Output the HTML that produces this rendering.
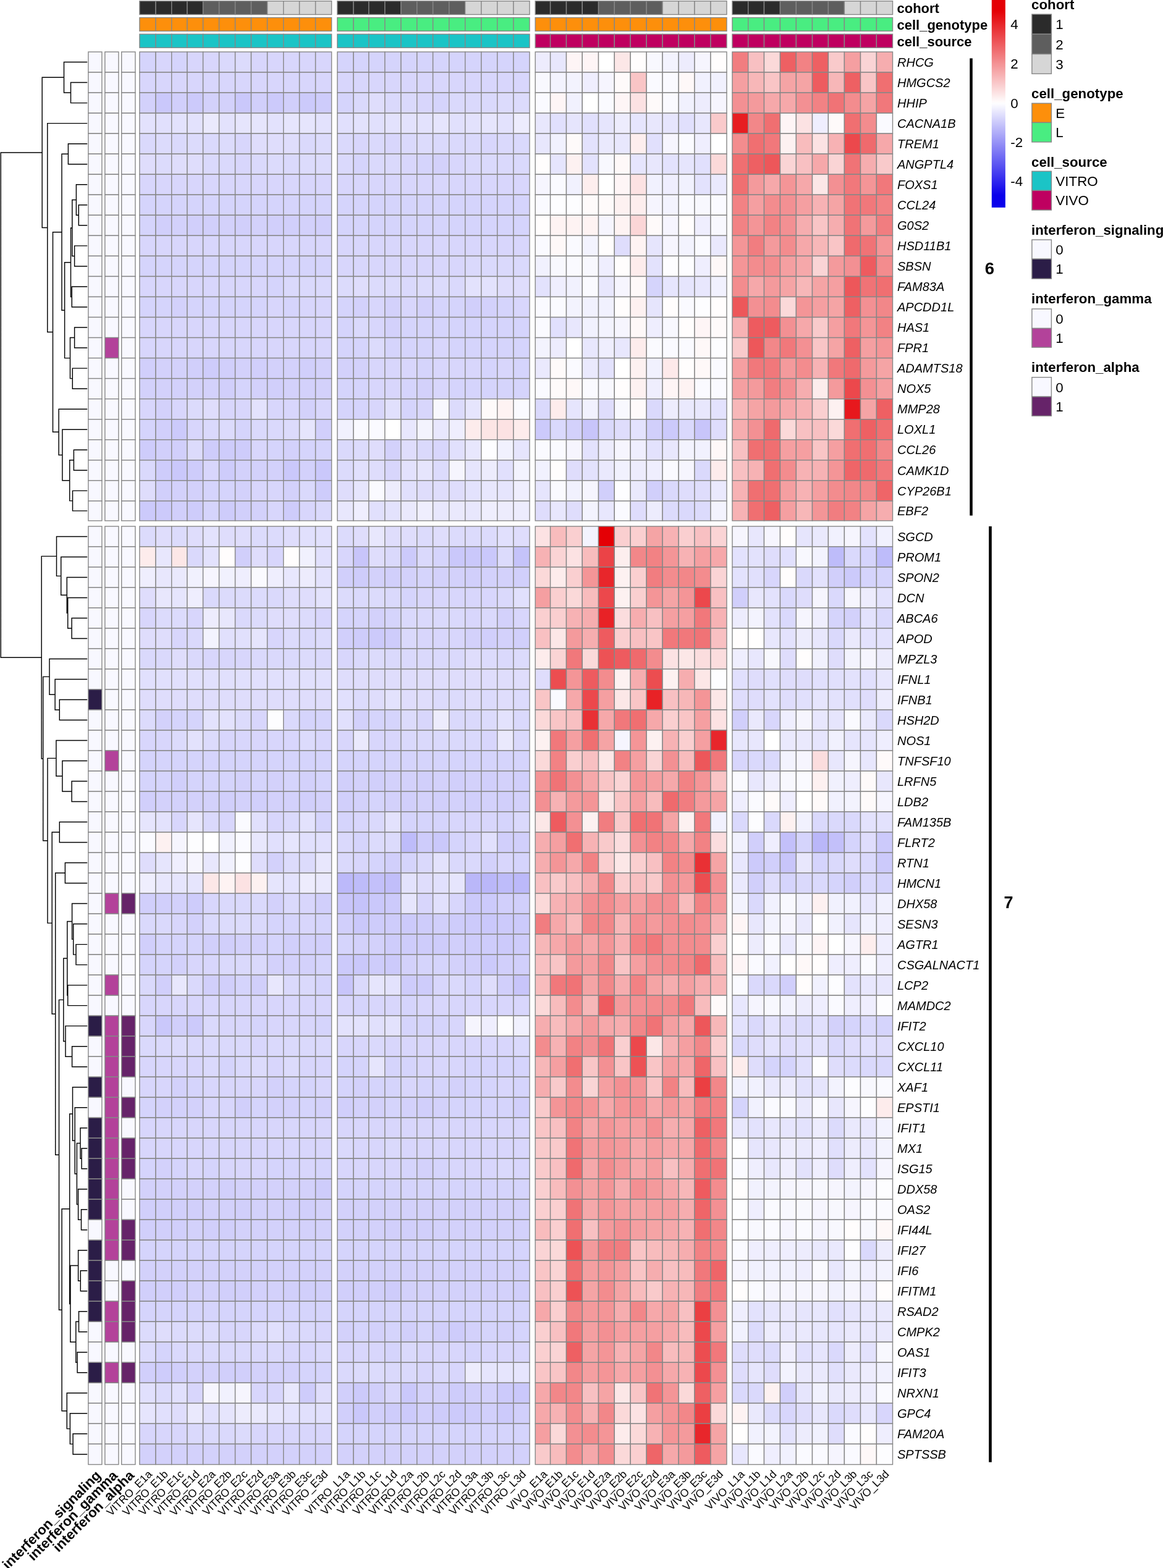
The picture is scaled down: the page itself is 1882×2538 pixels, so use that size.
<!DOCTYPE html>
<html><head><meta charset="utf-8"><title>heatmap</title>
<style>html,body{margin:0;padding:0;background:#fff;}svg{display:block;}</style>
</head><body>
<svg width="1882" height="2538" viewBox="0 0 1882 2538">
<rect x="0" y="0" width="1882" height="2538" fill="#ffffff"/>
<g stroke="#878787" stroke-width="1.4">
<rect x="225.90" y="84.00" width="26.10" height="33.04" fill="#d5d4fc"/>
<rect x="252.00" y="84.00" width="25.70" height="33.04" fill="#d8d6fc"/>
<rect x="277.70" y="84.00" width="25.20" height="33.04" fill="#d5d4fc"/>
<rect x="302.90" y="84.00" width="25.70" height="33.04" fill="#d8d6fc"/>
<rect x="328.60" y="84.00" width="26.00" height="33.04" fill="#d8d6fc"/>
<rect x="354.60" y="84.00" width="26.00" height="33.04" fill="#dad9fc"/>
<rect x="380.60" y="84.00" width="25.90" height="33.04" fill="#dcdbfc"/>
<rect x="406.50" y="84.00" width="26.10" height="33.04" fill="#d8d6fc"/>
<rect x="432.60" y="84.00" width="26.10" height="33.04" fill="#d8d6fc"/>
<rect x="458.70" y="84.00" width="25.90" height="33.04" fill="#d8d6fc"/>
<rect x="484.60" y="84.00" width="26.00" height="33.04" fill="#d8d6fc"/>
<rect x="510.60" y="84.00" width="26.00" height="33.04" fill="#d8d6fc"/>
<rect x="545.90" y="84.00" width="26.10" height="33.04" fill="#d5d4fc"/>
<rect x="572.00" y="84.00" width="24.80" height="33.04" fill="#d5d4fc"/>
<rect x="596.80" y="84.00" width="26.00" height="33.04" fill="#d5d4fc"/>
<rect x="622.80" y="84.00" width="26.10" height="33.04" fill="#d5d4fc"/>
<rect x="648.90" y="84.00" width="25.80" height="33.04" fill="#d5d4fc"/>
<rect x="674.70" y="84.00" width="25.90" height="33.04" fill="#d5d4fc"/>
<rect x="700.60" y="84.00" width="26.10" height="33.04" fill="#d5d4fc"/>
<rect x="726.70" y="84.00" width="26.00" height="33.04" fill="#d5d4fc"/>
<rect x="752.70" y="84.00" width="26.10" height="33.04" fill="#d5d4fc"/>
<rect x="778.80" y="84.00" width="25.90" height="33.04" fill="#d5d4fc"/>
<rect x="804.70" y="84.00" width="26.20" height="33.04" fill="#d5d4fc"/>
<rect x="830.90" y="84.00" width="26.10" height="33.04" fill="#d5d4fc"/>
<rect x="866.20" y="84.00" width="24.40" height="33.04" fill="#edecfd"/>
<rect x="890.60" y="84.00" width="25.90" height="33.04" fill="#e8e7fd"/>
<rect x="916.50" y="84.00" width="25.80" height="33.04" fill="#fef5f6"/>
<rect x="942.30" y="84.00" width="26.20" height="33.04" fill="#fef5f6"/>
<rect x="968.50" y="84.00" width="25.80" height="33.04" fill="#ffffff"/>
<rect x="994.30" y="84.00" width="25.90" height="33.04" fill="#fce7e7"/>
<rect x="1020.20" y="84.00" width="26.00" height="33.04" fill="#fffdfd"/>
<rect x="1046.20" y="84.00" width="25.90" height="33.04" fill="#f8f8fe"/>
<rect x="1072.10" y="84.00" width="26.10" height="33.04" fill="#f3f3fe"/>
<rect x="1098.20" y="84.00" width="25.80" height="33.04" fill="#edecfd"/>
<rect x="1124.00" y="84.00" width="26.00" height="33.04" fill="#f6f5fe"/>
<rect x="1150.00" y="84.00" width="26.00" height="33.04" fill="#fffdfd"/>
<rect x="1185.00" y="84.00" width="25.70" height="33.04" fill="#f17d80"/>
<rect x="1210.70" y="84.00" width="25.80" height="33.04" fill="#f8c0c2"/>
<rect x="1236.50" y="84.00" width="26.00" height="33.04" fill="#fbd9d9"/>
<rect x="1262.50" y="84.00" width="25.90" height="33.04" fill="#ee6063"/>
<rect x="1288.40" y="84.00" width="26.10" height="33.04" fill="#f28284"/>
<rect x="1314.50" y="84.00" width="25.90" height="33.04" fill="#ee6063"/>
<rect x="1340.40" y="84.00" width="26.00" height="33.04" fill="#f9cacb"/>
<rect x="1366.40" y="84.00" width="26.10" height="33.04" fill="#f59fa1"/>
<rect x="1392.50" y="84.00" width="25.90" height="33.04" fill="#fad4d5"/>
<rect x="1418.40" y="84.00" width="26.10" height="33.04" fill="#f6adaf"/>
<rect x="225.90" y="117.04" width="26.10" height="33.04" fill="#d8d6fc"/>
<rect x="252.00" y="117.04" width="25.70" height="33.04" fill="#d8d6fc"/>
<rect x="277.70" y="117.04" width="25.20" height="33.04" fill="#d8d6fc"/>
<rect x="302.90" y="117.04" width="25.70" height="33.04" fill="#d8d6fc"/>
<rect x="328.60" y="117.04" width="26.00" height="33.04" fill="#d8d6fc"/>
<rect x="354.60" y="117.04" width="26.00" height="33.04" fill="#d8d6fc"/>
<rect x="380.60" y="117.04" width="25.90" height="33.04" fill="#d8d6fc"/>
<rect x="406.50" y="117.04" width="26.10" height="33.04" fill="#d8d6fc"/>
<rect x="432.60" y="117.04" width="26.10" height="33.04" fill="#d8d6fc"/>
<rect x="458.70" y="117.04" width="25.90" height="33.04" fill="#d8d6fc"/>
<rect x="484.60" y="117.04" width="26.00" height="33.04" fill="#d8d6fc"/>
<rect x="510.60" y="117.04" width="26.00" height="33.04" fill="#d8d6fc"/>
<rect x="545.90" y="117.04" width="26.10" height="33.04" fill="#d8d6fc"/>
<rect x="572.00" y="117.04" width="24.80" height="33.04" fill="#d8d6fc"/>
<rect x="596.80" y="117.04" width="26.00" height="33.04" fill="#d8d6fc"/>
<rect x="622.80" y="117.04" width="26.10" height="33.04" fill="#d8d6fc"/>
<rect x="648.90" y="117.04" width="25.80" height="33.04" fill="#d8d6fc"/>
<rect x="674.70" y="117.04" width="25.90" height="33.04" fill="#d8d6fc"/>
<rect x="700.60" y="117.04" width="26.10" height="33.04" fill="#d8d6fc"/>
<rect x="726.70" y="117.04" width="26.00" height="33.04" fill="#d8d6fc"/>
<rect x="752.70" y="117.04" width="26.10" height="33.04" fill="#d8d6fc"/>
<rect x="778.80" y="117.04" width="25.90" height="33.04" fill="#d8d6fc"/>
<rect x="804.70" y="117.04" width="26.20" height="33.04" fill="#d8d6fc"/>
<rect x="830.90" y="117.04" width="26.10" height="33.04" fill="#d8d6fc"/>
<rect x="866.20" y="117.04" width="24.40" height="33.04" fill="#f8f8fe"/>
<rect x="890.60" y="117.04" width="25.90" height="33.04" fill="#f3f3fe"/>
<rect x="916.50" y="117.04" width="25.80" height="33.04" fill="#f3f3fe"/>
<rect x="942.30" y="117.04" width="26.20" height="33.04" fill="#efeefe"/>
<rect x="968.50" y="117.04" width="25.80" height="33.04" fill="#f6f5fe"/>
<rect x="994.30" y="117.04" width="25.90" height="33.04" fill="#fefafa"/>
<rect x="1020.20" y="117.04" width="26.00" height="33.04" fill="#f9c5c6"/>
<rect x="1046.20" y="117.04" width="25.90" height="33.04" fill="#fafaff"/>
<rect x="1072.10" y="117.04" width="26.10" height="33.04" fill="#fafaff"/>
<rect x="1098.20" y="117.04" width="25.80" height="33.04" fill="#fef8f8"/>
<rect x="1124.00" y="117.04" width="26.00" height="33.04" fill="#f1f1fe"/>
<rect x="1150.00" y="117.04" width="26.00" height="33.04" fill="#f1f1fe"/>
<rect x="1185.00" y="117.04" width="25.70" height="33.04" fill="#f59fa1"/>
<rect x="1210.70" y="117.04" width="25.80" height="33.04" fill="#f7b7b8"/>
<rect x="1236.50" y="117.04" width="26.00" height="33.04" fill="#f9c5c6"/>
<rect x="1262.50" y="117.04" width="25.90" height="33.04" fill="#f5a4a5"/>
<rect x="1288.40" y="117.04" width="26.10" height="33.04" fill="#f5a4a5"/>
<rect x="1314.50" y="117.04" width="25.90" height="33.04" fill="#ee5b5f"/>
<rect x="1340.40" y="117.04" width="26.00" height="33.04" fill="#f7b7b8"/>
<rect x="1366.40" y="117.04" width="26.10" height="33.04" fill="#ee6063"/>
<rect x="1392.50" y="117.04" width="25.90" height="33.04" fill="#f9c5c6"/>
<rect x="1418.40" y="117.04" width="26.10" height="33.04" fill="#f06f71"/>
<rect x="225.90" y="150.08" width="26.10" height="33.04" fill="#d3d1fb"/>
<rect x="252.00" y="150.08" width="25.70" height="33.04" fill="#cac8fb"/>
<rect x="277.70" y="150.08" width="25.20" height="33.04" fill="#d1cffb"/>
<rect x="302.90" y="150.08" width="25.70" height="33.04" fill="#cccafb"/>
<rect x="328.60" y="150.08" width="26.00" height="33.04" fill="#d3d1fb"/>
<rect x="354.60" y="150.08" width="26.00" height="33.04" fill="#d3d1fb"/>
<rect x="380.60" y="150.08" width="25.90" height="33.04" fill="#cac8fb"/>
<rect x="406.50" y="150.08" width="26.10" height="33.04" fill="#d1cffb"/>
<rect x="432.60" y="150.08" width="26.10" height="33.04" fill="#cccafb"/>
<rect x="458.70" y="150.08" width="25.90" height="33.04" fill="#d1cffb"/>
<rect x="484.60" y="150.08" width="26.00" height="33.04" fill="#cccafb"/>
<rect x="510.60" y="150.08" width="26.00" height="33.04" fill="#ceccfb"/>
<rect x="545.90" y="150.08" width="26.10" height="33.04" fill="#d5d4fc"/>
<rect x="572.00" y="150.08" width="24.80" height="33.04" fill="#dad9fc"/>
<rect x="596.80" y="150.08" width="26.00" height="33.04" fill="#dfddfc"/>
<rect x="622.80" y="150.08" width="26.10" height="33.04" fill="#dad9fc"/>
<rect x="648.90" y="150.08" width="25.80" height="33.04" fill="#dad9fc"/>
<rect x="674.70" y="150.08" width="25.90" height="33.04" fill="#d8d6fc"/>
<rect x="700.60" y="150.08" width="26.10" height="33.04" fill="#d5d4fc"/>
<rect x="726.70" y="150.08" width="26.00" height="33.04" fill="#dad9fc"/>
<rect x="752.70" y="150.08" width="26.10" height="33.04" fill="#dad9fc"/>
<rect x="778.80" y="150.08" width="25.90" height="33.04" fill="#dad9fc"/>
<rect x="804.70" y="150.08" width="26.20" height="33.04" fill="#dcdbfc"/>
<rect x="830.90" y="150.08" width="26.10" height="33.04" fill="#dcdbfc"/>
<rect x="866.20" y="150.08" width="24.40" height="33.04" fill="#fafaff"/>
<rect x="890.60" y="150.08" width="25.90" height="33.04" fill="#fef5f6"/>
<rect x="916.50" y="150.08" width="25.80" height="33.04" fill="#f1f1fe"/>
<rect x="942.30" y="150.08" width="26.20" height="33.04" fill="#ffffff"/>
<rect x="968.50" y="150.08" width="25.80" height="33.04" fill="#fafaff"/>
<rect x="994.30" y="150.08" width="25.90" height="33.04" fill="#fef5f6"/>
<rect x="1020.20" y="150.08" width="26.00" height="33.04" fill="#fce2e3"/>
<rect x="1046.20" y="150.08" width="25.90" height="33.04" fill="#fefafa"/>
<rect x="1072.10" y="150.08" width="26.10" height="33.04" fill="#fafaff"/>
<rect x="1098.20" y="150.08" width="25.80" height="33.04" fill="#f1f1fe"/>
<rect x="1124.00" y="150.08" width="26.00" height="33.04" fill="#edecfd"/>
<rect x="1150.00" y="150.08" width="26.00" height="33.04" fill="#f6f5fe"/>
<rect x="1185.00" y="150.08" width="25.70" height="33.04" fill="#f39093"/>
<rect x="1210.70" y="150.08" width="25.80" height="33.04" fill="#f49a9c"/>
<rect x="1236.50" y="150.08" width="26.00" height="33.04" fill="#f6a8aa"/>
<rect x="1262.50" y="150.08" width="25.90" height="33.04" fill="#f6a8aa"/>
<rect x="1288.40" y="150.08" width="26.10" height="33.04" fill="#f39093"/>
<rect x="1314.50" y="150.08" width="25.90" height="33.04" fill="#f28284"/>
<rect x="1340.40" y="150.08" width="26.00" height="33.04" fill="#f07376"/>
<rect x="1366.40" y="150.08" width="26.10" height="33.04" fill="#f38c8e"/>
<rect x="1392.50" y="150.08" width="25.90" height="33.04" fill="#f5a4a5"/>
<rect x="1418.40" y="150.08" width="26.10" height="33.04" fill="#f1787b"/>
<rect x="225.90" y="183.12" width="26.10" height="33.04" fill="#e3e2fd"/>
<rect x="252.00" y="183.12" width="25.70" height="33.04" fill="#e1e0fd"/>
<rect x="277.70" y="183.12" width="25.20" height="33.04" fill="#e3e2fd"/>
<rect x="302.90" y="183.12" width="25.70" height="33.04" fill="#e3e2fd"/>
<rect x="328.60" y="183.12" width="26.00" height="33.04" fill="#eae9fd"/>
<rect x="354.60" y="183.12" width="26.00" height="33.04" fill="#e3e2fd"/>
<rect x="380.60" y="183.12" width="25.90" height="33.04" fill="#e6e5fd"/>
<rect x="406.50" y="183.12" width="26.10" height="33.04" fill="#e6e5fd"/>
<rect x="432.60" y="183.12" width="26.10" height="33.04" fill="#e3e2fd"/>
<rect x="458.70" y="183.12" width="25.90" height="33.04" fill="#e6e5fd"/>
<rect x="484.60" y="183.12" width="26.00" height="33.04" fill="#e6e5fd"/>
<rect x="510.60" y="183.12" width="26.00" height="33.04" fill="#e3e2fd"/>
<rect x="545.90" y="183.12" width="26.10" height="33.04" fill="#e1e0fd"/>
<rect x="572.00" y="183.12" width="24.80" height="33.04" fill="#e3e2fd"/>
<rect x="596.80" y="183.12" width="26.00" height="33.04" fill="#e1e0fd"/>
<rect x="622.80" y="183.12" width="26.10" height="33.04" fill="#e3e2fd"/>
<rect x="648.90" y="183.12" width="25.80" height="33.04" fill="#e3e2fd"/>
<rect x="674.70" y="183.12" width="25.90" height="33.04" fill="#e3e2fd"/>
<rect x="700.60" y="183.12" width="26.10" height="33.04" fill="#e6e5fd"/>
<rect x="726.70" y="183.12" width="26.00" height="33.04" fill="#e1e0fd"/>
<rect x="752.70" y="183.12" width="26.10" height="33.04" fill="#e3e2fd"/>
<rect x="778.80" y="183.12" width="25.90" height="33.04" fill="#e6e5fd"/>
<rect x="804.70" y="183.12" width="26.20" height="33.04" fill="#e3e2fd"/>
<rect x="830.90" y="183.12" width="26.10" height="33.04" fill="#edecfd"/>
<rect x="866.20" y="183.12" width="24.40" height="33.04" fill="#e8e7fd"/>
<rect x="890.60" y="183.12" width="25.90" height="33.04" fill="#e1e0fd"/>
<rect x="916.50" y="183.12" width="25.80" height="33.04" fill="#e6e5fd"/>
<rect x="942.30" y="183.12" width="26.20" height="33.04" fill="#e1e0fd"/>
<rect x="968.50" y="183.12" width="25.80" height="33.04" fill="#e6e5fd"/>
<rect x="994.30" y="183.12" width="25.90" height="33.04" fill="#edecfd"/>
<rect x="1020.20" y="183.12" width="26.00" height="33.04" fill="#e6e5fd"/>
<rect x="1046.20" y="183.12" width="25.90" height="33.04" fill="#e8e7fd"/>
<rect x="1072.10" y="183.12" width="26.10" height="33.04" fill="#e6e5fd"/>
<rect x="1098.20" y="183.12" width="25.80" height="33.04" fill="#e1e0fd"/>
<rect x="1124.00" y="183.12" width="26.00" height="33.04" fill="#e8e7fd"/>
<rect x="1150.00" y="183.12" width="26.00" height="33.04" fill="#f9cacb"/>
<rect x="1185.00" y="183.12" width="25.70" height="33.04" fill="#e71d21"/>
<rect x="1210.70" y="183.12" width="25.80" height="33.04" fill="#f28789"/>
<rect x="1236.50" y="183.12" width="26.00" height="33.04" fill="#f06f71"/>
<rect x="1262.50" y="183.12" width="25.90" height="33.04" fill="#fef5f6"/>
<rect x="1288.40" y="183.12" width="26.10" height="33.04" fill="#fce2e3"/>
<rect x="1314.50" y="183.12" width="25.90" height="33.04" fill="#efeefe"/>
<rect x="1340.40" y="183.12" width="26.00" height="33.04" fill="#fefafa"/>
<rect x="1366.40" y="183.12" width="26.10" height="33.04" fill="#f06f71"/>
<rect x="1392.50" y="183.12" width="25.90" height="33.04" fill="#f38c8e"/>
<rect x="1418.40" y="183.12" width="26.10" height="33.04" fill="#fafaff"/>
<rect x="225.90" y="216.16" width="26.10" height="33.04" fill="#dad9fc"/>
<rect x="252.00" y="216.16" width="25.70" height="33.04" fill="#dcdbfc"/>
<rect x="277.70" y="216.16" width="25.20" height="33.04" fill="#dad9fc"/>
<rect x="302.90" y="216.16" width="25.70" height="33.04" fill="#dcdbfc"/>
<rect x="328.60" y="216.16" width="26.00" height="33.04" fill="#dad9fc"/>
<rect x="354.60" y="216.16" width="26.00" height="33.04" fill="#dcdbfc"/>
<rect x="380.60" y="216.16" width="25.90" height="33.04" fill="#d8d6fc"/>
<rect x="406.50" y="216.16" width="26.10" height="33.04" fill="#dfddfc"/>
<rect x="432.60" y="216.16" width="26.10" height="33.04" fill="#dfddfc"/>
<rect x="458.70" y="216.16" width="25.90" height="33.04" fill="#dfddfc"/>
<rect x="484.60" y="216.16" width="26.00" height="33.04" fill="#dad9fc"/>
<rect x="510.60" y="216.16" width="26.00" height="33.04" fill="#dcdbfc"/>
<rect x="545.90" y="216.16" width="26.10" height="33.04" fill="#dad9fc"/>
<rect x="572.00" y="216.16" width="24.80" height="33.04" fill="#d8d6fc"/>
<rect x="596.80" y="216.16" width="26.00" height="33.04" fill="#dad9fc"/>
<rect x="622.80" y="216.16" width="26.10" height="33.04" fill="#d8d6fc"/>
<rect x="648.90" y="216.16" width="25.80" height="33.04" fill="#dad9fc"/>
<rect x="674.70" y="216.16" width="25.90" height="33.04" fill="#dcdbfc"/>
<rect x="700.60" y="216.16" width="26.10" height="33.04" fill="#dad9fc"/>
<rect x="726.70" y="216.16" width="26.00" height="33.04" fill="#dad9fc"/>
<rect x="752.70" y="216.16" width="26.10" height="33.04" fill="#dad9fc"/>
<rect x="778.80" y="216.16" width="25.90" height="33.04" fill="#d8d6fc"/>
<rect x="804.70" y="216.16" width="26.20" height="33.04" fill="#dad9fc"/>
<rect x="830.90" y="216.16" width="26.10" height="33.04" fill="#dad9fc"/>
<rect x="866.20" y="216.16" width="24.40" height="33.04" fill="#e8e7fd"/>
<rect x="890.60" y="216.16" width="25.90" height="33.04" fill="#f1f1fe"/>
<rect x="916.50" y="216.16" width="25.80" height="33.04" fill="#fefafa"/>
<rect x="942.30" y="216.16" width="26.20" height="33.04" fill="#e3e2fd"/>
<rect x="968.50" y="216.16" width="25.80" height="33.04" fill="#eae9fd"/>
<rect x="994.30" y="216.16" width="25.90" height="33.04" fill="#e8e7fd"/>
<rect x="1020.20" y="216.16" width="26.00" height="33.04" fill="#fdeeee"/>
<rect x="1046.20" y="216.16" width="25.90" height="33.04" fill="#e1e0fd"/>
<rect x="1072.10" y="216.16" width="26.10" height="33.04" fill="#f6f5fe"/>
<rect x="1098.20" y="216.16" width="25.80" height="33.04" fill="#fafaff"/>
<rect x="1124.00" y="216.16" width="26.00" height="33.04" fill="#efeefe"/>
<rect x="1150.00" y="216.16" width="26.00" height="33.04" fill="#ffffff"/>
<rect x="1185.00" y="216.16" width="25.70" height="33.04" fill="#f38c8e"/>
<rect x="1210.70" y="216.16" width="25.80" height="33.04" fill="#f06f71"/>
<rect x="1236.50" y="216.16" width="26.00" height="33.04" fill="#f1787b"/>
<rect x="1262.50" y="216.16" width="25.90" height="33.04" fill="#fdf1f1"/>
<rect x="1288.40" y="216.16" width="26.10" height="33.04" fill="#f8bcbd"/>
<rect x="1314.50" y="216.16" width="25.90" height="33.04" fill="#fce2e3"/>
<rect x="1340.40" y="216.16" width="26.00" height="33.04" fill="#f7b2b4"/>
<rect x="1366.40" y="216.16" width="26.10" height="33.04" fill="#ec484c"/>
<rect x="1392.50" y="216.16" width="25.90" height="33.04" fill="#ef6a6d"/>
<rect x="1418.40" y="216.16" width="26.10" height="33.04" fill="#f6a8aa"/>
<rect x="225.90" y="249.20" width="26.10" height="33.04" fill="#dfddfc"/>
<rect x="252.00" y="249.20" width="25.70" height="33.04" fill="#dcdbfc"/>
<rect x="277.70" y="249.20" width="25.20" height="33.04" fill="#dfddfc"/>
<rect x="302.90" y="249.20" width="25.70" height="33.04" fill="#dfddfc"/>
<rect x="328.60" y="249.20" width="26.00" height="33.04" fill="#dad9fc"/>
<rect x="354.60" y="249.20" width="26.00" height="33.04" fill="#dad9fc"/>
<rect x="380.60" y="249.20" width="25.90" height="33.04" fill="#d8d6fc"/>
<rect x="406.50" y="249.20" width="26.10" height="33.04" fill="#dad9fc"/>
<rect x="432.60" y="249.20" width="26.10" height="33.04" fill="#dcdbfc"/>
<rect x="458.70" y="249.20" width="25.90" height="33.04" fill="#dad9fc"/>
<rect x="484.60" y="249.20" width="26.00" height="33.04" fill="#dcdbfc"/>
<rect x="510.60" y="249.20" width="26.00" height="33.04" fill="#dcdbfc"/>
<rect x="545.90" y="249.20" width="26.10" height="33.04" fill="#dad9fc"/>
<rect x="572.00" y="249.20" width="24.80" height="33.04" fill="#d5d4fc"/>
<rect x="596.80" y="249.20" width="26.00" height="33.04" fill="#dad9fc"/>
<rect x="622.80" y="249.20" width="26.10" height="33.04" fill="#dad9fc"/>
<rect x="648.90" y="249.20" width="25.80" height="33.04" fill="#d8d6fc"/>
<rect x="674.70" y="249.20" width="25.90" height="33.04" fill="#d5d4fc"/>
<rect x="700.60" y="249.20" width="26.10" height="33.04" fill="#d3d1fb"/>
<rect x="726.70" y="249.20" width="26.00" height="33.04" fill="#d8d6fc"/>
<rect x="752.70" y="249.20" width="26.10" height="33.04" fill="#dad9fc"/>
<rect x="778.80" y="249.20" width="25.90" height="33.04" fill="#dad9fc"/>
<rect x="804.70" y="249.20" width="26.20" height="33.04" fill="#dad9fc"/>
<rect x="830.90" y="249.20" width="26.10" height="33.04" fill="#dad9fc"/>
<rect x="866.20" y="249.20" width="24.40" height="33.04" fill="#fffdfd"/>
<rect x="890.60" y="249.20" width="25.90" height="33.04" fill="#e6e5fd"/>
<rect x="916.50" y="249.20" width="25.80" height="33.04" fill="#fdf1f1"/>
<rect x="942.30" y="249.20" width="26.20" height="33.04" fill="#e3e2fd"/>
<rect x="968.50" y="249.20" width="25.80" height="33.04" fill="#f8f8fe"/>
<rect x="994.30" y="249.20" width="25.90" height="33.04" fill="#fef8f8"/>
<rect x="1020.20" y="249.20" width="26.00" height="33.04" fill="#e6e5fd"/>
<rect x="1046.20" y="249.20" width="25.90" height="33.04" fill="#e8e7fd"/>
<rect x="1072.10" y="249.20" width="26.10" height="33.04" fill="#e3e2fd"/>
<rect x="1098.20" y="249.20" width="25.80" height="33.04" fill="#e6e5fd"/>
<rect x="1124.00" y="249.20" width="26.00" height="33.04" fill="#e1e0fd"/>
<rect x="1150.00" y="249.20" width="26.00" height="33.04" fill="#fbd9d9"/>
<rect x="1185.00" y="249.20" width="25.70" height="33.04" fill="#f06f71"/>
<rect x="1210.70" y="249.20" width="25.80" height="33.04" fill="#ee6063"/>
<rect x="1236.50" y="249.20" width="26.00" height="33.04" fill="#ed575a"/>
<rect x="1262.50" y="249.20" width="25.90" height="33.04" fill="#fad4d5"/>
<rect x="1288.40" y="249.20" width="26.10" height="33.04" fill="#f8c0c2"/>
<rect x="1314.50" y="249.20" width="25.90" height="33.04" fill="#f6a8aa"/>
<rect x="1340.40" y="249.20" width="26.00" height="33.04" fill="#fad4d5"/>
<rect x="1366.40" y="249.20" width="26.10" height="33.04" fill="#f07376"/>
<rect x="1392.50" y="249.20" width="25.90" height="33.04" fill="#f6adaf"/>
<rect x="1418.40" y="249.20" width="26.10" height="33.04" fill="#f9cacb"/>
<rect x="225.90" y="282.24" width="26.10" height="33.04" fill="#d8d6fc"/>
<rect x="252.00" y="282.24" width="25.70" height="33.04" fill="#d8d6fc"/>
<rect x="277.70" y="282.24" width="25.20" height="33.04" fill="#d8d6fc"/>
<rect x="302.90" y="282.24" width="25.70" height="33.04" fill="#d8d6fc"/>
<rect x="328.60" y="282.24" width="26.00" height="33.04" fill="#d8d6fc"/>
<rect x="354.60" y="282.24" width="26.00" height="33.04" fill="#d8d6fc"/>
<rect x="380.60" y="282.24" width="25.90" height="33.04" fill="#d8d6fc"/>
<rect x="406.50" y="282.24" width="26.10" height="33.04" fill="#d8d6fc"/>
<rect x="432.60" y="282.24" width="26.10" height="33.04" fill="#d8d6fc"/>
<rect x="458.70" y="282.24" width="25.90" height="33.04" fill="#d8d6fc"/>
<rect x="484.60" y="282.24" width="26.00" height="33.04" fill="#d8d6fc"/>
<rect x="510.60" y="282.24" width="26.00" height="33.04" fill="#d8d6fc"/>
<rect x="545.90" y="282.24" width="26.10" height="33.04" fill="#d8d6fc"/>
<rect x="572.00" y="282.24" width="24.80" height="33.04" fill="#d8d6fc"/>
<rect x="596.80" y="282.24" width="26.00" height="33.04" fill="#d8d6fc"/>
<rect x="622.80" y="282.24" width="26.10" height="33.04" fill="#d8d6fc"/>
<rect x="648.90" y="282.24" width="25.80" height="33.04" fill="#d8d6fc"/>
<rect x="674.70" y="282.24" width="25.90" height="33.04" fill="#d8d6fc"/>
<rect x="700.60" y="282.24" width="26.10" height="33.04" fill="#d8d6fc"/>
<rect x="726.70" y="282.24" width="26.00" height="33.04" fill="#d8d6fc"/>
<rect x="752.70" y="282.24" width="26.10" height="33.04" fill="#d8d6fc"/>
<rect x="778.80" y="282.24" width="25.90" height="33.04" fill="#d8d6fc"/>
<rect x="804.70" y="282.24" width="26.20" height="33.04" fill="#d8d6fc"/>
<rect x="830.90" y="282.24" width="26.10" height="33.04" fill="#d8d6fc"/>
<rect x="866.20" y="282.24" width="24.40" height="33.04" fill="#f6f5fe"/>
<rect x="890.60" y="282.24" width="25.90" height="33.04" fill="#fafaff"/>
<rect x="916.50" y="282.24" width="25.80" height="33.04" fill="#f1f1fe"/>
<rect x="942.30" y="282.24" width="26.20" height="33.04" fill="#fdeeee"/>
<rect x="968.50" y="282.24" width="25.80" height="33.04" fill="#ffffff"/>
<rect x="994.30" y="282.24" width="25.90" height="33.04" fill="#fef5f6"/>
<rect x="1020.20" y="282.24" width="26.00" height="33.04" fill="#fce2e3"/>
<rect x="1046.20" y="282.24" width="25.90" height="33.04" fill="#f1f1fe"/>
<rect x="1072.10" y="282.24" width="26.10" height="33.04" fill="#efeefe"/>
<rect x="1098.20" y="282.24" width="25.80" height="33.04" fill="#f1f1fe"/>
<rect x="1124.00" y="282.24" width="26.00" height="33.04" fill="#e3e2fd"/>
<rect x="1150.00" y="282.24" width="26.00" height="33.04" fill="#eae9fd"/>
<rect x="1185.00" y="282.24" width="25.70" height="33.04" fill="#f06f71"/>
<rect x="1210.70" y="282.24" width="25.80" height="33.04" fill="#f49a9c"/>
<rect x="1236.50" y="282.24" width="26.00" height="33.04" fill="#f6a8aa"/>
<rect x="1262.50" y="282.24" width="25.90" height="33.04" fill="#f49597"/>
<rect x="1288.40" y="282.24" width="26.10" height="33.04" fill="#f6a8aa"/>
<rect x="1314.50" y="282.24" width="25.90" height="33.04" fill="#fce7e7"/>
<rect x="1340.40" y="282.24" width="26.00" height="33.04" fill="#f39093"/>
<rect x="1366.40" y="282.24" width="26.10" height="33.04" fill="#f1787b"/>
<rect x="1392.50" y="282.24" width="25.90" height="33.04" fill="#f49597"/>
<rect x="1418.40" y="282.24" width="26.10" height="33.04" fill="#f1787b"/>
<rect x="225.90" y="315.28" width="26.10" height="33.04" fill="#d5d4fc"/>
<rect x="252.00" y="315.28" width="25.70" height="33.04" fill="#d5d4fc"/>
<rect x="277.70" y="315.28" width="25.20" height="33.04" fill="#d5d4fc"/>
<rect x="302.90" y="315.28" width="25.70" height="33.04" fill="#d5d4fc"/>
<rect x="328.60" y="315.28" width="26.00" height="33.04" fill="#d5d4fc"/>
<rect x="354.60" y="315.28" width="26.00" height="33.04" fill="#d5d4fc"/>
<rect x="380.60" y="315.28" width="25.90" height="33.04" fill="#d5d4fc"/>
<rect x="406.50" y="315.28" width="26.10" height="33.04" fill="#d5d4fc"/>
<rect x="432.60" y="315.28" width="26.10" height="33.04" fill="#d5d4fc"/>
<rect x="458.70" y="315.28" width="25.90" height="33.04" fill="#d5d4fc"/>
<rect x="484.60" y="315.28" width="26.00" height="33.04" fill="#d5d4fc"/>
<rect x="510.60" y="315.28" width="26.00" height="33.04" fill="#d5d4fc"/>
<rect x="545.90" y="315.28" width="26.10" height="33.04" fill="#d5d4fc"/>
<rect x="572.00" y="315.28" width="24.80" height="33.04" fill="#d5d4fc"/>
<rect x="596.80" y="315.28" width="26.00" height="33.04" fill="#d5d4fc"/>
<rect x="622.80" y="315.28" width="26.10" height="33.04" fill="#d5d4fc"/>
<rect x="648.90" y="315.28" width="25.80" height="33.04" fill="#d5d4fc"/>
<rect x="674.70" y="315.28" width="25.90" height="33.04" fill="#d5d4fc"/>
<rect x="700.60" y="315.28" width="26.10" height="33.04" fill="#d5d4fc"/>
<rect x="726.70" y="315.28" width="26.00" height="33.04" fill="#d5d4fc"/>
<rect x="752.70" y="315.28" width="26.10" height="33.04" fill="#d5d4fc"/>
<rect x="778.80" y="315.28" width="25.90" height="33.04" fill="#d5d4fc"/>
<rect x="804.70" y="315.28" width="26.20" height="33.04" fill="#d5d4fc"/>
<rect x="830.90" y="315.28" width="26.10" height="33.04" fill="#d5d4fc"/>
<rect x="866.20" y="315.28" width="24.40" height="33.04" fill="#fafaff"/>
<rect x="890.60" y="315.28" width="25.90" height="33.04" fill="#fdfdff"/>
<rect x="916.50" y="315.28" width="25.80" height="33.04" fill="#fdfdff"/>
<rect x="942.30" y="315.28" width="26.20" height="33.04" fill="#fefafa"/>
<rect x="968.50" y="315.28" width="25.80" height="33.04" fill="#fefafa"/>
<rect x="994.30" y="315.28" width="25.90" height="33.04" fill="#fdf1f1"/>
<rect x="1020.20" y="315.28" width="26.00" height="33.04" fill="#fdeeee"/>
<rect x="1046.20" y="315.28" width="25.90" height="33.04" fill="#f6f5fe"/>
<rect x="1072.10" y="315.28" width="26.10" height="33.04" fill="#f3f3fe"/>
<rect x="1098.20" y="315.28" width="25.80" height="33.04" fill="#fafaff"/>
<rect x="1124.00" y="315.28" width="26.00" height="33.04" fill="#f8f8fe"/>
<rect x="1150.00" y="315.28" width="26.00" height="33.04" fill="#fafaff"/>
<rect x="1185.00" y="315.28" width="25.70" height="33.04" fill="#f28284"/>
<rect x="1210.70" y="315.28" width="25.80" height="33.04" fill="#f59fa1"/>
<rect x="1236.50" y="315.28" width="26.00" height="33.04" fill="#f38c8e"/>
<rect x="1262.50" y="315.28" width="25.90" height="33.04" fill="#f39093"/>
<rect x="1288.40" y="315.28" width="26.10" height="33.04" fill="#f59fa1"/>
<rect x="1314.50" y="315.28" width="25.90" height="33.04" fill="#f7b2b4"/>
<rect x="1340.40" y="315.28" width="26.00" height="33.04" fill="#f5a4a5"/>
<rect x="1366.40" y="315.28" width="26.10" height="33.04" fill="#f07376"/>
<rect x="1392.50" y="315.28" width="25.90" height="33.04" fill="#f1787b"/>
<rect x="1418.40" y="315.28" width="26.10" height="33.04" fill="#f28284"/>
<rect x="225.90" y="348.32" width="26.10" height="33.04" fill="#d5d4fc"/>
<rect x="252.00" y="348.32" width="25.70" height="33.04" fill="#d1cffb"/>
<rect x="277.70" y="348.32" width="25.20" height="33.04" fill="#d3d1fb"/>
<rect x="302.90" y="348.32" width="25.70" height="33.04" fill="#d1cffb"/>
<rect x="328.60" y="348.32" width="26.00" height="33.04" fill="#d1cffb"/>
<rect x="354.60" y="348.32" width="26.00" height="33.04" fill="#d3d1fb"/>
<rect x="380.60" y="348.32" width="25.90" height="33.04" fill="#d1cffb"/>
<rect x="406.50" y="348.32" width="26.10" height="33.04" fill="#d3d1fb"/>
<rect x="432.60" y="348.32" width="26.10" height="33.04" fill="#d1cffb"/>
<rect x="458.70" y="348.32" width="25.90" height="33.04" fill="#d1cffb"/>
<rect x="484.60" y="348.32" width="26.00" height="33.04" fill="#d3d1fb"/>
<rect x="510.60" y="348.32" width="26.00" height="33.04" fill="#d1cffb"/>
<rect x="545.90" y="348.32" width="26.10" height="33.04" fill="#d5d4fc"/>
<rect x="572.00" y="348.32" width="24.80" height="33.04" fill="#d5d4fc"/>
<rect x="596.80" y="348.32" width="26.00" height="33.04" fill="#d5d4fc"/>
<rect x="622.80" y="348.32" width="26.10" height="33.04" fill="#d5d4fc"/>
<rect x="648.90" y="348.32" width="25.80" height="33.04" fill="#d5d4fc"/>
<rect x="674.70" y="348.32" width="25.90" height="33.04" fill="#d5d4fc"/>
<rect x="700.60" y="348.32" width="26.10" height="33.04" fill="#d5d4fc"/>
<rect x="726.70" y="348.32" width="26.00" height="33.04" fill="#d5d4fc"/>
<rect x="752.70" y="348.32" width="26.10" height="33.04" fill="#d5d4fc"/>
<rect x="778.80" y="348.32" width="25.90" height="33.04" fill="#d5d4fc"/>
<rect x="804.70" y="348.32" width="26.20" height="33.04" fill="#d5d4fc"/>
<rect x="830.90" y="348.32" width="26.10" height="33.04" fill="#d5d4fc"/>
<rect x="866.20" y="348.32" width="24.40" height="33.04" fill="#fffdfd"/>
<rect x="890.60" y="348.32" width="25.90" height="33.04" fill="#fef3f3"/>
<rect x="916.50" y="348.32" width="25.80" height="33.04" fill="#fef3f3"/>
<rect x="942.30" y="348.32" width="26.20" height="33.04" fill="#fef3f3"/>
<rect x="968.50" y="348.32" width="25.80" height="33.04" fill="#f6f5fe"/>
<rect x="994.30" y="348.32" width="25.90" height="33.04" fill="#fef3f3"/>
<rect x="1020.20" y="348.32" width="26.00" height="33.04" fill="#fbd6d7"/>
<rect x="1046.20" y="348.32" width="25.90" height="33.04" fill="#fefafa"/>
<rect x="1072.10" y="348.32" width="26.10" height="33.04" fill="#f6f5fe"/>
<rect x="1098.20" y="348.32" width="25.80" height="33.04" fill="#fffdfd"/>
<rect x="1124.00" y="348.32" width="26.00" height="33.04" fill="#efeefe"/>
<rect x="1150.00" y="348.32" width="26.00" height="33.04" fill="#f8f8fe"/>
<rect x="1185.00" y="348.32" width="25.70" height="33.04" fill="#f28284"/>
<rect x="1210.70" y="348.32" width="25.80" height="33.04" fill="#f49597"/>
<rect x="1236.50" y="348.32" width="26.00" height="33.04" fill="#f28284"/>
<rect x="1262.50" y="348.32" width="25.90" height="33.04" fill="#f39093"/>
<rect x="1288.40" y="348.32" width="26.10" height="33.04" fill="#f6adaf"/>
<rect x="1314.50" y="348.32" width="25.90" height="33.04" fill="#f9c5c6"/>
<rect x="1340.40" y="348.32" width="26.00" height="33.04" fill="#f6adaf"/>
<rect x="1366.40" y="348.32" width="26.10" height="33.04" fill="#f07376"/>
<rect x="1392.50" y="348.32" width="25.90" height="33.04" fill="#f49a9c"/>
<rect x="1418.40" y="348.32" width="26.10" height="33.04" fill="#f17d80"/>
<rect x="225.90" y="381.36" width="26.10" height="33.04" fill="#d8d6fc"/>
<rect x="252.00" y="381.36" width="25.70" height="33.04" fill="#d8d6fc"/>
<rect x="277.70" y="381.36" width="25.20" height="33.04" fill="#d8d6fc"/>
<rect x="302.90" y="381.36" width="25.70" height="33.04" fill="#d8d6fc"/>
<rect x="328.60" y="381.36" width="26.00" height="33.04" fill="#d8d6fc"/>
<rect x="354.60" y="381.36" width="26.00" height="33.04" fill="#d8d6fc"/>
<rect x="380.60" y="381.36" width="25.90" height="33.04" fill="#d8d6fc"/>
<rect x="406.50" y="381.36" width="26.10" height="33.04" fill="#d8d6fc"/>
<rect x="432.60" y="381.36" width="26.10" height="33.04" fill="#d8d6fc"/>
<rect x="458.70" y="381.36" width="25.90" height="33.04" fill="#d8d6fc"/>
<rect x="484.60" y="381.36" width="26.00" height="33.04" fill="#d8d6fc"/>
<rect x="510.60" y="381.36" width="26.00" height="33.04" fill="#d8d6fc"/>
<rect x="545.90" y="381.36" width="26.10" height="33.04" fill="#d8d6fc"/>
<rect x="572.00" y="381.36" width="24.80" height="33.04" fill="#d8d6fc"/>
<rect x="596.80" y="381.36" width="26.00" height="33.04" fill="#d8d6fc"/>
<rect x="622.80" y="381.36" width="26.10" height="33.04" fill="#d8d6fc"/>
<rect x="648.90" y="381.36" width="25.80" height="33.04" fill="#d8d6fc"/>
<rect x="674.70" y="381.36" width="25.90" height="33.04" fill="#d8d6fc"/>
<rect x="700.60" y="381.36" width="26.10" height="33.04" fill="#d8d6fc"/>
<rect x="726.70" y="381.36" width="26.00" height="33.04" fill="#d8d6fc"/>
<rect x="752.70" y="381.36" width="26.10" height="33.04" fill="#d8d6fc"/>
<rect x="778.80" y="381.36" width="25.90" height="33.04" fill="#d8d6fc"/>
<rect x="804.70" y="381.36" width="26.20" height="33.04" fill="#d8d6fc"/>
<rect x="830.90" y="381.36" width="26.10" height="33.04" fill="#d8d6fc"/>
<rect x="866.20" y="381.36" width="24.40" height="33.04" fill="#fafaff"/>
<rect x="890.60" y="381.36" width="25.90" height="33.04" fill="#fef8f8"/>
<rect x="916.50" y="381.36" width="25.80" height="33.04" fill="#fafaff"/>
<rect x="942.30" y="381.36" width="26.20" height="33.04" fill="#f3f3fe"/>
<rect x="968.50" y="381.36" width="25.80" height="33.04" fill="#fffdfd"/>
<rect x="994.30" y="381.36" width="25.90" height="33.04" fill="#dfddfc"/>
<rect x="1020.20" y="381.36" width="26.00" height="33.04" fill="#fef3f3"/>
<rect x="1046.20" y="381.36" width="25.90" height="33.04" fill="#e6e5fd"/>
<rect x="1072.10" y="381.36" width="26.10" height="33.04" fill="#f6f5fe"/>
<rect x="1098.20" y="381.36" width="25.80" height="33.04" fill="#f3f3fe"/>
<rect x="1124.00" y="381.36" width="26.00" height="33.04" fill="#fafaff"/>
<rect x="1150.00" y="381.36" width="26.00" height="33.04" fill="#eae9fd"/>
<rect x="1185.00" y="381.36" width="25.70" height="33.04" fill="#f49597"/>
<rect x="1210.70" y="381.36" width="25.80" height="33.04" fill="#f17d80"/>
<rect x="1236.50" y="381.36" width="26.00" height="33.04" fill="#f49a9c"/>
<rect x="1262.50" y="381.36" width="25.90" height="33.04" fill="#f38c8e"/>
<rect x="1288.40" y="381.36" width="26.10" height="33.04" fill="#f6a8aa"/>
<rect x="1314.50" y="381.36" width="25.90" height="33.04" fill="#f7b7b8"/>
<rect x="1340.40" y="381.36" width="26.00" height="33.04" fill="#f9c5c6"/>
<rect x="1366.40" y="381.36" width="26.10" height="33.04" fill="#ef6a6d"/>
<rect x="1392.50" y="381.36" width="25.90" height="33.04" fill="#f07376"/>
<rect x="1418.40" y="381.36" width="26.10" height="33.04" fill="#f49597"/>
<rect x="225.90" y="414.40" width="26.10" height="33.04" fill="#d5d4fc"/>
<rect x="252.00" y="414.40" width="25.70" height="33.04" fill="#d5d4fc"/>
<rect x="277.70" y="414.40" width="25.20" height="33.04" fill="#d5d4fc"/>
<rect x="302.90" y="414.40" width="25.70" height="33.04" fill="#d5d4fc"/>
<rect x="328.60" y="414.40" width="26.00" height="33.04" fill="#d5d4fc"/>
<rect x="354.60" y="414.40" width="26.00" height="33.04" fill="#d5d4fc"/>
<rect x="380.60" y="414.40" width="25.90" height="33.04" fill="#d5d4fc"/>
<rect x="406.50" y="414.40" width="26.10" height="33.04" fill="#d5d4fc"/>
<rect x="432.60" y="414.40" width="26.10" height="33.04" fill="#d5d4fc"/>
<rect x="458.70" y="414.40" width="25.90" height="33.04" fill="#d5d4fc"/>
<rect x="484.60" y="414.40" width="26.00" height="33.04" fill="#d5d4fc"/>
<rect x="510.60" y="414.40" width="26.00" height="33.04" fill="#d5d4fc"/>
<rect x="545.90" y="414.40" width="26.10" height="33.04" fill="#d8d6fc"/>
<rect x="572.00" y="414.40" width="24.80" height="33.04" fill="#d8d6fc"/>
<rect x="596.80" y="414.40" width="26.00" height="33.04" fill="#d8d6fc"/>
<rect x="622.80" y="414.40" width="26.10" height="33.04" fill="#d8d6fc"/>
<rect x="648.90" y="414.40" width="25.80" height="33.04" fill="#d8d6fc"/>
<rect x="674.70" y="414.40" width="25.90" height="33.04" fill="#d8d6fc"/>
<rect x="700.60" y="414.40" width="26.10" height="33.04" fill="#d8d6fc"/>
<rect x="726.70" y="414.40" width="26.00" height="33.04" fill="#d8d6fc"/>
<rect x="752.70" y="414.40" width="26.10" height="33.04" fill="#dad9fc"/>
<rect x="778.80" y="414.40" width="25.90" height="33.04" fill="#dad9fc"/>
<rect x="804.70" y="414.40" width="26.20" height="33.04" fill="#dad9fc"/>
<rect x="830.90" y="414.40" width="26.10" height="33.04" fill="#dad9fc"/>
<rect x="866.20" y="414.40" width="24.40" height="33.04" fill="#f1f1fe"/>
<rect x="890.60" y="414.40" width="25.90" height="33.04" fill="#f8f8fe"/>
<rect x="916.50" y="414.40" width="25.80" height="33.04" fill="#fafaff"/>
<rect x="942.30" y="414.40" width="26.20" height="33.04" fill="#f8f8fe"/>
<rect x="968.50" y="414.40" width="25.80" height="33.04" fill="#efeefe"/>
<rect x="994.30" y="414.40" width="25.90" height="33.04" fill="#fffdfd"/>
<rect x="1020.20" y="414.40" width="26.00" height="33.04" fill="#fdecec"/>
<rect x="1046.20" y="414.40" width="25.90" height="33.04" fill="#e3e2fd"/>
<rect x="1072.10" y="414.40" width="26.10" height="33.04" fill="#fdfdff"/>
<rect x="1098.20" y="414.40" width="25.80" height="33.04" fill="#fdfdff"/>
<rect x="1124.00" y="414.40" width="26.00" height="33.04" fill="#efeefe"/>
<rect x="1150.00" y="414.40" width="26.00" height="33.04" fill="#fef8f8"/>
<rect x="1185.00" y="414.40" width="25.70" height="33.04" fill="#f49597"/>
<rect x="1210.70" y="414.40" width="25.80" height="33.04" fill="#f38c8e"/>
<rect x="1236.50" y="414.40" width="26.00" height="33.04" fill="#f38c8e"/>
<rect x="1262.50" y="414.40" width="25.90" height="33.04" fill="#f59fa1"/>
<rect x="1288.40" y="414.40" width="26.10" height="33.04" fill="#f6a8aa"/>
<rect x="1314.50" y="414.40" width="25.90" height="33.04" fill="#fad4d5"/>
<rect x="1340.40" y="414.40" width="26.00" height="33.04" fill="#f49a9c"/>
<rect x="1366.40" y="414.40" width="26.10" height="33.04" fill="#f39093"/>
<rect x="1392.50" y="414.40" width="25.90" height="33.04" fill="#ee5b5f"/>
<rect x="1418.40" y="414.40" width="26.10" height="33.04" fill="#f38c8e"/>
<rect x="225.90" y="447.44" width="26.10" height="33.04" fill="#d8d6fc"/>
<rect x="252.00" y="447.44" width="25.70" height="33.04" fill="#d8d6fc"/>
<rect x="277.70" y="447.44" width="25.20" height="33.04" fill="#d8d6fc"/>
<rect x="302.90" y="447.44" width="25.70" height="33.04" fill="#d8d6fc"/>
<rect x="328.60" y="447.44" width="26.00" height="33.04" fill="#d8d6fc"/>
<rect x="354.60" y="447.44" width="26.00" height="33.04" fill="#d8d6fc"/>
<rect x="380.60" y="447.44" width="25.90" height="33.04" fill="#d8d6fc"/>
<rect x="406.50" y="447.44" width="26.10" height="33.04" fill="#d8d6fc"/>
<rect x="432.60" y="447.44" width="26.10" height="33.04" fill="#d5d4fc"/>
<rect x="458.70" y="447.44" width="25.90" height="33.04" fill="#dad9fc"/>
<rect x="484.60" y="447.44" width="26.00" height="33.04" fill="#dad9fc"/>
<rect x="510.60" y="447.44" width="26.00" height="33.04" fill="#dad9fc"/>
<rect x="545.90" y="447.44" width="26.10" height="33.04" fill="#dcdbfc"/>
<rect x="572.00" y="447.44" width="24.80" height="33.04" fill="#dfddfc"/>
<rect x="596.80" y="447.44" width="26.00" height="33.04" fill="#dcdbfc"/>
<rect x="622.80" y="447.44" width="26.10" height="33.04" fill="#dcdbfc"/>
<rect x="648.90" y="447.44" width="25.80" height="33.04" fill="#dad9fc"/>
<rect x="674.70" y="447.44" width="25.90" height="33.04" fill="#dcdbfc"/>
<rect x="700.60" y="447.44" width="26.10" height="33.04" fill="#dcdbfc"/>
<rect x="726.70" y="447.44" width="26.00" height="33.04" fill="#dad9fc"/>
<rect x="752.70" y="447.44" width="26.10" height="33.04" fill="#e3e2fd"/>
<rect x="778.80" y="447.44" width="25.90" height="33.04" fill="#e3e2fd"/>
<rect x="804.70" y="447.44" width="26.20" height="33.04" fill="#dfddfc"/>
<rect x="830.90" y="447.44" width="26.10" height="33.04" fill="#dfddfc"/>
<rect x="866.20" y="447.44" width="24.40" height="33.04" fill="#e3e2fd"/>
<rect x="890.60" y="447.44" width="25.90" height="33.04" fill="#efeefe"/>
<rect x="916.50" y="447.44" width="25.80" height="33.04" fill="#f1f1fe"/>
<rect x="942.30" y="447.44" width="26.20" height="33.04" fill="#fafaff"/>
<rect x="968.50" y="447.44" width="25.80" height="33.04" fill="#e8e7fd"/>
<rect x="994.30" y="447.44" width="25.90" height="33.04" fill="#f6f5fe"/>
<rect x="1020.20" y="447.44" width="26.00" height="33.04" fill="#fef9f9"/>
<rect x="1046.20" y="447.44" width="25.90" height="33.04" fill="#d5d4fc"/>
<rect x="1072.10" y="447.44" width="26.10" height="33.04" fill="#e6e5fd"/>
<rect x="1098.20" y="447.44" width="25.80" height="33.04" fill="#e6e5fd"/>
<rect x="1124.00" y="447.44" width="26.00" height="33.04" fill="#e8e7fd"/>
<rect x="1150.00" y="447.44" width="26.00" height="33.04" fill="#f1f1fe"/>
<rect x="1185.00" y="447.44" width="25.70" height="33.04" fill="#f38c8e"/>
<rect x="1210.70" y="447.44" width="25.80" height="33.04" fill="#f6a8aa"/>
<rect x="1236.50" y="447.44" width="26.00" height="33.04" fill="#f49a9c"/>
<rect x="1262.50" y="447.44" width="25.90" height="33.04" fill="#f5a4a5"/>
<rect x="1288.40" y="447.44" width="26.10" height="33.04" fill="#f7b7b8"/>
<rect x="1314.50" y="447.44" width="25.90" height="33.04" fill="#f5a4a5"/>
<rect x="1340.40" y="447.44" width="26.00" height="33.04" fill="#f59fa1"/>
<rect x="1366.40" y="447.44" width="26.10" height="33.04" fill="#ed575a"/>
<rect x="1392.50" y="447.44" width="25.90" height="33.04" fill="#f07376"/>
<rect x="1418.40" y="447.44" width="26.10" height="33.04" fill="#f06f71"/>
<rect x="225.90" y="480.48" width="26.10" height="33.04" fill="#d5d4fc"/>
<rect x="252.00" y="480.48" width="25.70" height="33.04" fill="#d5d4fc"/>
<rect x="277.70" y="480.48" width="25.20" height="33.04" fill="#d3d1fb"/>
<rect x="302.90" y="480.48" width="25.70" height="33.04" fill="#d5d4fc"/>
<rect x="328.60" y="480.48" width="26.00" height="33.04" fill="#d5d4fc"/>
<rect x="354.60" y="480.48" width="26.00" height="33.04" fill="#d5d4fc"/>
<rect x="380.60" y="480.48" width="25.90" height="33.04" fill="#d5d4fc"/>
<rect x="406.50" y="480.48" width="26.10" height="33.04" fill="#d5d4fc"/>
<rect x="432.60" y="480.48" width="26.10" height="33.04" fill="#d8d6fc"/>
<rect x="458.70" y="480.48" width="25.90" height="33.04" fill="#d5d4fc"/>
<rect x="484.60" y="480.48" width="26.00" height="33.04" fill="#d8d6fc"/>
<rect x="510.60" y="480.48" width="26.00" height="33.04" fill="#d8d6fc"/>
<rect x="545.90" y="480.48" width="26.10" height="33.04" fill="#d5d4fc"/>
<rect x="572.00" y="480.48" width="24.80" height="33.04" fill="#d3d1fb"/>
<rect x="596.80" y="480.48" width="26.00" height="33.04" fill="#d8d6fc"/>
<rect x="622.80" y="480.48" width="26.10" height="33.04" fill="#d3d1fb"/>
<rect x="648.90" y="480.48" width="25.80" height="33.04" fill="#d8d6fc"/>
<rect x="674.70" y="480.48" width="25.90" height="33.04" fill="#d3d1fb"/>
<rect x="700.60" y="480.48" width="26.10" height="33.04" fill="#d5d4fc"/>
<rect x="726.70" y="480.48" width="26.00" height="33.04" fill="#d5d4fc"/>
<rect x="752.70" y="480.48" width="26.10" height="33.04" fill="#d1cffb"/>
<rect x="778.80" y="480.48" width="25.90" height="33.04" fill="#d3d1fb"/>
<rect x="804.70" y="480.48" width="26.20" height="33.04" fill="#d5d4fc"/>
<rect x="830.90" y="480.48" width="26.10" height="33.04" fill="#d8d6fc"/>
<rect x="866.20" y="480.48" width="24.40" height="33.04" fill="#fafaff"/>
<rect x="890.60" y="480.48" width="25.90" height="33.04" fill="#fafaff"/>
<rect x="916.50" y="480.48" width="25.80" height="33.04" fill="#f3f3fe"/>
<rect x="942.30" y="480.48" width="26.20" height="33.04" fill="#f1f1fe"/>
<rect x="968.50" y="480.48" width="25.80" height="33.04" fill="#f1f1fe"/>
<rect x="994.30" y="480.48" width="25.90" height="33.04" fill="#fffdfd"/>
<rect x="1020.20" y="480.48" width="26.00" height="33.04" fill="#fdf1f1"/>
<rect x="1046.20" y="480.48" width="25.90" height="33.04" fill="#e6e5fd"/>
<rect x="1072.10" y="480.48" width="26.10" height="33.04" fill="#fffdfd"/>
<rect x="1098.20" y="480.48" width="25.80" height="33.04" fill="#fafaff"/>
<rect x="1124.00" y="480.48" width="26.00" height="33.04" fill="#fdfdff"/>
<rect x="1150.00" y="480.48" width="26.00" height="33.04" fill="#fffdfd"/>
<rect x="1185.00" y="480.48" width="25.70" height="33.04" fill="#ed575a"/>
<rect x="1210.70" y="480.48" width="25.80" height="33.04" fill="#f39093"/>
<rect x="1236.50" y="480.48" width="26.00" height="33.04" fill="#f38c8e"/>
<rect x="1262.50" y="480.48" width="25.90" height="33.04" fill="#fbd9d9"/>
<rect x="1288.40" y="480.48" width="26.10" height="33.04" fill="#f49597"/>
<rect x="1314.50" y="480.48" width="25.90" height="33.04" fill="#f59fa1"/>
<rect x="1340.40" y="480.48" width="26.00" height="33.04" fill="#f5a4a5"/>
<rect x="1366.40" y="480.48" width="26.10" height="33.04" fill="#ee6063"/>
<rect x="1392.50" y="480.48" width="25.90" height="33.04" fill="#f39093"/>
<rect x="1418.40" y="480.48" width="26.10" height="33.04" fill="#f28789"/>
<rect x="225.90" y="513.52" width="26.10" height="33.04" fill="#d8d6fc"/>
<rect x="252.00" y="513.52" width="25.70" height="33.04" fill="#d8d6fc"/>
<rect x="277.70" y="513.52" width="25.20" height="33.04" fill="#d8d6fc"/>
<rect x="302.90" y="513.52" width="25.70" height="33.04" fill="#d8d6fc"/>
<rect x="328.60" y="513.52" width="26.00" height="33.04" fill="#d8d6fc"/>
<rect x="354.60" y="513.52" width="26.00" height="33.04" fill="#d8d6fc"/>
<rect x="380.60" y="513.52" width="25.90" height="33.04" fill="#d8d6fc"/>
<rect x="406.50" y="513.52" width="26.10" height="33.04" fill="#d8d6fc"/>
<rect x="432.60" y="513.52" width="26.10" height="33.04" fill="#d8d6fc"/>
<rect x="458.70" y="513.52" width="25.90" height="33.04" fill="#d8d6fc"/>
<rect x="484.60" y="513.52" width="26.00" height="33.04" fill="#d8d6fc"/>
<rect x="510.60" y="513.52" width="26.00" height="33.04" fill="#d8d6fc"/>
<rect x="545.90" y="513.52" width="26.10" height="33.04" fill="#d5d4fc"/>
<rect x="572.00" y="513.52" width="24.80" height="33.04" fill="#dad9fc"/>
<rect x="596.80" y="513.52" width="26.00" height="33.04" fill="#d8d6fc"/>
<rect x="622.80" y="513.52" width="26.10" height="33.04" fill="#d3d1fb"/>
<rect x="648.90" y="513.52" width="25.80" height="33.04" fill="#d5d4fc"/>
<rect x="674.70" y="513.52" width="25.90" height="33.04" fill="#d5d4fc"/>
<rect x="700.60" y="513.52" width="26.10" height="33.04" fill="#d5d4fc"/>
<rect x="726.70" y="513.52" width="26.00" height="33.04" fill="#d5d4fc"/>
<rect x="752.70" y="513.52" width="26.10" height="33.04" fill="#d5d4fc"/>
<rect x="778.80" y="513.52" width="25.90" height="33.04" fill="#d5d4fc"/>
<rect x="804.70" y="513.52" width="26.20" height="33.04" fill="#d5d4fc"/>
<rect x="830.90" y="513.52" width="26.10" height="33.04" fill="#d5d4fc"/>
<rect x="866.20" y="513.52" width="24.40" height="33.04" fill="#fafaff"/>
<rect x="890.60" y="513.52" width="25.90" height="33.04" fill="#e1e0fd"/>
<rect x="916.50" y="513.52" width="25.80" height="33.04" fill="#e8e7fd"/>
<rect x="942.30" y="513.52" width="26.20" height="33.04" fill="#f1f1fe"/>
<rect x="968.50" y="513.52" width="25.80" height="33.04" fill="#f3f3fe"/>
<rect x="994.30" y="513.52" width="25.90" height="33.04" fill="#f6f5fe"/>
<rect x="1020.20" y="513.52" width="26.00" height="33.04" fill="#fef8f8"/>
<rect x="1046.20" y="513.52" width="25.90" height="33.04" fill="#efeefe"/>
<rect x="1072.10" y="513.52" width="26.10" height="33.04" fill="#f8f8fe"/>
<rect x="1098.20" y="513.52" width="25.80" height="33.04" fill="#fffdfd"/>
<rect x="1124.00" y="513.52" width="26.00" height="33.04" fill="#fef5f6"/>
<rect x="1150.00" y="513.52" width="26.00" height="33.04" fill="#fefafa"/>
<rect x="1185.00" y="513.52" width="25.70" height="33.04" fill="#f7b2b4"/>
<rect x="1210.70" y="513.52" width="25.80" height="33.04" fill="#ee5b5f"/>
<rect x="1236.50" y="513.52" width="26.00" height="33.04" fill="#ee5b5f"/>
<rect x="1262.50" y="513.52" width="25.90" height="33.04" fill="#f39093"/>
<rect x="1288.40" y="513.52" width="26.10" height="33.04" fill="#f6a8aa"/>
<rect x="1314.50" y="513.52" width="25.90" height="33.04" fill="#f9cacb"/>
<rect x="1340.40" y="513.52" width="26.00" height="33.04" fill="#f59fa1"/>
<rect x="1366.40" y="513.52" width="26.10" height="33.04" fill="#f1787b"/>
<rect x="1392.50" y="513.52" width="25.90" height="33.04" fill="#f49597"/>
<rect x="1418.40" y="513.52" width="26.10" height="33.04" fill="#f28284"/>
<rect x="225.90" y="546.56" width="26.10" height="33.04" fill="#d8d6fc"/>
<rect x="252.00" y="546.56" width="25.70" height="33.04" fill="#d8d6fc"/>
<rect x="277.70" y="546.56" width="25.20" height="33.04" fill="#d8d6fc"/>
<rect x="302.90" y="546.56" width="25.70" height="33.04" fill="#d8d6fc"/>
<rect x="328.60" y="546.56" width="26.00" height="33.04" fill="#d8d6fc"/>
<rect x="354.60" y="546.56" width="26.00" height="33.04" fill="#d8d6fc"/>
<rect x="380.60" y="546.56" width="25.90" height="33.04" fill="#d8d6fc"/>
<rect x="406.50" y="546.56" width="26.10" height="33.04" fill="#d8d6fc"/>
<rect x="432.60" y="546.56" width="26.10" height="33.04" fill="#d8d6fc"/>
<rect x="458.70" y="546.56" width="25.90" height="33.04" fill="#d8d6fc"/>
<rect x="484.60" y="546.56" width="26.00" height="33.04" fill="#d8d6fc"/>
<rect x="510.60" y="546.56" width="26.00" height="33.04" fill="#d8d6fc"/>
<rect x="545.90" y="546.56" width="26.10" height="33.04" fill="#d5d4fc"/>
<rect x="572.00" y="546.56" width="24.80" height="33.04" fill="#d5d4fc"/>
<rect x="596.80" y="546.56" width="26.00" height="33.04" fill="#dcdbfc"/>
<rect x="622.80" y="546.56" width="26.10" height="33.04" fill="#d5d4fc"/>
<rect x="648.90" y="546.56" width="25.80" height="33.04" fill="#d5d4fc"/>
<rect x="674.70" y="546.56" width="25.90" height="33.04" fill="#d5d4fc"/>
<rect x="700.60" y="546.56" width="26.10" height="33.04" fill="#d8d6fc"/>
<rect x="726.70" y="546.56" width="26.00" height="33.04" fill="#d5d4fc"/>
<rect x="752.70" y="546.56" width="26.10" height="33.04" fill="#d5d4fc"/>
<rect x="778.80" y="546.56" width="25.90" height="33.04" fill="#d5d4fc"/>
<rect x="804.70" y="546.56" width="26.20" height="33.04" fill="#d5d4fc"/>
<rect x="830.90" y="546.56" width="26.10" height="33.04" fill="#d5d4fc"/>
<rect x="866.20" y="546.56" width="24.40" height="33.04" fill="#f3f3fe"/>
<rect x="890.60" y="546.56" width="25.90" height="33.04" fill="#edecfd"/>
<rect x="916.50" y="546.56" width="25.80" height="33.04" fill="#ffffff"/>
<rect x="942.30" y="546.56" width="26.20" height="33.04" fill="#e8e7fd"/>
<rect x="968.50" y="546.56" width="25.80" height="33.04" fill="#efeefe"/>
<rect x="994.30" y="546.56" width="25.90" height="33.04" fill="#e8e7fd"/>
<rect x="1020.20" y="546.56" width="26.00" height="33.04" fill="#fdecec"/>
<rect x="1046.20" y="546.56" width="25.90" height="33.04" fill="#fafaff"/>
<rect x="1072.10" y="546.56" width="26.10" height="33.04" fill="#fafaff"/>
<rect x="1098.20" y="546.56" width="25.80" height="33.04" fill="#fafaff"/>
<rect x="1124.00" y="546.56" width="26.00" height="33.04" fill="#fef8f8"/>
<rect x="1150.00" y="546.56" width="26.00" height="33.04" fill="#fdfdff"/>
<rect x="1185.00" y="546.56" width="25.70" height="33.04" fill="#f9cacb"/>
<rect x="1210.70" y="546.56" width="25.80" height="33.04" fill="#ed575a"/>
<rect x="1236.50" y="546.56" width="26.00" height="33.04" fill="#f28789"/>
<rect x="1262.50" y="546.56" width="25.90" height="33.04" fill="#f1787b"/>
<rect x="1288.40" y="546.56" width="26.10" height="33.04" fill="#f39093"/>
<rect x="1314.50" y="546.56" width="25.90" height="33.04" fill="#f9c5c6"/>
<rect x="1340.40" y="546.56" width="26.00" height="33.04" fill="#f5a4a5"/>
<rect x="1366.40" y="546.56" width="26.10" height="33.04" fill="#ee6063"/>
<rect x="1392.50" y="546.56" width="25.90" height="33.04" fill="#f59fa1"/>
<rect x="1418.40" y="546.56" width="26.10" height="33.04" fill="#f49597"/>
<rect x="225.90" y="579.60" width="26.10" height="33.04" fill="#d1cffb"/>
<rect x="252.00" y="579.60" width="25.70" height="33.04" fill="#d3d1fb"/>
<rect x="277.70" y="579.60" width="25.20" height="33.04" fill="#d3d1fb"/>
<rect x="302.90" y="579.60" width="25.70" height="33.04" fill="#d1cffb"/>
<rect x="328.60" y="579.60" width="26.00" height="33.04" fill="#ceccfb"/>
<rect x="354.60" y="579.60" width="26.00" height="33.04" fill="#d1cffb"/>
<rect x="380.60" y="579.60" width="25.90" height="33.04" fill="#d3d1fb"/>
<rect x="406.50" y="579.60" width="26.10" height="33.04" fill="#d1cffb"/>
<rect x="432.60" y="579.60" width="26.10" height="33.04" fill="#d3d1fb"/>
<rect x="458.70" y="579.60" width="25.90" height="33.04" fill="#d3d1fb"/>
<rect x="484.60" y="579.60" width="26.00" height="33.04" fill="#d1cffb"/>
<rect x="510.60" y="579.60" width="26.00" height="33.04" fill="#d3d1fb"/>
<rect x="545.90" y="579.60" width="26.10" height="33.04" fill="#d3d1fb"/>
<rect x="572.00" y="579.60" width="24.80" height="33.04" fill="#d3d1fb"/>
<rect x="596.80" y="579.60" width="26.00" height="33.04" fill="#d8d6fc"/>
<rect x="622.80" y="579.60" width="26.10" height="33.04" fill="#d8d6fc"/>
<rect x="648.90" y="579.60" width="25.80" height="33.04" fill="#d8d6fc"/>
<rect x="674.70" y="579.60" width="25.90" height="33.04" fill="#d5d4fc"/>
<rect x="700.60" y="579.60" width="26.10" height="33.04" fill="#d8d6fc"/>
<rect x="726.70" y="579.60" width="26.00" height="33.04" fill="#d8d6fc"/>
<rect x="752.70" y="579.60" width="26.10" height="33.04" fill="#d8d6fc"/>
<rect x="778.80" y="579.60" width="25.90" height="33.04" fill="#d5d4fc"/>
<rect x="804.70" y="579.60" width="26.20" height="33.04" fill="#d8d6fc"/>
<rect x="830.90" y="579.60" width="26.10" height="33.04" fill="#d5d4fc"/>
<rect x="866.20" y="579.60" width="24.40" height="33.04" fill="#eae9fd"/>
<rect x="890.60" y="579.60" width="25.90" height="33.04" fill="#fefafa"/>
<rect x="916.50" y="579.60" width="25.80" height="33.04" fill="#fafaff"/>
<rect x="942.30" y="579.60" width="26.20" height="33.04" fill="#eae9fd"/>
<rect x="968.50" y="579.60" width="25.80" height="33.04" fill="#e3e2fd"/>
<rect x="994.30" y="579.60" width="25.90" height="33.04" fill="#ffffff"/>
<rect x="1020.20" y="579.60" width="26.00" height="33.04" fill="#fdf1f1"/>
<rect x="1046.20" y="579.60" width="25.90" height="33.04" fill="#f1f1fe"/>
<rect x="1072.10" y="579.60" width="26.10" height="33.04" fill="#fde9ea"/>
<rect x="1098.20" y="579.60" width="25.80" height="33.04" fill="#fffdfd"/>
<rect x="1124.00" y="579.60" width="26.00" height="33.04" fill="#fef8f8"/>
<rect x="1150.00" y="579.60" width="26.00" height="33.04" fill="#fafaff"/>
<rect x="1185.00" y="579.60" width="25.70" height="33.04" fill="#f59fa1"/>
<rect x="1210.70" y="579.60" width="25.80" height="33.04" fill="#f1787b"/>
<rect x="1236.50" y="579.60" width="26.00" height="33.04" fill="#f1787b"/>
<rect x="1262.50" y="579.60" width="25.90" height="33.04" fill="#f49a9c"/>
<rect x="1288.40" y="579.60" width="26.10" height="33.04" fill="#f38c8e"/>
<rect x="1314.50" y="579.60" width="25.90" height="33.04" fill="#f7b2b4"/>
<rect x="1340.40" y="579.60" width="26.00" height="33.04" fill="#f1787b"/>
<rect x="1366.40" y="579.60" width="26.10" height="33.04" fill="#ef6a6d"/>
<rect x="1392.50" y="579.60" width="25.90" height="33.04" fill="#f49a9c"/>
<rect x="1418.40" y="579.60" width="26.10" height="33.04" fill="#f5a4a5"/>
<rect x="225.90" y="612.64" width="26.10" height="33.04" fill="#d3d1fb"/>
<rect x="252.00" y="612.64" width="25.70" height="33.04" fill="#d3d1fb"/>
<rect x="277.70" y="612.64" width="25.20" height="33.04" fill="#d3d1fb"/>
<rect x="302.90" y="612.64" width="25.70" height="33.04" fill="#d3d1fb"/>
<rect x="328.60" y="612.64" width="26.00" height="33.04" fill="#d3d1fb"/>
<rect x="354.60" y="612.64" width="26.00" height="33.04" fill="#d1cffb"/>
<rect x="380.60" y="612.64" width="25.90" height="33.04" fill="#d5d4fc"/>
<rect x="406.50" y="612.64" width="26.10" height="33.04" fill="#d3d1fb"/>
<rect x="432.60" y="612.64" width="26.10" height="33.04" fill="#d1cffb"/>
<rect x="458.70" y="612.64" width="25.90" height="33.04" fill="#d3d1fb"/>
<rect x="484.60" y="612.64" width="26.00" height="33.04" fill="#d3d1fb"/>
<rect x="510.60" y="612.64" width="26.00" height="33.04" fill="#d3d1fb"/>
<rect x="545.90" y="612.64" width="26.10" height="33.04" fill="#d5d4fc"/>
<rect x="572.00" y="612.64" width="24.80" height="33.04" fill="#d5d4fc"/>
<rect x="596.80" y="612.64" width="26.00" height="33.04" fill="#d8d6fc"/>
<rect x="622.80" y="612.64" width="26.10" height="33.04" fill="#d8d6fc"/>
<rect x="648.90" y="612.64" width="25.80" height="33.04" fill="#d5d4fc"/>
<rect x="674.70" y="612.64" width="25.90" height="33.04" fill="#d3d1fb"/>
<rect x="700.60" y="612.64" width="26.10" height="33.04" fill="#d8d6fc"/>
<rect x="726.70" y="612.64" width="26.00" height="33.04" fill="#d5d4fc"/>
<rect x="752.70" y="612.64" width="26.10" height="33.04" fill="#d5d4fc"/>
<rect x="778.80" y="612.64" width="25.90" height="33.04" fill="#d5d4fc"/>
<rect x="804.70" y="612.64" width="26.20" height="33.04" fill="#d5d4fc"/>
<rect x="830.90" y="612.64" width="26.10" height="33.04" fill="#d5d4fc"/>
<rect x="866.20" y="612.64" width="24.40" height="33.04" fill="#fafaff"/>
<rect x="890.60" y="612.64" width="25.90" height="33.04" fill="#fefafa"/>
<rect x="916.50" y="612.64" width="25.80" height="33.04" fill="#fef8f8"/>
<rect x="942.30" y="612.64" width="26.20" height="33.04" fill="#fafaff"/>
<rect x="968.50" y="612.64" width="25.80" height="33.04" fill="#f8f8fe"/>
<rect x="994.30" y="612.64" width="25.90" height="33.04" fill="#fffdfd"/>
<rect x="1020.20" y="612.64" width="26.00" height="33.04" fill="#fdf1f1"/>
<rect x="1046.20" y="612.64" width="25.90" height="33.04" fill="#efeefe"/>
<rect x="1072.10" y="612.64" width="26.10" height="33.04" fill="#fef5f6"/>
<rect x="1098.20" y="612.64" width="25.80" height="33.04" fill="#fef3f3"/>
<rect x="1124.00" y="612.64" width="26.00" height="33.04" fill="#fafaff"/>
<rect x="1150.00" y="612.64" width="26.00" height="33.04" fill="#fafaff"/>
<rect x="1185.00" y="612.64" width="25.70" height="33.04" fill="#f59fa1"/>
<rect x="1210.70" y="612.64" width="25.80" height="33.04" fill="#f49a9c"/>
<rect x="1236.50" y="612.64" width="26.00" height="33.04" fill="#f17d80"/>
<rect x="1262.50" y="612.64" width="25.90" height="33.04" fill="#f39093"/>
<rect x="1288.40" y="612.64" width="26.10" height="33.04" fill="#f6adaf"/>
<rect x="1314.50" y="612.64" width="25.90" height="33.04" fill="#fdecec"/>
<rect x="1340.40" y="612.64" width="26.00" height="33.04" fill="#f49a9c"/>
<rect x="1366.40" y="612.64" width="26.10" height="33.04" fill="#ec484c"/>
<rect x="1392.50" y="612.64" width="25.90" height="33.04" fill="#f39093"/>
<rect x="1418.40" y="612.64" width="26.10" height="33.04" fill="#f59fa1"/>
<rect x="225.90" y="645.68" width="26.10" height="33.04" fill="#d8d6fc"/>
<rect x="252.00" y="645.68" width="25.70" height="33.04" fill="#d3d1fb"/>
<rect x="277.70" y="645.68" width="25.20" height="33.04" fill="#d8d6fc"/>
<rect x="302.90" y="645.68" width="25.70" height="33.04" fill="#dcdbfc"/>
<rect x="328.60" y="645.68" width="26.00" height="33.04" fill="#dfddfc"/>
<rect x="354.60" y="645.68" width="26.00" height="33.04" fill="#d8d6fc"/>
<rect x="380.60" y="645.68" width="25.90" height="33.04" fill="#d8d6fc"/>
<rect x="406.50" y="645.68" width="26.10" height="33.04" fill="#e3e2fd"/>
<rect x="432.60" y="645.68" width="26.10" height="33.04" fill="#d8d6fc"/>
<rect x="458.70" y="645.68" width="25.90" height="33.04" fill="#d8d6fc"/>
<rect x="484.60" y="645.68" width="26.00" height="33.04" fill="#d3d1fb"/>
<rect x="510.60" y="645.68" width="26.00" height="33.04" fill="#d8d6fc"/>
<rect x="545.90" y="645.68" width="26.10" height="33.04" fill="#d5d4fc"/>
<rect x="572.00" y="645.68" width="24.80" height="33.04" fill="#d5d4fc"/>
<rect x="596.80" y="645.68" width="26.00" height="33.04" fill="#d8d6fc"/>
<rect x="622.80" y="645.68" width="26.10" height="33.04" fill="#e1e0fd"/>
<rect x="648.90" y="645.68" width="25.80" height="33.04" fill="#d5d4fc"/>
<rect x="674.70" y="645.68" width="25.90" height="33.04" fill="#d8d6fc"/>
<rect x="700.60" y="645.68" width="26.10" height="33.04" fill="#f8f8fe"/>
<rect x="726.70" y="645.68" width="26.00" height="33.04" fill="#dcdbfc"/>
<rect x="752.70" y="645.68" width="26.10" height="33.04" fill="#e6e5fd"/>
<rect x="778.80" y="645.68" width="25.90" height="33.04" fill="#fefafa"/>
<rect x="804.70" y="645.68" width="26.20" height="33.04" fill="#fef3f3"/>
<rect x="830.90" y="645.68" width="26.10" height="33.04" fill="#fafaff"/>
<rect x="866.20" y="645.68" width="24.40" height="33.04" fill="#dad9fc"/>
<rect x="890.60" y="645.68" width="25.90" height="33.04" fill="#fdecec"/>
<rect x="916.50" y="645.68" width="25.80" height="33.04" fill="#e6e5fd"/>
<rect x="942.30" y="645.68" width="26.20" height="33.04" fill="#f1f1fe"/>
<rect x="968.50" y="645.68" width="25.80" height="33.04" fill="#dfddfc"/>
<rect x="994.30" y="645.68" width="25.90" height="33.04" fill="#f8f8fe"/>
<rect x="1020.20" y="645.68" width="26.00" height="33.04" fill="#fefafa"/>
<rect x="1046.20" y="645.68" width="25.90" height="33.04" fill="#dad9fc"/>
<rect x="1072.10" y="645.68" width="26.10" height="33.04" fill="#edecfd"/>
<rect x="1098.20" y="645.68" width="25.80" height="33.04" fill="#eae9fd"/>
<rect x="1124.00" y="645.68" width="26.00" height="33.04" fill="#e8e7fd"/>
<rect x="1150.00" y="645.68" width="26.00" height="33.04" fill="#e3e2fd"/>
<rect x="1185.00" y="645.68" width="25.70" height="33.04" fill="#f7b7b8"/>
<rect x="1210.70" y="645.68" width="25.80" height="33.04" fill="#f5a4a5"/>
<rect x="1236.50" y="645.68" width="26.00" height="33.04" fill="#f49a9c"/>
<rect x="1262.50" y="645.68" width="25.90" height="33.04" fill="#f6a8aa"/>
<rect x="1288.40" y="645.68" width="26.10" height="33.04" fill="#f7b2b4"/>
<rect x="1314.50" y="645.68" width="25.90" height="33.04" fill="#facfd0"/>
<rect x="1340.40" y="645.68" width="26.00" height="33.04" fill="#fdf1f1"/>
<rect x="1366.40" y="645.68" width="26.10" height="33.04" fill="#e7181d"/>
<rect x="1392.50" y="645.68" width="25.90" height="33.04" fill="#f5a4a5"/>
<rect x="1418.40" y="645.68" width="26.10" height="33.04" fill="#ee6063"/>
<rect x="225.90" y="678.72" width="26.10" height="33.04" fill="#d5d4fc"/>
<rect x="252.00" y="678.72" width="25.70" height="33.04" fill="#d1cffb"/>
<rect x="277.70" y="678.72" width="25.20" height="33.04" fill="#cccafb"/>
<rect x="302.90" y="678.72" width="25.70" height="33.04" fill="#d8d6fc"/>
<rect x="328.60" y="678.72" width="26.00" height="33.04" fill="#dad9fc"/>
<rect x="354.60" y="678.72" width="26.00" height="33.04" fill="#dcdbfc"/>
<rect x="380.60" y="678.72" width="25.90" height="33.04" fill="#d5d4fc"/>
<rect x="406.50" y="678.72" width="26.10" height="33.04" fill="#dad9fc"/>
<rect x="432.60" y="678.72" width="26.10" height="33.04" fill="#dad9fc"/>
<rect x="458.70" y="678.72" width="25.90" height="33.04" fill="#dcdbfc"/>
<rect x="484.60" y="678.72" width="26.00" height="33.04" fill="#e6e5fd"/>
<rect x="510.60" y="678.72" width="26.00" height="33.04" fill="#d1cffb"/>
<rect x="545.90" y="678.72" width="26.10" height="33.04" fill="#f1f1fe"/>
<rect x="572.00" y="678.72" width="24.80" height="33.04" fill="#fafaff"/>
<rect x="596.80" y="678.72" width="26.00" height="33.04" fill="#fafaff"/>
<rect x="622.80" y="678.72" width="26.10" height="33.04" fill="#ffffff"/>
<rect x="648.90" y="678.72" width="25.80" height="33.04" fill="#e8e7fd"/>
<rect x="674.70" y="678.72" width="25.90" height="33.04" fill="#f3f3fe"/>
<rect x="700.60" y="678.72" width="26.10" height="33.04" fill="#e8e7fd"/>
<rect x="726.70" y="678.72" width="26.00" height="33.04" fill="#efeefe"/>
<rect x="752.70" y="678.72" width="26.10" height="33.04" fill="#fdecec"/>
<rect x="778.80" y="678.72" width="25.90" height="33.04" fill="#fce5e5"/>
<rect x="804.70" y="678.72" width="26.20" height="33.04" fill="#fce2e3"/>
<rect x="830.90" y="678.72" width="26.10" height="33.04" fill="#fdecec"/>
<rect x="866.20" y="678.72" width="24.40" height="33.04" fill="#cccafb"/>
<rect x="890.60" y="678.72" width="25.90" height="33.04" fill="#dad9fc"/>
<rect x="916.50" y="678.72" width="25.80" height="33.04" fill="#d3d1fb"/>
<rect x="942.30" y="678.72" width="26.20" height="33.04" fill="#c8c5fa"/>
<rect x="968.50" y="678.72" width="25.80" height="33.04" fill="#dad9fc"/>
<rect x="994.30" y="678.72" width="25.90" height="33.04" fill="#dfddfc"/>
<rect x="1020.20" y="678.72" width="26.00" height="33.04" fill="#e3e2fd"/>
<rect x="1046.20" y="678.72" width="25.90" height="33.04" fill="#d1cffb"/>
<rect x="1072.10" y="678.72" width="26.10" height="33.04" fill="#cccafb"/>
<rect x="1098.20" y="678.72" width="25.80" height="33.04" fill="#dad9fc"/>
<rect x="1124.00" y="678.72" width="26.00" height="33.04" fill="#c8c5fa"/>
<rect x="1150.00" y="678.72" width="26.00" height="33.04" fill="#dfddfc"/>
<rect x="1185.00" y="678.72" width="25.70" height="33.04" fill="#f6adaf"/>
<rect x="1210.70" y="678.72" width="25.80" height="33.04" fill="#f39093"/>
<rect x="1236.50" y="678.72" width="26.00" height="33.04" fill="#ef6a6d"/>
<rect x="1262.50" y="678.72" width="25.90" height="33.04" fill="#fbd9d9"/>
<rect x="1288.40" y="678.72" width="26.10" height="33.04" fill="#f8c0c2"/>
<rect x="1314.50" y="678.72" width="25.90" height="33.04" fill="#f8c0c2"/>
<rect x="1340.40" y="678.72" width="26.00" height="33.04" fill="#fbd9d9"/>
<rect x="1366.40" y="678.72" width="26.10" height="33.04" fill="#f06f71"/>
<rect x="1392.50" y="678.72" width="25.90" height="33.04" fill="#ee6063"/>
<rect x="1418.40" y="678.72" width="26.10" height="33.04" fill="#f06f71"/>
<rect x="225.90" y="711.76" width="26.10" height="33.04" fill="#ceccfb"/>
<rect x="252.00" y="711.76" width="25.70" height="33.04" fill="#d1cffb"/>
<rect x="277.70" y="711.76" width="25.20" height="33.04" fill="#d1cffb"/>
<rect x="302.90" y="711.76" width="25.70" height="33.04" fill="#dcdbfc"/>
<rect x="328.60" y="711.76" width="26.00" height="33.04" fill="#ceccfb"/>
<rect x="354.60" y="711.76" width="26.00" height="33.04" fill="#ceccfb"/>
<rect x="380.60" y="711.76" width="25.90" height="33.04" fill="#ceccfb"/>
<rect x="406.50" y="711.76" width="26.10" height="33.04" fill="#d8d6fc"/>
<rect x="432.60" y="711.76" width="26.10" height="33.04" fill="#d5d4fc"/>
<rect x="458.70" y="711.76" width="25.90" height="33.04" fill="#d3d1fb"/>
<rect x="484.60" y="711.76" width="26.00" height="33.04" fill="#d5d4fc"/>
<rect x="510.60" y="711.76" width="26.00" height="33.04" fill="#d5d4fc"/>
<rect x="545.90" y="711.76" width="26.10" height="33.04" fill="#dad9fc"/>
<rect x="572.00" y="711.76" width="24.80" height="33.04" fill="#dcdbfc"/>
<rect x="596.80" y="711.76" width="26.00" height="33.04" fill="#dfddfc"/>
<rect x="622.80" y="711.76" width="26.10" height="33.04" fill="#d3d1fb"/>
<rect x="648.90" y="711.76" width="25.80" height="33.04" fill="#dfddfc"/>
<rect x="674.70" y="711.76" width="25.90" height="33.04" fill="#dad9fc"/>
<rect x="700.60" y="711.76" width="26.10" height="33.04" fill="#d8d6fc"/>
<rect x="726.70" y="711.76" width="26.00" height="33.04" fill="#e1e0fd"/>
<rect x="752.70" y="711.76" width="26.10" height="33.04" fill="#e8e7fd"/>
<rect x="778.80" y="711.76" width="25.90" height="33.04" fill="#fdfdff"/>
<rect x="804.70" y="711.76" width="26.20" height="33.04" fill="#f1f1fe"/>
<rect x="830.90" y="711.76" width="26.10" height="33.04" fill="#e6e5fd"/>
<rect x="866.20" y="711.76" width="24.40" height="33.04" fill="#fafaff"/>
<rect x="890.60" y="711.76" width="25.90" height="33.04" fill="#fafaff"/>
<rect x="916.50" y="711.76" width="25.80" height="33.04" fill="#f6f5fe"/>
<rect x="942.30" y="711.76" width="26.20" height="33.04" fill="#e3e2fd"/>
<rect x="968.50" y="711.76" width="25.80" height="33.04" fill="#edecfd"/>
<rect x="994.30" y="711.76" width="25.90" height="33.04" fill="#f6f5fe"/>
<rect x="1020.20" y="711.76" width="26.00" height="33.04" fill="#efeefe"/>
<rect x="1046.20" y="711.76" width="25.90" height="33.04" fill="#e3e2fd"/>
<rect x="1072.10" y="711.76" width="26.10" height="33.04" fill="#e8e7fd"/>
<rect x="1098.20" y="711.76" width="25.80" height="33.04" fill="#f3f3fe"/>
<rect x="1124.00" y="711.76" width="26.00" height="33.04" fill="#f1f1fe"/>
<rect x="1150.00" y="711.76" width="26.00" height="33.04" fill="#fef8f8"/>
<rect x="1185.00" y="711.76" width="25.70" height="33.04" fill="#f8c0c2"/>
<rect x="1210.70" y="711.76" width="25.80" height="33.04" fill="#f06f71"/>
<rect x="1236.50" y="711.76" width="26.00" height="33.04" fill="#f06f71"/>
<rect x="1262.50" y="711.76" width="25.90" height="33.04" fill="#f59fa1"/>
<rect x="1288.40" y="711.76" width="26.10" height="33.04" fill="#f59fa1"/>
<rect x="1314.50" y="711.76" width="25.90" height="33.04" fill="#f9c5c6"/>
<rect x="1340.40" y="711.76" width="26.00" height="33.04" fill="#f59fa1"/>
<rect x="1366.40" y="711.76" width="26.10" height="33.04" fill="#f06f71"/>
<rect x="1392.50" y="711.76" width="25.90" height="33.04" fill="#f06f71"/>
<rect x="1418.40" y="711.76" width="26.10" height="33.04" fill="#f28789"/>
<rect x="225.90" y="744.80" width="26.10" height="33.04" fill="#dad9fc"/>
<rect x="252.00" y="744.80" width="25.70" height="33.04" fill="#ceccfb"/>
<rect x="277.70" y="744.80" width="25.20" height="33.04" fill="#cac8fb"/>
<rect x="302.90" y="744.80" width="25.70" height="33.04" fill="#ceccfb"/>
<rect x="328.60" y="744.80" width="26.00" height="33.04" fill="#d8d6fc"/>
<rect x="354.60" y="744.80" width="26.00" height="33.04" fill="#ceccfb"/>
<rect x="380.60" y="744.80" width="25.90" height="33.04" fill="#d3d1fb"/>
<rect x="406.50" y="744.80" width="26.10" height="33.04" fill="#d3d1fb"/>
<rect x="432.60" y="744.80" width="26.10" height="33.04" fill="#d3d1fb"/>
<rect x="458.70" y="744.80" width="25.90" height="33.04" fill="#cac8fb"/>
<rect x="484.60" y="744.80" width="26.00" height="33.04" fill="#d3d1fb"/>
<rect x="510.60" y="744.80" width="26.00" height="33.04" fill="#cac8fb"/>
<rect x="545.90" y="744.80" width="26.10" height="33.04" fill="#dcdbfc"/>
<rect x="572.00" y="744.80" width="24.80" height="33.04" fill="#e1e0fd"/>
<rect x="596.80" y="744.80" width="26.00" height="33.04" fill="#dfddfc"/>
<rect x="622.80" y="744.80" width="26.10" height="33.04" fill="#d8d6fc"/>
<rect x="648.90" y="744.80" width="25.80" height="33.04" fill="#e3e2fd"/>
<rect x="674.70" y="744.80" width="25.90" height="33.04" fill="#e6e5fd"/>
<rect x="700.60" y="744.80" width="26.10" height="33.04" fill="#dcdbfc"/>
<rect x="726.70" y="744.80" width="26.00" height="33.04" fill="#f6f5fe"/>
<rect x="752.70" y="744.80" width="26.10" height="33.04" fill="#e6e5fd"/>
<rect x="778.80" y="744.80" width="25.90" height="33.04" fill="#edecfd"/>
<rect x="804.70" y="744.80" width="26.20" height="33.04" fill="#e1e0fd"/>
<rect x="830.90" y="744.80" width="26.10" height="33.04" fill="#f3f3fe"/>
<rect x="866.20" y="744.80" width="24.40" height="33.04" fill="#f1f1fe"/>
<rect x="890.60" y="744.80" width="25.90" height="33.04" fill="#fffdfd"/>
<rect x="916.50" y="744.80" width="25.80" height="33.04" fill="#dfddfc"/>
<rect x="942.30" y="744.80" width="26.20" height="33.04" fill="#e3e2fd"/>
<rect x="968.50" y="744.80" width="25.80" height="33.04" fill="#eae9fd"/>
<rect x="994.30" y="744.80" width="25.90" height="33.04" fill="#f1f1fe"/>
<rect x="1020.20" y="744.80" width="26.00" height="33.04" fill="#edecfd"/>
<rect x="1046.20" y="744.80" width="25.90" height="33.04" fill="#efeefe"/>
<rect x="1072.10" y="744.80" width="26.10" height="33.04" fill="#fafaff"/>
<rect x="1098.20" y="744.80" width="25.80" height="33.04" fill="#f6f5fe"/>
<rect x="1124.00" y="744.80" width="26.00" height="33.04" fill="#dad9fc"/>
<rect x="1150.00" y="744.80" width="26.00" height="33.04" fill="#fdecec"/>
<rect x="1185.00" y="744.80" width="25.70" height="33.04" fill="#f8c0c2"/>
<rect x="1210.70" y="744.80" width="25.80" height="33.04" fill="#f7b2b4"/>
<rect x="1236.50" y="744.80" width="26.00" height="33.04" fill="#f06f71"/>
<rect x="1262.50" y="744.80" width="25.90" height="33.04" fill="#f38c8e"/>
<rect x="1288.40" y="744.80" width="26.10" height="33.04" fill="#f7b2b4"/>
<rect x="1314.50" y="744.80" width="25.90" height="33.04" fill="#f7b2b4"/>
<rect x="1340.40" y="744.80" width="26.00" height="33.04" fill="#f49597"/>
<rect x="1366.40" y="744.80" width="26.10" height="33.04" fill="#ef6568"/>
<rect x="1392.50" y="744.80" width="25.90" height="33.04" fill="#ef6a6d"/>
<rect x="1418.40" y="744.80" width="26.10" height="33.04" fill="#f1787b"/>
<rect x="225.90" y="777.84" width="26.10" height="33.04" fill="#dfddfc"/>
<rect x="252.00" y="777.84" width="25.70" height="33.04" fill="#d1cffb"/>
<rect x="277.70" y="777.84" width="25.20" height="33.04" fill="#d3d1fb"/>
<rect x="302.90" y="777.84" width="25.70" height="33.04" fill="#d3d1fb"/>
<rect x="328.60" y="777.84" width="26.00" height="33.04" fill="#d5d4fc"/>
<rect x="354.60" y="777.84" width="26.00" height="33.04" fill="#d5d4fc"/>
<rect x="380.60" y="777.84" width="25.90" height="33.04" fill="#d3d1fb"/>
<rect x="406.50" y="777.84" width="26.10" height="33.04" fill="#d8d6fc"/>
<rect x="432.60" y="777.84" width="26.10" height="33.04" fill="#d8d6fc"/>
<rect x="458.70" y="777.84" width="25.90" height="33.04" fill="#d3d1fb"/>
<rect x="484.60" y="777.84" width="26.00" height="33.04" fill="#dad9fc"/>
<rect x="510.60" y="777.84" width="26.00" height="33.04" fill="#ceccfb"/>
<rect x="545.90" y="777.84" width="26.10" height="33.04" fill="#dfddfc"/>
<rect x="572.00" y="777.84" width="24.80" height="33.04" fill="#e6e5fd"/>
<rect x="596.80" y="777.84" width="26.00" height="33.04" fill="#fafaff"/>
<rect x="622.80" y="777.84" width="26.10" height="33.04" fill="#edecfd"/>
<rect x="648.90" y="777.84" width="25.80" height="33.04" fill="#e1e0fd"/>
<rect x="674.70" y="777.84" width="25.90" height="33.04" fill="#dfddfc"/>
<rect x="700.60" y="777.84" width="26.10" height="33.04" fill="#dfddfc"/>
<rect x="726.70" y="777.84" width="26.00" height="33.04" fill="#dfddfc"/>
<rect x="752.70" y="777.84" width="26.10" height="33.04" fill="#e3e2fd"/>
<rect x="778.80" y="777.84" width="25.90" height="33.04" fill="#e8e7fd"/>
<rect x="804.70" y="777.84" width="26.20" height="33.04" fill="#e6e5fd"/>
<rect x="830.90" y="777.84" width="26.10" height="33.04" fill="#efeefe"/>
<rect x="866.20" y="777.84" width="24.40" height="33.04" fill="#e6e5fd"/>
<rect x="890.60" y="777.84" width="25.90" height="33.04" fill="#fafaff"/>
<rect x="916.50" y="777.84" width="25.80" height="33.04" fill="#f1f1fe"/>
<rect x="942.30" y="777.84" width="26.20" height="33.04" fill="#f6f5fe"/>
<rect x="968.50" y="777.84" width="25.80" height="33.04" fill="#d1cffb"/>
<rect x="994.30" y="777.84" width="25.90" height="33.04" fill="#fdfdff"/>
<rect x="1020.20" y="777.84" width="26.00" height="33.04" fill="#eae9fd"/>
<rect x="1046.20" y="777.84" width="25.90" height="33.04" fill="#d1cffb"/>
<rect x="1072.10" y="777.84" width="26.10" height="33.04" fill="#dad9fc"/>
<rect x="1098.20" y="777.84" width="25.80" height="33.04" fill="#dfddfc"/>
<rect x="1124.00" y="777.84" width="26.00" height="33.04" fill="#dfddfc"/>
<rect x="1150.00" y="777.84" width="26.00" height="33.04" fill="#eae9fd"/>
<rect x="1185.00" y="777.84" width="25.70" height="33.04" fill="#f7b2b4"/>
<rect x="1210.70" y="777.84" width="25.80" height="33.04" fill="#f06f71"/>
<rect x="1236.50" y="777.84" width="26.00" height="33.04" fill="#f06f71"/>
<rect x="1262.50" y="777.84" width="25.90" height="33.04" fill="#f59fa1"/>
<rect x="1288.40" y="777.84" width="26.10" height="33.04" fill="#f7b2b4"/>
<rect x="1314.50" y="777.84" width="25.90" height="33.04" fill="#f59fa1"/>
<rect x="1340.40" y="777.84" width="26.00" height="33.04" fill="#f38c8e"/>
<rect x="1366.40" y="777.84" width="26.10" height="33.04" fill="#f28789"/>
<rect x="1392.50" y="777.84" width="25.90" height="33.04" fill="#f28789"/>
<rect x="1418.40" y="777.84" width="26.10" height="33.04" fill="#ef6568"/>
<rect x="225.90" y="810.88" width="26.10" height="32.02" fill="#cccafb"/>
<rect x="252.00" y="810.88" width="25.70" height="32.02" fill="#cccafb"/>
<rect x="277.70" y="810.88" width="25.20" height="32.02" fill="#d1cffb"/>
<rect x="302.90" y="810.88" width="25.70" height="32.02" fill="#ceccfb"/>
<rect x="328.60" y="810.88" width="26.00" height="32.02" fill="#d5d4fc"/>
<rect x="354.60" y="810.88" width="26.00" height="32.02" fill="#ceccfb"/>
<rect x="380.60" y="810.88" width="25.90" height="32.02" fill="#d1cffb"/>
<rect x="406.50" y="810.88" width="26.10" height="32.02" fill="#d3d1fb"/>
<rect x="432.60" y="810.88" width="26.10" height="32.02" fill="#d8d6fc"/>
<rect x="458.70" y="810.88" width="25.90" height="32.02" fill="#ceccfb"/>
<rect x="484.60" y="810.88" width="26.00" height="32.02" fill="#d8d6fc"/>
<rect x="510.60" y="810.88" width="26.00" height="32.02" fill="#dad9fc"/>
<rect x="545.90" y="810.88" width="26.10" height="32.02" fill="#e8e7fd"/>
<rect x="572.00" y="810.88" width="24.80" height="32.02" fill="#efeefe"/>
<rect x="596.80" y="810.88" width="26.00" height="32.02" fill="#e1e0fd"/>
<rect x="622.80" y="810.88" width="26.10" height="32.02" fill="#e3e2fd"/>
<rect x="648.90" y="810.88" width="25.80" height="32.02" fill="#eae9fd"/>
<rect x="674.70" y="810.88" width="25.90" height="32.02" fill="#efeefe"/>
<rect x="700.60" y="810.88" width="26.10" height="32.02" fill="#e8e7fd"/>
<rect x="726.70" y="810.88" width="26.00" height="32.02" fill="#eae9fd"/>
<rect x="752.70" y="810.88" width="26.10" height="32.02" fill="#e8e7fd"/>
<rect x="778.80" y="810.88" width="25.90" height="32.02" fill="#efeefe"/>
<rect x="804.70" y="810.88" width="26.20" height="32.02" fill="#edecfd"/>
<rect x="830.90" y="810.88" width="26.10" height="32.02" fill="#edecfd"/>
<rect x="866.20" y="810.88" width="24.40" height="32.02" fill="#dfddfc"/>
<rect x="890.60" y="810.88" width="25.90" height="32.02" fill="#e8e7fd"/>
<rect x="916.50" y="810.88" width="25.80" height="32.02" fill="#dfddfc"/>
<rect x="942.30" y="810.88" width="26.20" height="32.02" fill="#f3f3fe"/>
<rect x="968.50" y="810.88" width="25.80" height="32.02" fill="#e8e7fd"/>
<rect x="994.30" y="810.88" width="25.90" height="32.02" fill="#fafaff"/>
<rect x="1020.20" y="810.88" width="26.00" height="32.02" fill="#dfddfc"/>
<rect x="1046.20" y="810.88" width="25.90" height="32.02" fill="#edecfd"/>
<rect x="1072.10" y="810.88" width="26.10" height="32.02" fill="#dcdbfc"/>
<rect x="1098.20" y="810.88" width="25.80" height="32.02" fill="#dad9fc"/>
<rect x="1124.00" y="810.88" width="26.00" height="32.02" fill="#dcdbfc"/>
<rect x="1150.00" y="810.88" width="26.00" height="32.02" fill="#f3f3fe"/>
<rect x="1185.00" y="810.88" width="25.70" height="32.02" fill="#f7b2b4"/>
<rect x="1210.70" y="810.88" width="25.80" height="32.02" fill="#f06f71"/>
<rect x="1236.50" y="810.88" width="26.00" height="32.02" fill="#ee6063"/>
<rect x="1262.50" y="810.88" width="25.90" height="32.02" fill="#f59fa1"/>
<rect x="1288.40" y="810.88" width="26.10" height="32.02" fill="#f7b7b8"/>
<rect x="1314.50" y="810.88" width="25.90" height="32.02" fill="#f49597"/>
<rect x="1340.40" y="810.88" width="26.00" height="32.02" fill="#f17d80"/>
<rect x="1366.40" y="810.88" width="26.10" height="32.02" fill="#f28284"/>
<rect x="1392.50" y="810.88" width="25.90" height="32.02" fill="#f5a4a5"/>
<rect x="1418.40" y="810.88" width="26.10" height="32.02" fill="#f6adaf"/>
<rect x="225.90" y="851.90" width="26.10" height="33.01" fill="#dcdbfc"/>
<rect x="252.00" y="851.90" width="25.70" height="33.01" fill="#dfddfc"/>
<rect x="277.70" y="851.90" width="25.20" height="33.01" fill="#dcdbfc"/>
<rect x="302.90" y="851.90" width="25.70" height="33.01" fill="#dfddfc"/>
<rect x="328.60" y="851.90" width="26.00" height="33.01" fill="#e3e2fd"/>
<rect x="354.60" y="851.90" width="26.00" height="33.01" fill="#dfddfc"/>
<rect x="380.60" y="851.90" width="25.90" height="33.01" fill="#dfddfc"/>
<rect x="406.50" y="851.90" width="26.10" height="33.01" fill="#dcdbfc"/>
<rect x="432.60" y="851.90" width="26.10" height="33.01" fill="#dcdbfc"/>
<rect x="458.70" y="851.90" width="25.90" height="33.01" fill="#dfddfc"/>
<rect x="484.60" y="851.90" width="26.00" height="33.01" fill="#e1e0fd"/>
<rect x="510.60" y="851.90" width="26.00" height="33.01" fill="#e1e0fd"/>
<rect x="545.90" y="851.90" width="26.10" height="33.01" fill="#dcdbfc"/>
<rect x="572.00" y="851.90" width="24.80" height="33.01" fill="#dfddfc"/>
<rect x="596.80" y="851.90" width="26.00" height="33.01" fill="#e8e7fd"/>
<rect x="622.80" y="851.90" width="26.10" height="33.01" fill="#dfddfc"/>
<rect x="648.90" y="851.90" width="25.80" height="33.01" fill="#dfddfc"/>
<rect x="674.70" y="851.90" width="25.90" height="33.01" fill="#dcdbfc"/>
<rect x="700.60" y="851.90" width="26.10" height="33.01" fill="#dfddfc"/>
<rect x="726.70" y="851.90" width="26.00" height="33.01" fill="#dcdbfc"/>
<rect x="752.70" y="851.90" width="26.10" height="33.01" fill="#dcdbfc"/>
<rect x="778.80" y="851.90" width="25.90" height="33.01" fill="#dcdbfc"/>
<rect x="804.70" y="851.90" width="26.20" height="33.01" fill="#e1e0fd"/>
<rect x="830.90" y="851.90" width="26.10" height="33.01" fill="#dfddfc"/>
<rect x="866.20" y="851.90" width="24.40" height="33.01" fill="#fce2e3"/>
<rect x="890.60" y="851.90" width="25.90" height="33.01" fill="#f8bcbd"/>
<rect x="916.50" y="851.90" width="25.80" height="33.01" fill="#facfd0"/>
<rect x="942.30" y="851.90" width="26.20" height="33.01" fill="#f3f3fe"/>
<rect x="968.50" y="851.90" width="25.80" height="33.01" fill="#e40005"/>
<rect x="994.30" y="851.90" width="25.90" height="33.01" fill="#facfd0"/>
<rect x="1020.20" y="851.90" width="26.00" height="33.01" fill="#facfd0"/>
<rect x="1046.20" y="851.90" width="25.90" height="33.01" fill="#f5a4a5"/>
<rect x="1072.10" y="851.90" width="26.10" height="33.01" fill="#f7b2b4"/>
<rect x="1098.20" y="851.90" width="25.80" height="33.01" fill="#facfd0"/>
<rect x="1124.00" y="851.90" width="26.00" height="33.01" fill="#f8c0c2"/>
<rect x="1150.00" y="851.90" width="26.00" height="33.01" fill="#fad4d5"/>
<rect x="1185.00" y="851.90" width="25.70" height="33.01" fill="#f6f5fe"/>
<rect x="1210.70" y="851.90" width="25.80" height="33.01" fill="#e8e7fd"/>
<rect x="1236.50" y="851.90" width="26.00" height="33.01" fill="#f6f5fe"/>
<rect x="1262.50" y="851.90" width="25.90" height="33.01" fill="#fffdfd"/>
<rect x="1288.40" y="851.90" width="26.10" height="33.01" fill="#e6e5fd"/>
<rect x="1314.50" y="851.90" width="25.90" height="33.01" fill="#eae9fd"/>
<rect x="1340.40" y="851.90" width="26.00" height="33.01" fill="#f1f1fe"/>
<rect x="1366.40" y="851.90" width="26.10" height="33.01" fill="#f6f5fe"/>
<rect x="1392.50" y="851.90" width="25.90" height="33.01" fill="#e3e2fd"/>
<rect x="1418.40" y="851.90" width="26.10" height="33.01" fill="#f1f1fe"/>
<rect x="225.90" y="884.91" width="26.10" height="33.01" fill="#fdecec"/>
<rect x="252.00" y="884.91" width="25.70" height="33.01" fill="#e8e7fd"/>
<rect x="277.70" y="884.91" width="25.20" height="33.01" fill="#fce7e7"/>
<rect x="302.90" y="884.91" width="25.70" height="33.01" fill="#dad9fc"/>
<rect x="328.60" y="884.91" width="26.00" height="33.01" fill="#e3e2fd"/>
<rect x="354.60" y="884.91" width="26.00" height="33.01" fill="#fffdfd"/>
<rect x="380.60" y="884.91" width="25.90" height="33.01" fill="#d1cffb"/>
<rect x="406.50" y="884.91" width="26.10" height="33.01" fill="#dfddfc"/>
<rect x="432.60" y="884.91" width="26.10" height="33.01" fill="#d8d6fc"/>
<rect x="458.70" y="884.91" width="25.90" height="33.01" fill="#fffdfd"/>
<rect x="484.60" y="884.91" width="26.00" height="33.01" fill="#f1f1fe"/>
<rect x="510.60" y="884.91" width="26.00" height="33.01" fill="#e1e0fd"/>
<rect x="545.90" y="884.91" width="26.10" height="33.01" fill="#d8d6fc"/>
<rect x="572.00" y="884.91" width="24.80" height="33.01" fill="#c8c5fa"/>
<rect x="596.80" y="884.91" width="26.00" height="33.01" fill="#dfddfc"/>
<rect x="622.80" y="884.91" width="26.10" height="33.01" fill="#dad9fc"/>
<rect x="648.90" y="884.91" width="25.80" height="33.01" fill="#cccafb"/>
<rect x="674.70" y="884.91" width="25.90" height="33.01" fill="#dad9fc"/>
<rect x="700.60" y="884.91" width="26.10" height="33.01" fill="#d5d4fc"/>
<rect x="726.70" y="884.91" width="26.00" height="33.01" fill="#cac8fb"/>
<rect x="752.70" y="884.91" width="26.10" height="33.01" fill="#cac8fb"/>
<rect x="778.80" y="884.91" width="25.90" height="33.01" fill="#cac8fb"/>
<rect x="804.70" y="884.91" width="26.20" height="33.01" fill="#dcdbfc"/>
<rect x="830.90" y="884.91" width="26.10" height="33.01" fill="#c5c3fa"/>
<rect x="866.20" y="884.91" width="24.40" height="33.01" fill="#f7b2b4"/>
<rect x="890.60" y="884.91" width="25.90" height="33.01" fill="#fad4d5"/>
<rect x="916.50" y="884.91" width="25.80" height="33.01" fill="#fce2e3"/>
<rect x="942.30" y="884.91" width="26.20" height="33.01" fill="#f8bcbd"/>
<rect x="968.50" y="884.91" width="25.80" height="33.01" fill="#eb4347"/>
<rect x="994.30" y="884.91" width="25.90" height="33.01" fill="#fdeeee"/>
<rect x="1020.20" y="884.91" width="26.00" height="33.01" fill="#f28789"/>
<rect x="1046.20" y="884.91" width="25.90" height="33.01" fill="#f28284"/>
<rect x="1072.10" y="884.91" width="26.10" height="33.01" fill="#f49597"/>
<rect x="1098.20" y="884.91" width="25.80" height="33.01" fill="#f7b2b4"/>
<rect x="1124.00" y="884.91" width="26.00" height="33.01" fill="#f59fa1"/>
<rect x="1150.00" y="884.91" width="26.00" height="33.01" fill="#f6a8aa"/>
<rect x="1185.00" y="884.91" width="25.70" height="33.01" fill="#e3e2fd"/>
<rect x="1210.70" y="884.91" width="25.80" height="33.01" fill="#e3e2fd"/>
<rect x="1236.50" y="884.91" width="26.00" height="33.01" fill="#dfddfc"/>
<rect x="1262.50" y="884.91" width="25.90" height="33.01" fill="#e1e0fd"/>
<rect x="1288.40" y="884.91" width="26.10" height="33.01" fill="#f8f8fe"/>
<rect x="1314.50" y="884.91" width="25.90" height="33.01" fill="#f3f3fe"/>
<rect x="1340.40" y="884.91" width="26.00" height="33.01" fill="#bebcfa"/>
<rect x="1366.40" y="884.91" width="26.10" height="33.01" fill="#dad9fc"/>
<rect x="1392.50" y="884.91" width="25.90" height="33.01" fill="#d5d4fc"/>
<rect x="1418.40" y="884.91" width="26.10" height="33.01" fill="#bebcfa"/>
<rect x="225.90" y="917.92" width="26.10" height="33.01" fill="#efeefe"/>
<rect x="252.00" y="917.92" width="25.70" height="33.01" fill="#e8e7fd"/>
<rect x="277.70" y="917.92" width="25.20" height="33.01" fill="#eae9fd"/>
<rect x="302.90" y="917.92" width="25.70" height="33.01" fill="#f1f1fe"/>
<rect x="328.60" y="917.92" width="26.00" height="33.01" fill="#f6f5fe"/>
<rect x="354.60" y="917.92" width="26.00" height="33.01" fill="#f1f1fe"/>
<rect x="380.60" y="917.92" width="25.90" height="33.01" fill="#efeefe"/>
<rect x="406.50" y="917.92" width="26.10" height="33.01" fill="#fafaff"/>
<rect x="432.60" y="917.92" width="26.10" height="33.01" fill="#efeefe"/>
<rect x="458.70" y="917.92" width="25.90" height="33.01" fill="#e8e7fd"/>
<rect x="484.60" y="917.92" width="26.00" height="33.01" fill="#edecfd"/>
<rect x="510.60" y="917.92" width="26.00" height="33.01" fill="#e3e2fd"/>
<rect x="545.90" y="917.92" width="26.10" height="33.01" fill="#d1cffb"/>
<rect x="572.00" y="917.92" width="24.80" height="33.01" fill="#ceccfb"/>
<rect x="596.80" y="917.92" width="26.00" height="33.01" fill="#d3d1fb"/>
<rect x="622.80" y="917.92" width="26.10" height="33.01" fill="#d1cffb"/>
<rect x="648.90" y="917.92" width="25.80" height="33.01" fill="#d3d1fb"/>
<rect x="674.70" y="917.92" width="25.90" height="33.01" fill="#d5d4fc"/>
<rect x="700.60" y="917.92" width="26.10" height="33.01" fill="#d3d1fb"/>
<rect x="726.70" y="917.92" width="26.00" height="33.01" fill="#d3d1fb"/>
<rect x="752.70" y="917.92" width="26.10" height="33.01" fill="#d1cffb"/>
<rect x="778.80" y="917.92" width="25.90" height="33.01" fill="#d3d1fb"/>
<rect x="804.70" y="917.92" width="26.20" height="33.01" fill="#d3d1fb"/>
<rect x="830.90" y="917.92" width="26.10" height="33.01" fill="#d1cffb"/>
<rect x="866.20" y="917.92" width="24.40" height="33.01" fill="#fbd9d9"/>
<rect x="890.60" y="917.92" width="25.90" height="33.01" fill="#fdecec"/>
<rect x="916.50" y="917.92" width="25.80" height="33.01" fill="#facfd0"/>
<rect x="942.30" y="917.92" width="26.20" height="33.01" fill="#f49597"/>
<rect x="968.50" y="917.92" width="25.80" height="33.01" fill="#e8262b"/>
<rect x="994.30" y="917.92" width="25.90" height="33.01" fill="#fdf1f1"/>
<rect x="1020.20" y="917.92" width="26.00" height="33.01" fill="#facfd0"/>
<rect x="1046.20" y="917.92" width="25.90" height="33.01" fill="#f17d80"/>
<rect x="1072.10" y="917.92" width="26.10" height="33.01" fill="#f38c8e"/>
<rect x="1098.20" y="917.92" width="25.80" height="33.01" fill="#f28789"/>
<rect x="1124.00" y="917.92" width="26.00" height="33.01" fill="#f38c8e"/>
<rect x="1150.00" y="917.92" width="26.00" height="33.01" fill="#fad4d5"/>
<rect x="1185.00" y="917.92" width="25.70" height="33.01" fill="#e3e2fd"/>
<rect x="1210.70" y="917.92" width="25.80" height="33.01" fill="#e1e0fd"/>
<rect x="1236.50" y="917.92" width="26.00" height="33.01" fill="#d8d6fc"/>
<rect x="1262.50" y="917.92" width="25.90" height="33.01" fill="#fffdfd"/>
<rect x="1288.40" y="917.92" width="26.10" height="33.01" fill="#dad9fc"/>
<rect x="1314.50" y="917.92" width="25.90" height="33.01" fill="#e3e2fd"/>
<rect x="1340.40" y="917.92" width="26.00" height="33.01" fill="#d1cffb"/>
<rect x="1366.40" y="917.92" width="26.10" height="33.01" fill="#cccafb"/>
<rect x="1392.50" y="917.92" width="25.90" height="33.01" fill="#d5d4fc"/>
<rect x="1418.40" y="917.92" width="26.10" height="33.01" fill="#d5d4fc"/>
<rect x="225.90" y="950.93" width="26.10" height="33.01" fill="#dfddfc"/>
<rect x="252.00" y="950.93" width="25.70" height="33.01" fill="#e8e7fd"/>
<rect x="277.70" y="950.93" width="25.20" height="33.01" fill="#e6e5fd"/>
<rect x="302.90" y="950.93" width="25.70" height="33.01" fill="#efeefe"/>
<rect x="328.60" y="950.93" width="26.00" height="33.01" fill="#dad9fc"/>
<rect x="354.60" y="950.93" width="26.00" height="33.01" fill="#dcdbfc"/>
<rect x="380.60" y="950.93" width="25.90" height="33.01" fill="#dcdbfc"/>
<rect x="406.50" y="950.93" width="26.10" height="33.01" fill="#dcdbfc"/>
<rect x="432.60" y="950.93" width="26.10" height="33.01" fill="#dad9fc"/>
<rect x="458.70" y="950.93" width="25.90" height="33.01" fill="#dfddfc"/>
<rect x="484.60" y="950.93" width="26.00" height="33.01" fill="#dfddfc"/>
<rect x="510.60" y="950.93" width="26.00" height="33.01" fill="#e3e2fd"/>
<rect x="545.90" y="950.93" width="26.10" height="33.01" fill="#dcdbfc"/>
<rect x="572.00" y="950.93" width="24.80" height="33.01" fill="#dad9fc"/>
<rect x="596.80" y="950.93" width="26.00" height="33.01" fill="#dcdbfc"/>
<rect x="622.80" y="950.93" width="26.10" height="33.01" fill="#dad9fc"/>
<rect x="648.90" y="950.93" width="25.80" height="33.01" fill="#d5d4fc"/>
<rect x="674.70" y="950.93" width="25.90" height="33.01" fill="#d8d6fc"/>
<rect x="700.60" y="950.93" width="26.10" height="33.01" fill="#d8d6fc"/>
<rect x="726.70" y="950.93" width="26.00" height="33.01" fill="#d8d6fc"/>
<rect x="752.70" y="950.93" width="26.10" height="33.01" fill="#d8d6fc"/>
<rect x="778.80" y="950.93" width="25.90" height="33.01" fill="#d8d6fc"/>
<rect x="804.70" y="950.93" width="26.20" height="33.01" fill="#dad9fc"/>
<rect x="830.90" y="950.93" width="26.10" height="33.01" fill="#e1e0fd"/>
<rect x="866.20" y="950.93" width="24.40" height="33.01" fill="#f59fa1"/>
<rect x="890.60" y="950.93" width="25.90" height="33.01" fill="#facfd0"/>
<rect x="916.50" y="950.93" width="25.80" height="33.01" fill="#fbd9d9"/>
<rect x="942.30" y="950.93" width="26.20" height="33.01" fill="#f8bcbd"/>
<rect x="968.50" y="950.93" width="25.80" height="33.01" fill="#ec484c"/>
<rect x="994.30" y="950.93" width="25.90" height="33.01" fill="#fdf1f1"/>
<rect x="1020.20" y="950.93" width="26.00" height="33.01" fill="#facfd0"/>
<rect x="1046.20" y="950.93" width="25.90" height="33.01" fill="#f49597"/>
<rect x="1072.10" y="950.93" width="26.10" height="33.01" fill="#f5a4a5"/>
<rect x="1098.20" y="950.93" width="25.80" height="33.01" fill="#f49597"/>
<rect x="1124.00" y="950.93" width="26.00" height="33.01" fill="#ec484c"/>
<rect x="1150.00" y="950.93" width="26.00" height="33.01" fill="#f8c0c2"/>
<rect x="1185.00" y="950.93" width="25.70" height="33.01" fill="#d1cffb"/>
<rect x="1210.70" y="950.93" width="25.80" height="33.01" fill="#e8e7fd"/>
<rect x="1236.50" y="950.93" width="26.00" height="33.01" fill="#e3e2fd"/>
<rect x="1262.50" y="950.93" width="25.90" height="33.01" fill="#dad9fc"/>
<rect x="1288.40" y="950.93" width="26.10" height="33.01" fill="#dfddfc"/>
<rect x="1314.50" y="950.93" width="25.90" height="33.01" fill="#f6f5fe"/>
<rect x="1340.40" y="950.93" width="26.00" height="33.01" fill="#dad9fc"/>
<rect x="1366.40" y="950.93" width="26.10" height="33.01" fill="#f6f5fe"/>
<rect x="1392.50" y="950.93" width="25.90" height="33.01" fill="#edecfd"/>
<rect x="1418.40" y="950.93" width="26.10" height="33.01" fill="#e3e2fd"/>
<rect x="225.90" y="983.94" width="26.10" height="33.01" fill="#d8d6fc"/>
<rect x="252.00" y="983.94" width="25.70" height="33.01" fill="#dcdbfc"/>
<rect x="277.70" y="983.94" width="25.20" height="33.01" fill="#dcdbfc"/>
<rect x="302.90" y="983.94" width="25.70" height="33.01" fill="#d8d6fc"/>
<rect x="328.60" y="983.94" width="26.00" height="33.01" fill="#edecfd"/>
<rect x="354.60" y="983.94" width="26.00" height="33.01" fill="#e8e7fd"/>
<rect x="380.60" y="983.94" width="25.90" height="33.01" fill="#dad9fc"/>
<rect x="406.50" y="983.94" width="26.10" height="33.01" fill="#dcdbfc"/>
<rect x="432.60" y="983.94" width="26.10" height="33.01" fill="#dfddfc"/>
<rect x="458.70" y="983.94" width="25.90" height="33.01" fill="#dfddfc"/>
<rect x="484.60" y="983.94" width="26.00" height="33.01" fill="#dcdbfc"/>
<rect x="510.60" y="983.94" width="26.00" height="33.01" fill="#d8d6fc"/>
<rect x="545.90" y="983.94" width="26.10" height="33.01" fill="#d5d4fc"/>
<rect x="572.00" y="983.94" width="24.80" height="33.01" fill="#d5d4fc"/>
<rect x="596.80" y="983.94" width="26.00" height="33.01" fill="#d3d1fb"/>
<rect x="622.80" y="983.94" width="26.10" height="33.01" fill="#d5d4fc"/>
<rect x="648.90" y="983.94" width="25.80" height="33.01" fill="#dad9fc"/>
<rect x="674.70" y="983.94" width="25.90" height="33.01" fill="#dad9fc"/>
<rect x="700.60" y="983.94" width="26.10" height="33.01" fill="#dad9fc"/>
<rect x="726.70" y="983.94" width="26.00" height="33.01" fill="#dad9fc"/>
<rect x="752.70" y="983.94" width="26.10" height="33.01" fill="#d8d6fc"/>
<rect x="778.80" y="983.94" width="25.90" height="33.01" fill="#dad9fc"/>
<rect x="804.70" y="983.94" width="26.20" height="33.01" fill="#d3d1fb"/>
<rect x="830.90" y="983.94" width="26.10" height="33.01" fill="#d8d6fc"/>
<rect x="866.20" y="983.94" width="24.40" height="33.01" fill="#facfd0"/>
<rect x="890.60" y="983.94" width="25.90" height="33.01" fill="#facfd0"/>
<rect x="916.50" y="983.94" width="25.80" height="33.01" fill="#f7b2b4"/>
<rect x="942.30" y="983.94" width="26.20" height="33.01" fill="#f6adaf"/>
<rect x="968.50" y="983.94" width="25.80" height="33.01" fill="#e82226"/>
<rect x="994.30" y="983.94" width="25.90" height="33.01" fill="#fbddde"/>
<rect x="1020.20" y="983.94" width="26.00" height="33.01" fill="#f6adaf"/>
<rect x="1046.20" y="983.94" width="25.90" height="33.01" fill="#f8c0c2"/>
<rect x="1072.10" y="983.94" width="26.10" height="33.01" fill="#f59fa1"/>
<rect x="1098.20" y="983.94" width="25.80" height="33.01" fill="#f59fa1"/>
<rect x="1124.00" y="983.94" width="26.00" height="33.01" fill="#f1787b"/>
<rect x="1150.00" y="983.94" width="26.00" height="33.01" fill="#f7b2b4"/>
<rect x="1185.00" y="983.94" width="25.70" height="33.01" fill="#edecfd"/>
<rect x="1210.70" y="983.94" width="25.80" height="33.01" fill="#f3f3fe"/>
<rect x="1236.50" y="983.94" width="26.00" height="33.01" fill="#e3e2fd"/>
<rect x="1262.50" y="983.94" width="25.90" height="33.01" fill="#dad9fc"/>
<rect x="1288.40" y="983.94" width="26.10" height="33.01" fill="#f6f5fe"/>
<rect x="1314.50" y="983.94" width="25.90" height="33.01" fill="#efeefe"/>
<rect x="1340.40" y="983.94" width="26.00" height="33.01" fill="#d5d4fc"/>
<rect x="1366.40" y="983.94" width="26.10" height="33.01" fill="#d3d1fb"/>
<rect x="1392.50" y="983.94" width="25.90" height="33.01" fill="#e3e2fd"/>
<rect x="1418.40" y="983.94" width="26.10" height="33.01" fill="#dad9fc"/>
<rect x="225.90" y="1016.95" width="26.10" height="33.01" fill="#dfddfc"/>
<rect x="252.00" y="1016.95" width="25.70" height="33.01" fill="#dfddfc"/>
<rect x="277.70" y="1016.95" width="25.20" height="33.01" fill="#d8d6fc"/>
<rect x="302.90" y="1016.95" width="25.70" height="33.01" fill="#dad9fc"/>
<rect x="328.60" y="1016.95" width="26.00" height="33.01" fill="#f3f3fe"/>
<rect x="354.60" y="1016.95" width="26.00" height="33.01" fill="#e1e0fd"/>
<rect x="380.60" y="1016.95" width="25.90" height="33.01" fill="#e1e0fd"/>
<rect x="406.50" y="1016.95" width="26.10" height="33.01" fill="#e6e5fd"/>
<rect x="432.60" y="1016.95" width="26.10" height="33.01" fill="#d8d6fc"/>
<rect x="458.70" y="1016.95" width="25.90" height="33.01" fill="#dcdbfc"/>
<rect x="484.60" y="1016.95" width="26.00" height="33.01" fill="#dad9fc"/>
<rect x="510.60" y="1016.95" width="26.00" height="33.01" fill="#dcdbfc"/>
<rect x="545.90" y="1016.95" width="26.10" height="33.01" fill="#d1cffb"/>
<rect x="572.00" y="1016.95" width="24.80" height="33.01" fill="#ceccfb"/>
<rect x="596.80" y="1016.95" width="26.00" height="33.01" fill="#cccafb"/>
<rect x="622.80" y="1016.95" width="26.10" height="33.01" fill="#ceccfb"/>
<rect x="648.90" y="1016.95" width="25.80" height="33.01" fill="#dad9fc"/>
<rect x="674.70" y="1016.95" width="25.90" height="33.01" fill="#d8d6fc"/>
<rect x="700.60" y="1016.95" width="26.10" height="33.01" fill="#d8d6fc"/>
<rect x="726.70" y="1016.95" width="26.00" height="33.01" fill="#d8d6fc"/>
<rect x="752.70" y="1016.95" width="26.10" height="33.01" fill="#d3d1fb"/>
<rect x="778.80" y="1016.95" width="25.90" height="33.01" fill="#d1cffb"/>
<rect x="804.70" y="1016.95" width="26.20" height="33.01" fill="#d3d1fb"/>
<rect x="830.90" y="1016.95" width="26.10" height="33.01" fill="#d1cffb"/>
<rect x="866.20" y="1016.95" width="24.40" height="33.01" fill="#f8c0c2"/>
<rect x="890.60" y="1016.95" width="25.90" height="33.01" fill="#fce7e7"/>
<rect x="916.50" y="1016.95" width="25.80" height="33.01" fill="#f49a9c"/>
<rect x="942.30" y="1016.95" width="26.20" height="33.01" fill="#f6adaf"/>
<rect x="968.50" y="1016.95" width="25.80" height="33.01" fill="#ee5b5f"/>
<rect x="994.30" y="1016.95" width="25.90" height="33.01" fill="#facfd0"/>
<rect x="1020.20" y="1016.95" width="26.00" height="33.01" fill="#f8c0c2"/>
<rect x="1046.20" y="1016.95" width="25.90" height="33.01" fill="#f9c5c6"/>
<rect x="1072.10" y="1016.95" width="26.10" height="33.01" fill="#f1787b"/>
<rect x="1098.20" y="1016.95" width="25.80" height="33.01" fill="#f1787b"/>
<rect x="1124.00" y="1016.95" width="26.00" height="33.01" fill="#f07376"/>
<rect x="1150.00" y="1016.95" width="26.00" height="33.01" fill="#f8c0c2"/>
<rect x="1185.00" y="1016.95" width="25.70" height="33.01" fill="#fffdfd"/>
<rect x="1210.70" y="1016.95" width="25.80" height="33.01" fill="#fffefe"/>
<rect x="1236.50" y="1016.95" width="26.00" height="33.01" fill="#e8e7fd"/>
<rect x="1262.50" y="1016.95" width="25.90" height="33.01" fill="#e3e2fd"/>
<rect x="1288.40" y="1016.95" width="26.10" height="33.01" fill="#edecfd"/>
<rect x="1314.50" y="1016.95" width="25.90" height="33.01" fill="#e8e7fd"/>
<rect x="1340.40" y="1016.95" width="26.00" height="33.01" fill="#dad9fc"/>
<rect x="1366.40" y="1016.95" width="26.10" height="33.01" fill="#eae9fd"/>
<rect x="1392.50" y="1016.95" width="25.90" height="33.01" fill="#e3e2fd"/>
<rect x="1418.40" y="1016.95" width="26.10" height="33.01" fill="#e3e2fd"/>
<rect x="225.90" y="1049.96" width="26.10" height="33.01" fill="#dad9fc"/>
<rect x="252.00" y="1049.96" width="25.70" height="33.01" fill="#dad9fc"/>
<rect x="277.70" y="1049.96" width="25.20" height="33.01" fill="#dfddfc"/>
<rect x="302.90" y="1049.96" width="25.70" height="33.01" fill="#dad9fc"/>
<rect x="328.60" y="1049.96" width="26.00" height="33.01" fill="#d8d6fc"/>
<rect x="354.60" y="1049.96" width="26.00" height="33.01" fill="#d8d6fc"/>
<rect x="380.60" y="1049.96" width="25.90" height="33.01" fill="#d8d6fc"/>
<rect x="406.50" y="1049.96" width="26.10" height="33.01" fill="#dad9fc"/>
<rect x="432.60" y="1049.96" width="26.10" height="33.01" fill="#dad9fc"/>
<rect x="458.70" y="1049.96" width="25.90" height="33.01" fill="#dad9fc"/>
<rect x="484.60" y="1049.96" width="26.00" height="33.01" fill="#dcdbfc"/>
<rect x="510.60" y="1049.96" width="26.00" height="33.01" fill="#dad9fc"/>
<rect x="545.90" y="1049.96" width="26.10" height="33.01" fill="#d8d6fc"/>
<rect x="572.00" y="1049.96" width="24.80" height="33.01" fill="#dad9fc"/>
<rect x="596.80" y="1049.96" width="26.00" height="33.01" fill="#dcdbfc"/>
<rect x="622.80" y="1049.96" width="26.10" height="33.01" fill="#dad9fc"/>
<rect x="648.90" y="1049.96" width="25.80" height="33.01" fill="#dad9fc"/>
<rect x="674.70" y="1049.96" width="25.90" height="33.01" fill="#dad9fc"/>
<rect x="700.60" y="1049.96" width="26.10" height="33.01" fill="#dad9fc"/>
<rect x="726.70" y="1049.96" width="26.00" height="33.01" fill="#dad9fc"/>
<rect x="752.70" y="1049.96" width="26.10" height="33.01" fill="#dfddfc"/>
<rect x="778.80" y="1049.96" width="25.90" height="33.01" fill="#dcdbfc"/>
<rect x="804.70" y="1049.96" width="26.20" height="33.01" fill="#dad9fc"/>
<rect x="830.90" y="1049.96" width="26.10" height="33.01" fill="#dcdbfc"/>
<rect x="866.20" y="1049.96" width="24.40" height="33.01" fill="#fdecec"/>
<rect x="890.60" y="1049.96" width="25.90" height="33.01" fill="#fad4d5"/>
<rect x="916.50" y="1049.96" width="25.80" height="33.01" fill="#f1787b"/>
<rect x="942.30" y="1049.96" width="26.20" height="33.01" fill="#fbd9d9"/>
<rect x="968.50" y="1049.96" width="25.80" height="33.01" fill="#ed5255"/>
<rect x="994.30" y="1049.96" width="25.90" height="33.01" fill="#ee5b5f"/>
<rect x="1020.20" y="1049.96" width="26.00" height="33.01" fill="#ef6a6d"/>
<rect x="1046.20" y="1049.96" width="25.90" height="33.01" fill="#f38c8e"/>
<rect x="1072.10" y="1049.96" width="26.10" height="33.01" fill="#fce2e3"/>
<rect x="1098.20" y="1049.96" width="25.80" height="33.01" fill="#fce7e7"/>
<rect x="1124.00" y="1049.96" width="26.00" height="33.01" fill="#fbddde"/>
<rect x="1150.00" y="1049.96" width="26.00" height="33.01" fill="#fbddde"/>
<rect x="1185.00" y="1049.96" width="25.70" height="33.01" fill="#efeefe"/>
<rect x="1210.70" y="1049.96" width="25.80" height="33.01" fill="#e8e7fd"/>
<rect x="1236.50" y="1049.96" width="26.00" height="33.01" fill="#f8f8fe"/>
<rect x="1262.50" y="1049.96" width="25.90" height="33.01" fill="#dfddfc"/>
<rect x="1288.40" y="1049.96" width="26.10" height="33.01" fill="#fffdfd"/>
<rect x="1314.50" y="1049.96" width="25.90" height="33.01" fill="#f1f1fe"/>
<rect x="1340.40" y="1049.96" width="26.00" height="33.01" fill="#dfddfc"/>
<rect x="1366.40" y="1049.96" width="26.10" height="33.01" fill="#f3f3fe"/>
<rect x="1392.50" y="1049.96" width="25.90" height="33.01" fill="#f6f5fe"/>
<rect x="1418.40" y="1049.96" width="26.10" height="33.01" fill="#edecfd"/>
<rect x="225.90" y="1082.97" width="26.10" height="33.01" fill="#e1e0fd"/>
<rect x="252.00" y="1082.97" width="25.70" height="33.01" fill="#e1e0fd"/>
<rect x="277.70" y="1082.97" width="25.20" height="33.01" fill="#e1e0fd"/>
<rect x="302.90" y="1082.97" width="25.70" height="33.01" fill="#e1e0fd"/>
<rect x="328.60" y="1082.97" width="26.00" height="33.01" fill="#e1e0fd"/>
<rect x="354.60" y="1082.97" width="26.00" height="33.01" fill="#e1e0fd"/>
<rect x="380.60" y="1082.97" width="25.90" height="33.01" fill="#e1e0fd"/>
<rect x="406.50" y="1082.97" width="26.10" height="33.01" fill="#e1e0fd"/>
<rect x="432.60" y="1082.97" width="26.10" height="33.01" fill="#e1e0fd"/>
<rect x="458.70" y="1082.97" width="25.90" height="33.01" fill="#e1e0fd"/>
<rect x="484.60" y="1082.97" width="26.00" height="33.01" fill="#e1e0fd"/>
<rect x="510.60" y="1082.97" width="26.00" height="33.01" fill="#e1e0fd"/>
<rect x="545.90" y="1082.97" width="26.10" height="33.01" fill="#dfddfc"/>
<rect x="572.00" y="1082.97" width="24.80" height="33.01" fill="#dfddfc"/>
<rect x="596.80" y="1082.97" width="26.00" height="33.01" fill="#dfddfc"/>
<rect x="622.80" y="1082.97" width="26.10" height="33.01" fill="#dfddfc"/>
<rect x="648.90" y="1082.97" width="25.80" height="33.01" fill="#dfddfc"/>
<rect x="674.70" y="1082.97" width="25.90" height="33.01" fill="#dfddfc"/>
<rect x="700.60" y="1082.97" width="26.10" height="33.01" fill="#dfddfc"/>
<rect x="726.70" y="1082.97" width="26.00" height="33.01" fill="#dfddfc"/>
<rect x="752.70" y="1082.97" width="26.10" height="33.01" fill="#dfddfc"/>
<rect x="778.80" y="1082.97" width="25.90" height="33.01" fill="#dfddfc"/>
<rect x="804.70" y="1082.97" width="26.20" height="33.01" fill="#dfddfc"/>
<rect x="830.90" y="1082.97" width="26.10" height="33.01" fill="#dfddfc"/>
<rect x="866.20" y="1082.97" width="24.40" height="33.01" fill="#dfddfc"/>
<rect x="890.60" y="1082.97" width="25.90" height="33.01" fill="#ec4d50"/>
<rect x="916.50" y="1082.97" width="25.80" height="33.01" fill="#f49597"/>
<rect x="942.30" y="1082.97" width="26.20" height="33.01" fill="#ee5b5f"/>
<rect x="968.50" y="1082.97" width="25.80" height="33.01" fill="#f38c8e"/>
<rect x="994.30" y="1082.97" width="25.90" height="33.01" fill="#fdf1f1"/>
<rect x="1020.20" y="1082.97" width="26.00" height="33.01" fill="#f6adaf"/>
<rect x="1046.20" y="1082.97" width="25.90" height="33.01" fill="#ec4d50"/>
<rect x="1072.10" y="1082.97" width="26.10" height="33.01" fill="#fdf1f1"/>
<rect x="1098.20" y="1082.97" width="25.80" height="33.01" fill="#f6adaf"/>
<rect x="1124.00" y="1082.97" width="26.00" height="33.01" fill="#fce7e7"/>
<rect x="1150.00" y="1082.97" width="26.00" height="33.01" fill="#fdfdff"/>
<rect x="1185.00" y="1082.97" width="25.70" height="33.01" fill="#e1e0fd"/>
<rect x="1210.70" y="1082.97" width="25.80" height="33.01" fill="#dfddfc"/>
<rect x="1236.50" y="1082.97" width="26.00" height="33.01" fill="#e1e0fd"/>
<rect x="1262.50" y="1082.97" width="25.90" height="33.01" fill="#dfddfc"/>
<rect x="1288.40" y="1082.97" width="26.10" height="33.01" fill="#dfddfc"/>
<rect x="1314.50" y="1082.97" width="25.90" height="33.01" fill="#e1e0fd"/>
<rect x="1340.40" y="1082.97" width="26.00" height="33.01" fill="#e1e0fd"/>
<rect x="1366.40" y="1082.97" width="26.10" height="33.01" fill="#e3e2fd"/>
<rect x="1392.50" y="1082.97" width="25.90" height="33.01" fill="#e1e0fd"/>
<rect x="1418.40" y="1082.97" width="26.10" height="33.01" fill="#e8e7fd"/>
<rect x="225.90" y="1115.98" width="26.10" height="33.01" fill="#dfddfc"/>
<rect x="252.00" y="1115.98" width="25.70" height="33.01" fill="#dfddfc"/>
<rect x="277.70" y="1115.98" width="25.20" height="33.01" fill="#dfddfc"/>
<rect x="302.90" y="1115.98" width="25.70" height="33.01" fill="#dfddfc"/>
<rect x="328.60" y="1115.98" width="26.00" height="33.01" fill="#dfddfc"/>
<rect x="354.60" y="1115.98" width="26.00" height="33.01" fill="#dfddfc"/>
<rect x="380.60" y="1115.98" width="25.90" height="33.01" fill="#dfddfc"/>
<rect x="406.50" y="1115.98" width="26.10" height="33.01" fill="#dfddfc"/>
<rect x="432.60" y="1115.98" width="26.10" height="33.01" fill="#dfddfc"/>
<rect x="458.70" y="1115.98" width="25.90" height="33.01" fill="#dfddfc"/>
<rect x="484.60" y="1115.98" width="26.00" height="33.01" fill="#dfddfc"/>
<rect x="510.60" y="1115.98" width="26.00" height="33.01" fill="#dfddfc"/>
<rect x="545.90" y="1115.98" width="26.10" height="33.01" fill="#e1e0fd"/>
<rect x="572.00" y="1115.98" width="24.80" height="33.01" fill="#dcdbfc"/>
<rect x="596.80" y="1115.98" width="26.00" height="33.01" fill="#dfddfc"/>
<rect x="622.80" y="1115.98" width="26.10" height="33.01" fill="#e3e2fd"/>
<rect x="648.90" y="1115.98" width="25.80" height="33.01" fill="#dfddfc"/>
<rect x="674.70" y="1115.98" width="25.90" height="33.01" fill="#dfddfc"/>
<rect x="700.60" y="1115.98" width="26.10" height="33.01" fill="#dcdbfc"/>
<rect x="726.70" y="1115.98" width="26.00" height="33.01" fill="#dcdbfc"/>
<rect x="752.70" y="1115.98" width="26.10" height="33.01" fill="#dfddfc"/>
<rect x="778.80" y="1115.98" width="25.90" height="33.01" fill="#dcdbfc"/>
<rect x="804.70" y="1115.98" width="26.20" height="33.01" fill="#dfddfc"/>
<rect x="830.90" y="1115.98" width="26.10" height="33.01" fill="#dcdbfc"/>
<rect x="866.20" y="1115.98" width="24.40" height="33.01" fill="#f9c5c6"/>
<rect x="890.60" y="1115.98" width="25.90" height="33.01" fill="#fafaff"/>
<rect x="916.50" y="1115.98" width="25.80" height="33.01" fill="#f6a8aa"/>
<rect x="942.30" y="1115.98" width="26.20" height="33.01" fill="#ec484c"/>
<rect x="968.50" y="1115.98" width="25.80" height="33.01" fill="#f59fa1"/>
<rect x="994.30" y="1115.98" width="25.90" height="33.01" fill="#fce7e7"/>
<rect x="1020.20" y="1115.98" width="26.00" height="33.01" fill="#f9c5c6"/>
<rect x="1046.20" y="1115.98" width="25.90" height="33.01" fill="#e82226"/>
<rect x="1072.10" y="1115.98" width="26.10" height="33.01" fill="#f8c0c2"/>
<rect x="1098.20" y="1115.98" width="25.80" height="33.01" fill="#f7b7b8"/>
<rect x="1124.00" y="1115.98" width="26.00" height="33.01" fill="#f49597"/>
<rect x="1150.00" y="1115.98" width="26.00" height="33.01" fill="#fce7e7"/>
<rect x="1185.00" y="1115.98" width="25.70" height="33.01" fill="#dfddfc"/>
<rect x="1210.70" y="1115.98" width="25.80" height="33.01" fill="#dfddfc"/>
<rect x="1236.50" y="1115.98" width="26.00" height="33.01" fill="#e3e2fd"/>
<rect x="1262.50" y="1115.98" width="25.90" height="33.01" fill="#dfddfc"/>
<rect x="1288.40" y="1115.98" width="26.10" height="33.01" fill="#e1e0fd"/>
<rect x="1314.50" y="1115.98" width="25.90" height="33.01" fill="#e6e5fd"/>
<rect x="1340.40" y="1115.98" width="26.00" height="33.01" fill="#e3e2fd"/>
<rect x="1366.40" y="1115.98" width="26.10" height="33.01" fill="#e1e0fd"/>
<rect x="1392.50" y="1115.98" width="25.90" height="33.01" fill="#dfddfc"/>
<rect x="1418.40" y="1115.98" width="26.10" height="33.01" fill="#edecfd"/>
<rect x="225.90" y="1148.99" width="26.10" height="33.01" fill="#dcdbfc"/>
<rect x="252.00" y="1148.99" width="25.70" height="33.01" fill="#d3d1fb"/>
<rect x="277.70" y="1148.99" width="25.20" height="33.01" fill="#d5d4fc"/>
<rect x="302.90" y="1148.99" width="25.70" height="33.01" fill="#d5d4fc"/>
<rect x="328.60" y="1148.99" width="26.00" height="33.01" fill="#e3e2fd"/>
<rect x="354.60" y="1148.99" width="26.00" height="33.01" fill="#e3e2fd"/>
<rect x="380.60" y="1148.99" width="25.90" height="33.01" fill="#dcdbfc"/>
<rect x="406.50" y="1148.99" width="26.10" height="33.01" fill="#d8d6fc"/>
<rect x="432.60" y="1148.99" width="26.10" height="33.01" fill="#fdfdff"/>
<rect x="458.70" y="1148.99" width="25.90" height="33.01" fill="#dad9fc"/>
<rect x="484.60" y="1148.99" width="26.00" height="33.01" fill="#d5d4fc"/>
<rect x="510.60" y="1148.99" width="26.00" height="33.01" fill="#d5d4fc"/>
<rect x="545.90" y="1148.99" width="26.10" height="33.01" fill="#e1e0fd"/>
<rect x="572.00" y="1148.99" width="24.80" height="33.01" fill="#d3d1fb"/>
<rect x="596.80" y="1148.99" width="26.00" height="33.01" fill="#d5d4fc"/>
<rect x="622.80" y="1148.99" width="26.10" height="33.01" fill="#d5d4fc"/>
<rect x="648.90" y="1148.99" width="25.80" height="33.01" fill="#dcdbfc"/>
<rect x="674.70" y="1148.99" width="25.90" height="33.01" fill="#d8d6fc"/>
<rect x="700.60" y="1148.99" width="26.10" height="33.01" fill="#edecfd"/>
<rect x="726.70" y="1148.99" width="26.00" height="33.01" fill="#dad9fc"/>
<rect x="752.70" y="1148.99" width="26.10" height="33.01" fill="#dad9fc"/>
<rect x="778.80" y="1148.99" width="25.90" height="33.01" fill="#dcdbfc"/>
<rect x="804.70" y="1148.99" width="26.20" height="33.01" fill="#e3e2fd"/>
<rect x="830.90" y="1148.99" width="26.10" height="33.01" fill="#dad9fc"/>
<rect x="866.20" y="1148.99" width="24.40" height="33.01" fill="#fbd9d9"/>
<rect x="890.60" y="1148.99" width="25.90" height="33.01" fill="#f9c5c6"/>
<rect x="916.50" y="1148.99" width="25.80" height="33.01" fill="#f8c0c2"/>
<rect x="942.30" y="1148.99" width="26.20" height="33.01" fill="#e93034"/>
<rect x="968.50" y="1148.99" width="25.80" height="33.01" fill="#f6a8aa"/>
<rect x="994.30" y="1148.99" width="25.90" height="33.01" fill="#f1787b"/>
<rect x="1020.20" y="1148.99" width="26.00" height="33.01" fill="#f06f71"/>
<rect x="1046.20" y="1148.99" width="25.90" height="33.01" fill="#f6a8aa"/>
<rect x="1072.10" y="1148.99" width="26.10" height="33.01" fill="#facfd0"/>
<rect x="1098.20" y="1148.99" width="25.80" height="33.01" fill="#f9c5c6"/>
<rect x="1124.00" y="1148.99" width="26.00" height="33.01" fill="#f59fa1"/>
<rect x="1150.00" y="1148.99" width="26.00" height="33.01" fill="#fce2e3"/>
<rect x="1185.00" y="1148.99" width="25.70" height="33.01" fill="#d1cffb"/>
<rect x="1210.70" y="1148.99" width="25.80" height="33.01" fill="#eae9fd"/>
<rect x="1236.50" y="1148.99" width="26.00" height="33.01" fill="#d8d6fc"/>
<rect x="1262.50" y="1148.99" width="25.90" height="33.01" fill="#efeefe"/>
<rect x="1288.40" y="1148.99" width="26.10" height="33.01" fill="#f6f5fe"/>
<rect x="1314.50" y="1148.99" width="25.90" height="33.01" fill="#e8e7fd"/>
<rect x="1340.40" y="1148.99" width="26.00" height="33.01" fill="#e6e5fd"/>
<rect x="1366.40" y="1148.99" width="26.10" height="33.01" fill="#fafaff"/>
<rect x="1392.50" y="1148.99" width="25.90" height="33.01" fill="#eae9fd"/>
<rect x="1418.40" y="1148.99" width="26.10" height="33.01" fill="#dad9fc"/>
<rect x="225.90" y="1182.00" width="26.10" height="33.01" fill="#d8d6fc"/>
<rect x="252.00" y="1182.00" width="25.70" height="33.01" fill="#d8d6fc"/>
<rect x="277.70" y="1182.00" width="25.20" height="33.01" fill="#dcdbfc"/>
<rect x="302.90" y="1182.00" width="25.70" height="33.01" fill="#e3e2fd"/>
<rect x="328.60" y="1182.00" width="26.00" height="33.01" fill="#dcdbfc"/>
<rect x="354.60" y="1182.00" width="26.00" height="33.01" fill="#d8d6fc"/>
<rect x="380.60" y="1182.00" width="25.90" height="33.01" fill="#d8d6fc"/>
<rect x="406.50" y="1182.00" width="26.10" height="33.01" fill="#d8d6fc"/>
<rect x="432.60" y="1182.00" width="26.10" height="33.01" fill="#d8d6fc"/>
<rect x="458.70" y="1182.00" width="25.90" height="33.01" fill="#d8d6fc"/>
<rect x="484.60" y="1182.00" width="26.00" height="33.01" fill="#dcdbfc"/>
<rect x="510.60" y="1182.00" width="26.00" height="33.01" fill="#d8d6fc"/>
<rect x="545.90" y="1182.00" width="26.10" height="33.01" fill="#d8d6fc"/>
<rect x="572.00" y="1182.00" width="24.80" height="33.01" fill="#eae9fd"/>
<rect x="596.80" y="1182.00" width="26.00" height="33.01" fill="#d8d6fc"/>
<rect x="622.80" y="1182.00" width="26.10" height="33.01" fill="#d8d6fc"/>
<rect x="648.90" y="1182.00" width="25.80" height="33.01" fill="#dad9fc"/>
<rect x="674.70" y="1182.00" width="25.90" height="33.01" fill="#dad9fc"/>
<rect x="700.60" y="1182.00" width="26.10" height="33.01" fill="#dad9fc"/>
<rect x="726.70" y="1182.00" width="26.00" height="33.01" fill="#dad9fc"/>
<rect x="752.70" y="1182.00" width="26.10" height="33.01" fill="#dad9fc"/>
<rect x="778.80" y="1182.00" width="25.90" height="33.01" fill="#d8d6fc"/>
<rect x="804.70" y="1182.00" width="26.20" height="33.01" fill="#eae9fd"/>
<rect x="830.90" y="1182.00" width="26.10" height="33.01" fill="#dad9fc"/>
<rect x="866.20" y="1182.00" width="24.40" height="33.01" fill="#fdf1f1"/>
<rect x="890.60" y="1182.00" width="25.90" height="33.01" fill="#f1787b"/>
<rect x="916.50" y="1182.00" width="25.80" height="33.01" fill="#f59fa1"/>
<rect x="942.30" y="1182.00" width="26.20" height="33.01" fill="#f06f71"/>
<rect x="968.50" y="1182.00" width="25.80" height="33.01" fill="#f5a4a5"/>
<rect x="994.30" y="1182.00" width="25.90" height="33.01" fill="#f6f5fe"/>
<rect x="1020.20" y="1182.00" width="26.00" height="33.01" fill="#f49597"/>
<rect x="1046.20" y="1182.00" width="25.90" height="33.01" fill="#fdf1f1"/>
<rect x="1072.10" y="1182.00" width="26.10" height="33.01" fill="#f7b2b4"/>
<rect x="1098.20" y="1182.00" width="25.80" height="33.01" fill="#facfd0"/>
<rect x="1124.00" y="1182.00" width="26.00" height="33.01" fill="#f59fa1"/>
<rect x="1150.00" y="1182.00" width="26.00" height="33.01" fill="#e8262b"/>
<rect x="1185.00" y="1182.00" width="25.70" height="33.01" fill="#e8e7fd"/>
<rect x="1210.70" y="1182.00" width="25.80" height="33.01" fill="#e8e7fd"/>
<rect x="1236.50" y="1182.00" width="26.00" height="33.01" fill="#ffffff"/>
<rect x="1262.50" y="1182.00" width="25.90" height="33.01" fill="#eae9fd"/>
<rect x="1288.40" y="1182.00" width="26.10" height="33.01" fill="#eae9fd"/>
<rect x="1314.50" y="1182.00" width="25.90" height="33.01" fill="#e6e5fd"/>
<rect x="1340.40" y="1182.00" width="26.00" height="33.01" fill="#f1f1fe"/>
<rect x="1366.40" y="1182.00" width="26.10" height="33.01" fill="#e6e5fd"/>
<rect x="1392.50" y="1182.00" width="25.90" height="33.01" fill="#e6e5fd"/>
<rect x="1418.40" y="1182.00" width="26.10" height="33.01" fill="#efeefe"/>
<rect x="225.90" y="1215.01" width="26.10" height="33.01" fill="#d5d4fc"/>
<rect x="252.00" y="1215.01" width="25.70" height="33.01" fill="#d5d4fc"/>
<rect x="277.70" y="1215.01" width="25.20" height="33.01" fill="#d5d4fc"/>
<rect x="302.90" y="1215.01" width="25.70" height="33.01" fill="#d5d4fc"/>
<rect x="328.60" y="1215.01" width="26.00" height="33.01" fill="#d5d4fc"/>
<rect x="354.60" y="1215.01" width="26.00" height="33.01" fill="#d5d4fc"/>
<rect x="380.60" y="1215.01" width="25.90" height="33.01" fill="#d5d4fc"/>
<rect x="406.50" y="1215.01" width="26.10" height="33.01" fill="#d5d4fc"/>
<rect x="432.60" y="1215.01" width="26.10" height="33.01" fill="#d5d4fc"/>
<rect x="458.70" y="1215.01" width="25.90" height="33.01" fill="#d5d4fc"/>
<rect x="484.60" y="1215.01" width="26.00" height="33.01" fill="#d5d4fc"/>
<rect x="510.60" y="1215.01" width="26.00" height="33.01" fill="#d5d4fc"/>
<rect x="545.90" y="1215.01" width="26.10" height="33.01" fill="#d5d4fc"/>
<rect x="572.00" y="1215.01" width="24.80" height="33.01" fill="#d5d4fc"/>
<rect x="596.80" y="1215.01" width="26.00" height="33.01" fill="#d5d4fc"/>
<rect x="622.80" y="1215.01" width="26.10" height="33.01" fill="#d5d4fc"/>
<rect x="648.90" y="1215.01" width="25.80" height="33.01" fill="#d5d4fc"/>
<rect x="674.70" y="1215.01" width="25.90" height="33.01" fill="#d5d4fc"/>
<rect x="700.60" y="1215.01" width="26.10" height="33.01" fill="#d5d4fc"/>
<rect x="726.70" y="1215.01" width="26.00" height="33.01" fill="#d5d4fc"/>
<rect x="752.70" y="1215.01" width="26.10" height="33.01" fill="#d5d4fc"/>
<rect x="778.80" y="1215.01" width="25.90" height="33.01" fill="#d5d4fc"/>
<rect x="804.70" y="1215.01" width="26.20" height="33.01" fill="#d5d4fc"/>
<rect x="830.90" y="1215.01" width="26.10" height="33.01" fill="#d5d4fc"/>
<rect x="866.20" y="1215.01" width="24.40" height="33.01" fill="#fbd9d9"/>
<rect x="890.60" y="1215.01" width="25.90" height="33.01" fill="#f28284"/>
<rect x="916.50" y="1215.01" width="25.80" height="33.01" fill="#facfd0"/>
<rect x="942.30" y="1215.01" width="26.20" height="33.01" fill="#f8c0c2"/>
<rect x="968.50" y="1215.01" width="25.80" height="33.01" fill="#fce7e7"/>
<rect x="994.30" y="1215.01" width="25.90" height="33.01" fill="#f28284"/>
<rect x="1020.20" y="1215.01" width="26.00" height="33.01" fill="#f59fa1"/>
<rect x="1046.20" y="1215.01" width="25.90" height="33.01" fill="#fad4d5"/>
<rect x="1072.10" y="1215.01" width="26.10" height="33.01" fill="#f39093"/>
<rect x="1098.20" y="1215.01" width="25.80" height="33.01" fill="#f8bcbd"/>
<rect x="1124.00" y="1215.01" width="26.00" height="33.01" fill="#ed575a"/>
<rect x="1150.00" y="1215.01" width="26.00" height="33.01" fill="#f1787b"/>
<rect x="1185.00" y="1215.01" width="25.70" height="33.01" fill="#d8d6fc"/>
<rect x="1210.70" y="1215.01" width="25.80" height="33.01" fill="#dad9fc"/>
<rect x="1236.50" y="1215.01" width="26.00" height="33.01" fill="#dad9fc"/>
<rect x="1262.50" y="1215.01" width="25.90" height="33.01" fill="#f3f3fe"/>
<rect x="1288.40" y="1215.01" width="26.10" height="33.01" fill="#f6f5fe"/>
<rect x="1314.50" y="1215.01" width="25.90" height="33.01" fill="#fbddde"/>
<rect x="1340.40" y="1215.01" width="26.00" height="33.01" fill="#e8e7fd"/>
<rect x="1366.40" y="1215.01" width="26.10" height="33.01" fill="#f6f5fe"/>
<rect x="1392.50" y="1215.01" width="25.90" height="33.01" fill="#e8e7fd"/>
<rect x="1418.40" y="1215.01" width="26.10" height="33.01" fill="#fefafa"/>
<rect x="225.90" y="1248.02" width="26.10" height="33.01" fill="#d5d4fc"/>
<rect x="252.00" y="1248.02" width="25.70" height="33.01" fill="#d5d4fc"/>
<rect x="277.70" y="1248.02" width="25.20" height="33.01" fill="#d1cffb"/>
<rect x="302.90" y="1248.02" width="25.70" height="33.01" fill="#d5d4fc"/>
<rect x="328.60" y="1248.02" width="26.00" height="33.01" fill="#d5d4fc"/>
<rect x="354.60" y="1248.02" width="26.00" height="33.01" fill="#d5d4fc"/>
<rect x="380.60" y="1248.02" width="25.90" height="33.01" fill="#d3d1fb"/>
<rect x="406.50" y="1248.02" width="26.10" height="33.01" fill="#d5d4fc"/>
<rect x="432.60" y="1248.02" width="26.10" height="33.01" fill="#d3d1fb"/>
<rect x="458.70" y="1248.02" width="25.90" height="33.01" fill="#d5d4fc"/>
<rect x="484.60" y="1248.02" width="26.00" height="33.01" fill="#d3d1fb"/>
<rect x="510.60" y="1248.02" width="26.00" height="33.01" fill="#d5d4fc"/>
<rect x="545.90" y="1248.02" width="26.10" height="33.01" fill="#d1cffb"/>
<rect x="572.00" y="1248.02" width="24.80" height="33.01" fill="#d3d1fb"/>
<rect x="596.80" y="1248.02" width="26.00" height="33.01" fill="#d1cffb"/>
<rect x="622.80" y="1248.02" width="26.10" height="33.01" fill="#d3d1fb"/>
<rect x="648.90" y="1248.02" width="25.80" height="33.01" fill="#d3d1fb"/>
<rect x="674.70" y="1248.02" width="25.90" height="33.01" fill="#d1cffb"/>
<rect x="700.60" y="1248.02" width="26.10" height="33.01" fill="#d3d1fb"/>
<rect x="726.70" y="1248.02" width="26.00" height="33.01" fill="#d1cffb"/>
<rect x="752.70" y="1248.02" width="26.10" height="33.01" fill="#d3d1fb"/>
<rect x="778.80" y="1248.02" width="25.90" height="33.01" fill="#d1cffb"/>
<rect x="804.70" y="1248.02" width="26.20" height="33.01" fill="#d3d1fb"/>
<rect x="830.90" y="1248.02" width="26.10" height="33.01" fill="#d1cffb"/>
<rect x="866.20" y="1248.02" width="24.40" height="33.01" fill="#f49597"/>
<rect x="890.60" y="1248.02" width="25.90" height="33.01" fill="#f07376"/>
<rect x="916.50" y="1248.02" width="25.80" height="33.01" fill="#f39093"/>
<rect x="942.30" y="1248.02" width="26.20" height="33.01" fill="#f6a8aa"/>
<rect x="968.50" y="1248.02" width="25.80" height="33.01" fill="#f9c5c6"/>
<rect x="994.30" y="1248.02" width="25.90" height="33.01" fill="#fad4d5"/>
<rect x="1020.20" y="1248.02" width="26.00" height="33.01" fill="#f49597"/>
<rect x="1046.20" y="1248.02" width="25.90" height="33.01" fill="#f59fa1"/>
<rect x="1072.10" y="1248.02" width="26.10" height="33.01" fill="#f6a8aa"/>
<rect x="1098.20" y="1248.02" width="25.80" height="33.01" fill="#f28284"/>
<rect x="1124.00" y="1248.02" width="26.00" height="33.01" fill="#f49597"/>
<rect x="1150.00" y="1248.02" width="26.00" height="33.01" fill="#f9c5c6"/>
<rect x="1185.00" y="1248.02" width="25.70" height="33.01" fill="#fafaff"/>
<rect x="1210.70" y="1248.02" width="25.80" height="33.01" fill="#e8e7fd"/>
<rect x="1236.50" y="1248.02" width="26.00" height="33.01" fill="#efeefe"/>
<rect x="1262.50" y="1248.02" width="25.90" height="33.01" fill="#f8f8fe"/>
<rect x="1288.40" y="1248.02" width="26.10" height="33.01" fill="#fafaff"/>
<rect x="1314.50" y="1248.02" width="25.90" height="33.01" fill="#fdf1f1"/>
<rect x="1340.40" y="1248.02" width="26.00" height="33.01" fill="#f1f1fe"/>
<rect x="1366.40" y="1248.02" width="26.10" height="33.01" fill="#efeefe"/>
<rect x="1392.50" y="1248.02" width="25.90" height="33.01" fill="#fefafa"/>
<rect x="1418.40" y="1248.02" width="26.10" height="33.01" fill="#e8e7fd"/>
<rect x="225.90" y="1281.03" width="26.10" height="33.01" fill="#d1cffb"/>
<rect x="252.00" y="1281.03" width="25.70" height="33.01" fill="#d3d1fb"/>
<rect x="277.70" y="1281.03" width="25.20" height="33.01" fill="#d3d1fb"/>
<rect x="302.90" y="1281.03" width="25.70" height="33.01" fill="#d3d1fb"/>
<rect x="328.60" y="1281.03" width="26.00" height="33.01" fill="#d3d1fb"/>
<rect x="354.60" y="1281.03" width="26.00" height="33.01" fill="#d1cffb"/>
<rect x="380.60" y="1281.03" width="25.90" height="33.01" fill="#d3d1fb"/>
<rect x="406.50" y="1281.03" width="26.10" height="33.01" fill="#d1cffb"/>
<rect x="432.60" y="1281.03" width="26.10" height="33.01" fill="#d3d1fb"/>
<rect x="458.70" y="1281.03" width="25.90" height="33.01" fill="#d3d1fb"/>
<rect x="484.60" y="1281.03" width="26.00" height="33.01" fill="#d1cffb"/>
<rect x="510.60" y="1281.03" width="26.00" height="33.01" fill="#d3d1fb"/>
<rect x="545.90" y="1281.03" width="26.10" height="33.01" fill="#d1cffb"/>
<rect x="572.00" y="1281.03" width="24.80" height="33.01" fill="#d3d1fb"/>
<rect x="596.80" y="1281.03" width="26.00" height="33.01" fill="#d5d4fc"/>
<rect x="622.80" y="1281.03" width="26.10" height="33.01" fill="#d3d1fb"/>
<rect x="648.90" y="1281.03" width="25.80" height="33.01" fill="#d1cffb"/>
<rect x="674.70" y="1281.03" width="25.90" height="33.01" fill="#d3d1fb"/>
<rect x="700.60" y="1281.03" width="26.10" height="33.01" fill="#d1cffb"/>
<rect x="726.70" y="1281.03" width="26.00" height="33.01" fill="#d3d1fb"/>
<rect x="752.70" y="1281.03" width="26.10" height="33.01" fill="#d1cffb"/>
<rect x="778.80" y="1281.03" width="25.90" height="33.01" fill="#d3d1fb"/>
<rect x="804.70" y="1281.03" width="26.20" height="33.01" fill="#d1cffb"/>
<rect x="830.90" y="1281.03" width="26.10" height="33.01" fill="#d3d1fb"/>
<rect x="866.20" y="1281.03" width="24.40" height="33.01" fill="#f39093"/>
<rect x="890.60" y="1281.03" width="25.90" height="33.01" fill="#f7b2b4"/>
<rect x="916.50" y="1281.03" width="25.80" height="33.01" fill="#f49a9c"/>
<rect x="942.30" y="1281.03" width="26.20" height="33.01" fill="#f49597"/>
<rect x="968.50" y="1281.03" width="25.80" height="33.01" fill="#fce7e7"/>
<rect x="994.30" y="1281.03" width="25.90" height="33.01" fill="#f9c5c6"/>
<rect x="1020.20" y="1281.03" width="26.00" height="33.01" fill="#f59fa1"/>
<rect x="1046.20" y="1281.03" width="25.90" height="33.01" fill="#f8bcbd"/>
<rect x="1072.10" y="1281.03" width="26.10" height="33.01" fill="#ef6a6d"/>
<rect x="1098.20" y="1281.03" width="25.80" height="33.01" fill="#f17d80"/>
<rect x="1124.00" y="1281.03" width="26.00" height="33.01" fill="#f49a9c"/>
<rect x="1150.00" y="1281.03" width="26.00" height="33.01" fill="#f5a4a5"/>
<rect x="1185.00" y="1281.03" width="25.70" height="33.01" fill="#efeefe"/>
<rect x="1210.70" y="1281.03" width="25.80" height="33.01" fill="#fafaff"/>
<rect x="1236.50" y="1281.03" width="26.00" height="33.01" fill="#fefafa"/>
<rect x="1262.50" y="1281.03" width="25.90" height="33.01" fill="#efeefe"/>
<rect x="1288.40" y="1281.03" width="26.10" height="33.01" fill="#ffffff"/>
<rect x="1314.50" y="1281.03" width="25.90" height="33.01" fill="#fefafa"/>
<rect x="1340.40" y="1281.03" width="26.00" height="33.01" fill="#f1f1fe"/>
<rect x="1366.40" y="1281.03" width="26.10" height="33.01" fill="#f3f3fe"/>
<rect x="1392.50" y="1281.03" width="25.90" height="33.01" fill="#fefafa"/>
<rect x="1418.40" y="1281.03" width="26.10" height="33.01" fill="#f6f5fe"/>
<rect x="225.90" y="1314.04" width="26.10" height="33.01" fill="#e6e5fd"/>
<rect x="252.00" y="1314.04" width="25.70" height="33.01" fill="#e3e2fd"/>
<rect x="277.70" y="1314.04" width="25.20" height="33.01" fill="#d8d6fc"/>
<rect x="302.90" y="1314.04" width="25.70" height="33.01" fill="#e6e5fd"/>
<rect x="328.60" y="1314.04" width="26.00" height="33.01" fill="#dad9fc"/>
<rect x="354.60" y="1314.04" width="26.00" height="33.01" fill="#d8d6fc"/>
<rect x="380.60" y="1314.04" width="25.90" height="33.01" fill="#fafaff"/>
<rect x="406.50" y="1314.04" width="26.10" height="33.01" fill="#e1e0fd"/>
<rect x="432.60" y="1314.04" width="26.10" height="33.01" fill="#d8d6fc"/>
<rect x="458.70" y="1314.04" width="25.90" height="33.01" fill="#dad9fc"/>
<rect x="484.60" y="1314.04" width="26.00" height="33.01" fill="#e3e2fd"/>
<rect x="510.60" y="1314.04" width="26.00" height="33.01" fill="#d5d4fc"/>
<rect x="545.90" y="1314.04" width="26.10" height="33.01" fill="#d5d4fc"/>
<rect x="572.00" y="1314.04" width="24.80" height="33.01" fill="#d8d6fc"/>
<rect x="596.80" y="1314.04" width="26.00" height="33.01" fill="#dad9fc"/>
<rect x="622.80" y="1314.04" width="26.10" height="33.01" fill="#e3e2fd"/>
<rect x="648.90" y="1314.04" width="25.80" height="33.01" fill="#d5d4fc"/>
<rect x="674.70" y="1314.04" width="25.90" height="33.01" fill="#d5d4fc"/>
<rect x="700.60" y="1314.04" width="26.10" height="33.01" fill="#d5d4fc"/>
<rect x="726.70" y="1314.04" width="26.00" height="33.01" fill="#d8d6fc"/>
<rect x="752.70" y="1314.04" width="26.10" height="33.01" fill="#d8d6fc"/>
<rect x="778.80" y="1314.04" width="25.90" height="33.01" fill="#d8d6fc"/>
<rect x="804.70" y="1314.04" width="26.20" height="33.01" fill="#d5d4fc"/>
<rect x="830.90" y="1314.04" width="26.10" height="33.01" fill="#dad9fc"/>
<rect x="866.20" y="1314.04" width="24.40" height="33.01" fill="#fce7e7"/>
<rect x="890.60" y="1314.04" width="25.90" height="33.01" fill="#ee5b5f"/>
<rect x="916.50" y="1314.04" width="25.80" height="33.01" fill="#f39093"/>
<rect x="942.30" y="1314.04" width="26.20" height="33.01" fill="#fdf1f1"/>
<rect x="968.50" y="1314.04" width="25.80" height="33.01" fill="#f17d80"/>
<rect x="994.30" y="1314.04" width="25.90" height="33.01" fill="#f9cacb"/>
<rect x="1020.20" y="1314.04" width="26.00" height="33.01" fill="#f06f71"/>
<rect x="1046.20" y="1314.04" width="25.90" height="33.01" fill="#f07376"/>
<rect x="1072.10" y="1314.04" width="26.10" height="33.01" fill="#f5a4a5"/>
<rect x="1098.20" y="1314.04" width="25.80" height="33.01" fill="#fdf1f1"/>
<rect x="1124.00" y="1314.04" width="26.00" height="33.01" fill="#f1787b"/>
<rect x="1150.00" y="1314.04" width="26.00" height="33.01" fill="#f1f1fe"/>
<rect x="1185.00" y="1314.04" width="25.70" height="33.01" fill="#dad9fc"/>
<rect x="1210.70" y="1314.04" width="25.80" height="33.01" fill="#fdfdff"/>
<rect x="1236.50" y="1314.04" width="26.00" height="33.01" fill="#dad9fc"/>
<rect x="1262.50" y="1314.04" width="25.90" height="33.01" fill="#fdf1f1"/>
<rect x="1288.40" y="1314.04" width="26.10" height="33.01" fill="#f1f1fe"/>
<rect x="1314.50" y="1314.04" width="25.90" height="33.01" fill="#dad9fc"/>
<rect x="1340.40" y="1314.04" width="26.00" height="33.01" fill="#dad9fc"/>
<rect x="1366.40" y="1314.04" width="26.10" height="33.01" fill="#dad9fc"/>
<rect x="1392.50" y="1314.04" width="25.90" height="33.01" fill="#e3e2fd"/>
<rect x="1418.40" y="1314.04" width="26.10" height="33.01" fill="#e3e2fd"/>
<rect x="225.90" y="1347.05" width="26.10" height="33.01" fill="#fafaff"/>
<rect x="252.00" y="1347.05" width="25.70" height="33.01" fill="#fdf1f1"/>
<rect x="277.70" y="1347.05" width="25.20" height="33.01" fill="#f6f5fe"/>
<rect x="302.90" y="1347.05" width="25.70" height="33.01" fill="#fdfdff"/>
<rect x="328.60" y="1347.05" width="26.00" height="33.01" fill="#ffffff"/>
<rect x="354.60" y="1347.05" width="26.00" height="33.01" fill="#f1f1fe"/>
<rect x="380.60" y="1347.05" width="25.90" height="33.01" fill="#fafaff"/>
<rect x="406.50" y="1347.05" width="26.10" height="33.01" fill="#e8e7fd"/>
<rect x="432.60" y="1347.05" width="26.10" height="33.01" fill="#e1e0fd"/>
<rect x="458.70" y="1347.05" width="25.90" height="33.01" fill="#e6e5fd"/>
<rect x="484.60" y="1347.05" width="26.00" height="33.01" fill="#e1e0fd"/>
<rect x="510.60" y="1347.05" width="26.00" height="33.01" fill="#e1e0fd"/>
<rect x="545.90" y="1347.05" width="26.10" height="33.01" fill="#dad9fc"/>
<rect x="572.00" y="1347.05" width="24.80" height="33.01" fill="#d5d4fc"/>
<rect x="596.80" y="1347.05" width="26.00" height="33.01" fill="#dcdbfc"/>
<rect x="622.80" y="1347.05" width="26.10" height="33.01" fill="#dcdbfc"/>
<rect x="648.90" y="1347.05" width="25.80" height="33.01" fill="#bebcfa"/>
<rect x="674.70" y="1347.05" width="25.90" height="33.01" fill="#ceccfb"/>
<rect x="700.60" y="1347.05" width="26.10" height="33.01" fill="#cac8fb"/>
<rect x="726.70" y="1347.05" width="26.00" height="33.01" fill="#d5d4fc"/>
<rect x="752.70" y="1347.05" width="26.10" height="33.01" fill="#d8d6fc"/>
<rect x="778.80" y="1347.05" width="25.90" height="33.01" fill="#e1e0fd"/>
<rect x="804.70" y="1347.05" width="26.20" height="33.01" fill="#d1cffb"/>
<rect x="830.90" y="1347.05" width="26.10" height="33.01" fill="#d1cffb"/>
<rect x="866.20" y="1347.05" width="24.40" height="33.01" fill="#f6adaf"/>
<rect x="890.60" y="1347.05" width="25.90" height="33.01" fill="#f59fa1"/>
<rect x="916.50" y="1347.05" width="25.80" height="33.01" fill="#f06f71"/>
<rect x="942.30" y="1347.05" width="26.20" height="33.01" fill="#f7b2b4"/>
<rect x="968.50" y="1347.05" width="25.80" height="33.01" fill="#f9cacb"/>
<rect x="994.30" y="1347.05" width="25.90" height="33.01" fill="#fbddde"/>
<rect x="1020.20" y="1347.05" width="26.00" height="33.01" fill="#f39093"/>
<rect x="1046.20" y="1347.05" width="25.90" height="33.01" fill="#f28284"/>
<rect x="1072.10" y="1347.05" width="26.10" height="33.01" fill="#f28789"/>
<rect x="1098.20" y="1347.05" width="25.80" height="33.01" fill="#f6a8aa"/>
<rect x="1124.00" y="1347.05" width="26.00" height="33.01" fill="#f28284"/>
<rect x="1150.00" y="1347.05" width="26.00" height="33.01" fill="#fbddde"/>
<rect x="1185.00" y="1347.05" width="25.70" height="33.01" fill="#f1f1fe"/>
<rect x="1210.70" y="1347.05" width="25.80" height="33.01" fill="#d1cffb"/>
<rect x="1236.50" y="1347.05" width="26.00" height="33.01" fill="#efeefe"/>
<rect x="1262.50" y="1347.05" width="25.90" height="33.01" fill="#c3c0fa"/>
<rect x="1288.40" y="1347.05" width="26.10" height="33.01" fill="#d5d4fc"/>
<rect x="1314.50" y="1347.05" width="25.90" height="33.01" fill="#bab7f9"/>
<rect x="1340.40" y="1347.05" width="26.00" height="33.01" fill="#c3c0fa"/>
<rect x="1366.40" y="1347.05" width="26.10" height="33.01" fill="#d5d4fc"/>
<rect x="1392.50" y="1347.05" width="25.90" height="33.01" fill="#dfddfc"/>
<rect x="1418.40" y="1347.05" width="26.10" height="33.01" fill="#cccafb"/>
<rect x="225.90" y="1380.06" width="26.10" height="33.01" fill="#dfddfc"/>
<rect x="252.00" y="1380.06" width="25.70" height="33.01" fill="#e6e5fd"/>
<rect x="277.70" y="1380.06" width="25.20" height="33.01" fill="#efeefe"/>
<rect x="302.90" y="1380.06" width="25.70" height="33.01" fill="#f6f5fe"/>
<rect x="328.60" y="1380.06" width="26.00" height="33.01" fill="#e8e7fd"/>
<rect x="354.60" y="1380.06" width="26.00" height="33.01" fill="#f1f1fe"/>
<rect x="380.60" y="1380.06" width="25.90" height="33.01" fill="#fdfdff"/>
<rect x="406.50" y="1380.06" width="26.10" height="33.01" fill="#dfddfc"/>
<rect x="432.60" y="1380.06" width="26.10" height="33.01" fill="#d3d1fb"/>
<rect x="458.70" y="1380.06" width="25.90" height="33.01" fill="#dcdbfc"/>
<rect x="484.60" y="1380.06" width="26.00" height="33.01" fill="#dcdbfc"/>
<rect x="510.60" y="1380.06" width="26.00" height="33.01" fill="#e8e7fd"/>
<rect x="545.90" y="1380.06" width="26.10" height="33.01" fill="#dad9fc"/>
<rect x="572.00" y="1380.06" width="24.80" height="33.01" fill="#d8d6fc"/>
<rect x="596.80" y="1380.06" width="26.00" height="33.01" fill="#d5d4fc"/>
<rect x="622.80" y="1380.06" width="26.10" height="33.01" fill="#d1cffb"/>
<rect x="648.90" y="1380.06" width="25.80" height="33.01" fill="#d5d4fc"/>
<rect x="674.70" y="1380.06" width="25.90" height="33.01" fill="#dad9fc"/>
<rect x="700.60" y="1380.06" width="26.10" height="33.01" fill="#e3e2fd"/>
<rect x="726.70" y="1380.06" width="26.00" height="33.01" fill="#dad9fc"/>
<rect x="752.70" y="1380.06" width="26.10" height="33.01" fill="#dad9fc"/>
<rect x="778.80" y="1380.06" width="25.90" height="33.01" fill="#d3d1fb"/>
<rect x="804.70" y="1380.06" width="26.20" height="33.01" fill="#d8d6fc"/>
<rect x="830.90" y="1380.06" width="26.10" height="33.01" fill="#d5d4fc"/>
<rect x="866.20" y="1380.06" width="24.40" height="33.01" fill="#f6adaf"/>
<rect x="890.60" y="1380.06" width="25.90" height="33.01" fill="#f49597"/>
<rect x="916.50" y="1380.06" width="25.80" height="33.01" fill="#f6a8aa"/>
<rect x="942.30" y="1380.06" width="26.20" height="33.01" fill="#f28284"/>
<rect x="968.50" y="1380.06" width="25.80" height="33.01" fill="#facfd0"/>
<rect x="994.30" y="1380.06" width="25.90" height="33.01" fill="#fce7e7"/>
<rect x="1020.20" y="1380.06" width="26.00" height="33.01" fill="#facfd0"/>
<rect x="1046.20" y="1380.06" width="25.90" height="33.01" fill="#f8c0c2"/>
<rect x="1072.10" y="1380.06" width="26.10" height="33.01" fill="#f28284"/>
<rect x="1098.20" y="1380.06" width="25.80" height="33.01" fill="#f38c8e"/>
<rect x="1124.00" y="1380.06" width="26.00" height="33.01" fill="#e93034"/>
<rect x="1150.00" y="1380.06" width="26.00" height="33.01" fill="#f5a4a5"/>
<rect x="1185.00" y="1380.06" width="25.70" height="33.01" fill="#e8e7fd"/>
<rect x="1210.70" y="1380.06" width="25.80" height="33.01" fill="#cccafb"/>
<rect x="1236.50" y="1380.06" width="26.00" height="33.01" fill="#d1cffb"/>
<rect x="1262.50" y="1380.06" width="25.90" height="33.01" fill="#c8c5fa"/>
<rect x="1288.40" y="1380.06" width="26.10" height="33.01" fill="#e8e7fd"/>
<rect x="1314.50" y="1380.06" width="25.90" height="33.01" fill="#d5d4fc"/>
<rect x="1340.40" y="1380.06" width="26.00" height="33.01" fill="#dad9fc"/>
<rect x="1366.40" y="1380.06" width="26.10" height="33.01" fill="#dfddfc"/>
<rect x="1392.50" y="1380.06" width="25.90" height="33.01" fill="#dad9fc"/>
<rect x="1418.40" y="1380.06" width="26.10" height="33.01" fill="#cccafb"/>
<rect x="225.90" y="1413.07" width="26.10" height="33.01" fill="#efeefe"/>
<rect x="252.00" y="1413.07" width="25.70" height="33.01" fill="#e8e7fd"/>
<rect x="277.70" y="1413.07" width="25.20" height="33.01" fill="#e6e5fd"/>
<rect x="302.90" y="1413.07" width="25.70" height="33.01" fill="#e6e5fd"/>
<rect x="328.60" y="1413.07" width="26.00" height="33.01" fill="#fce7e7"/>
<rect x="354.60" y="1413.07" width="26.00" height="33.01" fill="#fef3f3"/>
<rect x="380.60" y="1413.07" width="25.90" height="33.01" fill="#fce2e3"/>
<rect x="406.50" y="1413.07" width="26.10" height="33.01" fill="#fdf1f1"/>
<rect x="432.60" y="1413.07" width="26.10" height="33.01" fill="#e6e5fd"/>
<rect x="458.70" y="1413.07" width="25.90" height="33.01" fill="#e3e2fd"/>
<rect x="484.60" y="1413.07" width="26.00" height="33.01" fill="#edecfd"/>
<rect x="510.60" y="1413.07" width="26.00" height="33.01" fill="#eae9fd"/>
<rect x="545.90" y="1413.07" width="26.10" height="33.01" fill="#bcb9fa"/>
<rect x="572.00" y="1413.07" width="24.80" height="33.01" fill="#bebcfa"/>
<rect x="596.80" y="1413.07" width="26.00" height="33.01" fill="#c3c0fa"/>
<rect x="622.80" y="1413.07" width="26.10" height="33.01" fill="#c1befa"/>
<rect x="648.90" y="1413.07" width="25.80" height="33.01" fill="#e3e2fd"/>
<rect x="674.70" y="1413.07" width="25.90" height="33.01" fill="#dfddfc"/>
<rect x="700.60" y="1413.07" width="26.10" height="33.01" fill="#e1e0fd"/>
<rect x="726.70" y="1413.07" width="26.00" height="33.01" fill="#e6e5fd"/>
<rect x="752.70" y="1413.07" width="26.10" height="33.01" fill="#bab7f9"/>
<rect x="778.80" y="1413.07" width="25.90" height="33.01" fill="#bab7f9"/>
<rect x="804.70" y="1413.07" width="26.20" height="33.01" fill="#bebcfa"/>
<rect x="830.90" y="1413.07" width="26.10" height="33.01" fill="#bcb9fa"/>
<rect x="866.20" y="1413.07" width="24.40" height="33.01" fill="#f8c0c2"/>
<rect x="890.60" y="1413.07" width="25.90" height="33.01" fill="#f9cacb"/>
<rect x="916.50" y="1413.07" width="25.80" height="33.01" fill="#f8c0c2"/>
<rect x="942.30" y="1413.07" width="26.20" height="33.01" fill="#f6adaf"/>
<rect x="968.50" y="1413.07" width="25.80" height="33.01" fill="#f28789"/>
<rect x="994.30" y="1413.07" width="25.90" height="33.01" fill="#facfd0"/>
<rect x="1020.20" y="1413.07" width="26.00" height="33.01" fill="#f8c0c2"/>
<rect x="1046.20" y="1413.07" width="25.90" height="33.01" fill="#f9cacb"/>
<rect x="1072.10" y="1413.07" width="26.10" height="33.01" fill="#f39093"/>
<rect x="1098.20" y="1413.07" width="25.80" height="33.01" fill="#f49a9c"/>
<rect x="1124.00" y="1413.07" width="26.00" height="33.01" fill="#ec4d50"/>
<rect x="1150.00" y="1413.07" width="26.00" height="33.01" fill="#f39093"/>
<rect x="1185.00" y="1413.07" width="25.70" height="33.01" fill="#eae9fd"/>
<rect x="1210.70" y="1413.07" width="25.80" height="33.01" fill="#d1cffb"/>
<rect x="1236.50" y="1413.07" width="26.00" height="33.01" fill="#dfddfc"/>
<rect x="1262.50" y="1413.07" width="25.90" height="33.01" fill="#d5d4fc"/>
<rect x="1288.40" y="1413.07" width="26.10" height="33.01" fill="#dad9fc"/>
<rect x="1314.50" y="1413.07" width="25.90" height="33.01" fill="#dad9fc"/>
<rect x="1340.40" y="1413.07" width="26.00" height="33.01" fill="#d5d4fc"/>
<rect x="1366.40" y="1413.07" width="26.10" height="33.01" fill="#d1cffb"/>
<rect x="1392.50" y="1413.07" width="25.90" height="33.01" fill="#dad9fc"/>
<rect x="1418.40" y="1413.07" width="26.10" height="33.01" fill="#d5d4fc"/>
<rect x="225.90" y="1446.08" width="26.10" height="33.01" fill="#d1cffb"/>
<rect x="252.00" y="1446.08" width="25.70" height="33.01" fill="#d1cffb"/>
<rect x="277.70" y="1446.08" width="25.20" height="33.01" fill="#d3d1fb"/>
<rect x="302.90" y="1446.08" width="25.70" height="33.01" fill="#ceccfb"/>
<rect x="328.60" y="1446.08" width="26.00" height="33.01" fill="#d8d6fc"/>
<rect x="354.60" y="1446.08" width="26.00" height="33.01" fill="#dad9fc"/>
<rect x="380.60" y="1446.08" width="25.90" height="33.01" fill="#dad9fc"/>
<rect x="406.50" y="1446.08" width="26.10" height="33.01" fill="#dad9fc"/>
<rect x="432.60" y="1446.08" width="26.10" height="33.01" fill="#d3d1fb"/>
<rect x="458.70" y="1446.08" width="25.90" height="33.01" fill="#dad9fc"/>
<rect x="484.60" y="1446.08" width="26.00" height="33.01" fill="#d8d6fc"/>
<rect x="510.60" y="1446.08" width="26.00" height="33.01" fill="#d1cffb"/>
<rect x="545.90" y="1446.08" width="26.10" height="33.01" fill="#c8c5fa"/>
<rect x="572.00" y="1446.08" width="24.80" height="33.01" fill="#c5c3fa"/>
<rect x="596.80" y="1446.08" width="26.00" height="33.01" fill="#cac8fb"/>
<rect x="622.80" y="1446.08" width="26.10" height="33.01" fill="#cccafb"/>
<rect x="648.90" y="1446.08" width="25.80" height="33.01" fill="#e6e5fd"/>
<rect x="674.70" y="1446.08" width="25.90" height="33.01" fill="#d8d6fc"/>
<rect x="700.60" y="1446.08" width="26.10" height="33.01" fill="#e1e0fd"/>
<rect x="726.70" y="1446.08" width="26.00" height="33.01" fill="#d8d6fc"/>
<rect x="752.70" y="1446.08" width="26.10" height="33.01" fill="#cccafb"/>
<rect x="778.80" y="1446.08" width="25.90" height="33.01" fill="#cccafb"/>
<rect x="804.70" y="1446.08" width="26.20" height="33.01" fill="#d1cffb"/>
<rect x="830.90" y="1446.08" width="26.10" height="33.01" fill="#d1cffb"/>
<rect x="866.20" y="1446.08" width="24.40" height="33.01" fill="#fbd9d9"/>
<rect x="890.60" y="1446.08" width="25.90" height="33.01" fill="#f7b2b4"/>
<rect x="916.50" y="1446.08" width="25.80" height="33.01" fill="#f6adaf"/>
<rect x="942.30" y="1446.08" width="26.20" height="33.01" fill="#f39093"/>
<rect x="968.50" y="1446.08" width="25.80" height="33.01" fill="#f38c8e"/>
<rect x="994.30" y="1446.08" width="25.90" height="33.01" fill="#f59fa1"/>
<rect x="1020.20" y="1446.08" width="26.00" height="33.01" fill="#f59fa1"/>
<rect x="1046.20" y="1446.08" width="25.90" height="33.01" fill="#f39093"/>
<rect x="1072.10" y="1446.08" width="26.10" height="33.01" fill="#f39093"/>
<rect x="1098.20" y="1446.08" width="25.80" height="33.01" fill="#f8bcbd"/>
<rect x="1124.00" y="1446.08" width="26.00" height="33.01" fill="#f28284"/>
<rect x="1150.00" y="1446.08" width="26.00" height="33.01" fill="#f49a9c"/>
<rect x="1185.00" y="1446.08" width="25.70" height="33.01" fill="#f3f3fe"/>
<rect x="1210.70" y="1446.08" width="25.80" height="33.01" fill="#dad9fc"/>
<rect x="1236.50" y="1446.08" width="26.00" height="33.01" fill="#f1f1fe"/>
<rect x="1262.50" y="1446.08" width="25.90" height="33.01" fill="#f8f8fe"/>
<rect x="1288.40" y="1446.08" width="26.10" height="33.01" fill="#f1f1fe"/>
<rect x="1314.50" y="1446.08" width="25.90" height="33.01" fill="#fdf1f1"/>
<rect x="1340.40" y="1446.08" width="26.00" height="33.01" fill="#f1f1fe"/>
<rect x="1366.40" y="1446.08" width="26.10" height="33.01" fill="#f1f1fe"/>
<rect x="1392.50" y="1446.08" width="25.90" height="33.01" fill="#e8e7fd"/>
<rect x="1418.40" y="1446.08" width="26.10" height="33.01" fill="#f1f1fe"/>
<rect x="225.90" y="1479.09" width="26.10" height="33.01" fill="#dad9fc"/>
<rect x="252.00" y="1479.09" width="25.70" height="33.01" fill="#dad9fc"/>
<rect x="277.70" y="1479.09" width="25.20" height="33.01" fill="#d8d6fc"/>
<rect x="302.90" y="1479.09" width="25.70" height="33.01" fill="#d3d1fb"/>
<rect x="328.60" y="1479.09" width="26.00" height="33.01" fill="#dad9fc"/>
<rect x="354.60" y="1479.09" width="26.00" height="33.01" fill="#dcdbfc"/>
<rect x="380.60" y="1479.09" width="25.90" height="33.01" fill="#dcdbfc"/>
<rect x="406.50" y="1479.09" width="26.10" height="33.01" fill="#dad9fc"/>
<rect x="432.60" y="1479.09" width="26.10" height="33.01" fill="#d5d4fc"/>
<rect x="458.70" y="1479.09" width="25.90" height="33.01" fill="#d5d4fc"/>
<rect x="484.60" y="1479.09" width="26.00" height="33.01" fill="#d8d6fc"/>
<rect x="510.60" y="1479.09" width="26.00" height="33.01" fill="#d5d4fc"/>
<rect x="545.90" y="1479.09" width="26.10" height="33.01" fill="#d1cffb"/>
<rect x="572.00" y="1479.09" width="24.80" height="33.01" fill="#cac8fb"/>
<rect x="596.80" y="1479.09" width="26.00" height="33.01" fill="#ceccfb"/>
<rect x="622.80" y="1479.09" width="26.10" height="33.01" fill="#ceccfb"/>
<rect x="648.90" y="1479.09" width="25.80" height="33.01" fill="#cccafb"/>
<rect x="674.70" y="1479.09" width="25.90" height="33.01" fill="#ceccfb"/>
<rect x="700.60" y="1479.09" width="26.10" height="33.01" fill="#d1cffb"/>
<rect x="726.70" y="1479.09" width="26.00" height="33.01" fill="#ceccfb"/>
<rect x="752.70" y="1479.09" width="26.10" height="33.01" fill="#cccafb"/>
<rect x="778.80" y="1479.09" width="25.90" height="33.01" fill="#cac8fb"/>
<rect x="804.70" y="1479.09" width="26.20" height="33.01" fill="#cccafb"/>
<rect x="830.90" y="1479.09" width="26.10" height="33.01" fill="#cccafb"/>
<rect x="866.20" y="1479.09" width="24.40" height="33.01" fill="#f17d80"/>
<rect x="890.60" y="1479.09" width="25.90" height="33.01" fill="#f6a8aa"/>
<rect x="916.50" y="1479.09" width="25.80" height="33.01" fill="#f8bcbd"/>
<rect x="942.30" y="1479.09" width="26.20" height="33.01" fill="#f28789"/>
<rect x="968.50" y="1479.09" width="25.80" height="33.01" fill="#f28789"/>
<rect x="994.30" y="1479.09" width="25.90" height="33.01" fill="#f7b7b8"/>
<rect x="1020.20" y="1479.09" width="26.00" height="33.01" fill="#f39093"/>
<rect x="1046.20" y="1479.09" width="25.90" height="33.01" fill="#f49a9c"/>
<rect x="1072.10" y="1479.09" width="26.10" height="33.01" fill="#f39093"/>
<rect x="1098.20" y="1479.09" width="25.80" height="33.01" fill="#f38c8e"/>
<rect x="1124.00" y="1479.09" width="26.00" height="33.01" fill="#f39093"/>
<rect x="1150.00" y="1479.09" width="26.00" height="33.01" fill="#f7b2b4"/>
<rect x="1185.00" y="1479.09" width="25.70" height="33.01" fill="#fef5f6"/>
<rect x="1210.70" y="1479.09" width="25.80" height="33.01" fill="#e8e7fd"/>
<rect x="1236.50" y="1479.09" width="26.00" height="33.01" fill="#f3f3fe"/>
<rect x="1262.50" y="1479.09" width="25.90" height="33.01" fill="#f6f5fe"/>
<rect x="1288.40" y="1479.09" width="26.10" height="33.01" fill="#eae9fd"/>
<rect x="1314.50" y="1479.09" width="25.90" height="33.01" fill="#fffefe"/>
<rect x="1340.40" y="1479.09" width="26.00" height="33.01" fill="#f1f1fe"/>
<rect x="1366.40" y="1479.09" width="26.10" height="33.01" fill="#e6e5fd"/>
<rect x="1392.50" y="1479.09" width="25.90" height="33.01" fill="#f1f1fe"/>
<rect x="1418.40" y="1479.09" width="26.10" height="33.01" fill="#efeefe"/>
<rect x="225.90" y="1512.10" width="26.10" height="33.01" fill="#d1cffb"/>
<rect x="252.00" y="1512.10" width="25.70" height="33.01" fill="#d5d4fc"/>
<rect x="277.70" y="1512.10" width="25.20" height="33.01" fill="#d5d4fc"/>
<rect x="302.90" y="1512.10" width="25.70" height="33.01" fill="#d5d4fc"/>
<rect x="328.60" y="1512.10" width="26.00" height="33.01" fill="#d1cffb"/>
<rect x="354.60" y="1512.10" width="26.00" height="33.01" fill="#d1cffb"/>
<rect x="380.60" y="1512.10" width="25.90" height="33.01" fill="#d3d1fb"/>
<rect x="406.50" y="1512.10" width="26.10" height="33.01" fill="#d3d1fb"/>
<rect x="432.60" y="1512.10" width="26.10" height="33.01" fill="#d5d4fc"/>
<rect x="458.70" y="1512.10" width="25.90" height="33.01" fill="#d1cffb"/>
<rect x="484.60" y="1512.10" width="26.00" height="33.01" fill="#d3d1fb"/>
<rect x="510.60" y="1512.10" width="26.00" height="33.01" fill="#d1cffb"/>
<rect x="545.90" y="1512.10" width="26.10" height="33.01" fill="#d5d4fc"/>
<rect x="572.00" y="1512.10" width="24.80" height="33.01" fill="#d3d1fb"/>
<rect x="596.80" y="1512.10" width="26.00" height="33.01" fill="#d3d1fb"/>
<rect x="622.80" y="1512.10" width="26.10" height="33.01" fill="#ceccfb"/>
<rect x="648.90" y="1512.10" width="25.80" height="33.01" fill="#ceccfb"/>
<rect x="674.70" y="1512.10" width="25.90" height="33.01" fill="#ceccfb"/>
<rect x="700.60" y="1512.10" width="26.10" height="33.01" fill="#ceccfb"/>
<rect x="726.70" y="1512.10" width="26.00" height="33.01" fill="#d1cffb"/>
<rect x="752.70" y="1512.10" width="26.10" height="33.01" fill="#ceccfb"/>
<rect x="778.80" y="1512.10" width="25.90" height="33.01" fill="#ceccfb"/>
<rect x="804.70" y="1512.10" width="26.20" height="33.01" fill="#cccafb"/>
<rect x="830.90" y="1512.10" width="26.10" height="33.01" fill="#ceccfb"/>
<rect x="866.20" y="1512.10" width="24.40" height="33.01" fill="#f7b7b8"/>
<rect x="890.60" y="1512.10" width="25.90" height="33.01" fill="#f6a8aa"/>
<rect x="916.50" y="1512.10" width="25.80" height="33.01" fill="#f49a9c"/>
<rect x="942.30" y="1512.10" width="26.20" height="33.01" fill="#f6a8aa"/>
<rect x="968.50" y="1512.10" width="25.80" height="33.01" fill="#f49597"/>
<rect x="994.30" y="1512.10" width="25.90" height="33.01" fill="#f7b2b4"/>
<rect x="1020.20" y="1512.10" width="26.00" height="33.01" fill="#f28284"/>
<rect x="1046.20" y="1512.10" width="25.90" height="33.01" fill="#f1787b"/>
<rect x="1072.10" y="1512.10" width="26.10" height="33.01" fill="#f39093"/>
<rect x="1098.20" y="1512.10" width="25.80" height="33.01" fill="#f38c8e"/>
<rect x="1124.00" y="1512.10" width="26.00" height="33.01" fill="#f38c8e"/>
<rect x="1150.00" y="1512.10" width="26.00" height="33.01" fill="#facfd0"/>
<rect x="1185.00" y="1512.10" width="25.70" height="33.01" fill="#fffdfd"/>
<rect x="1210.70" y="1512.10" width="25.80" height="33.01" fill="#edecfd"/>
<rect x="1236.50" y="1512.10" width="26.00" height="33.01" fill="#fafaff"/>
<rect x="1262.50" y="1512.10" width="25.90" height="33.01" fill="#eae9fd"/>
<rect x="1288.40" y="1512.10" width="26.10" height="33.01" fill="#f8f8fe"/>
<rect x="1314.50" y="1512.10" width="25.90" height="33.01" fill="#fef5f6"/>
<rect x="1340.40" y="1512.10" width="26.00" height="33.01" fill="#ffffff"/>
<rect x="1366.40" y="1512.10" width="26.10" height="33.01" fill="#f6f5fe"/>
<rect x="1392.50" y="1512.10" width="25.90" height="33.01" fill="#fdeeee"/>
<rect x="1418.40" y="1512.10" width="26.10" height="33.01" fill="#efeefe"/>
<rect x="225.90" y="1545.11" width="26.10" height="33.01" fill="#d5d4fc"/>
<rect x="252.00" y="1545.11" width="25.70" height="33.01" fill="#d5d4fc"/>
<rect x="277.70" y="1545.11" width="25.20" height="33.01" fill="#d3d1fb"/>
<rect x="302.90" y="1545.11" width="25.70" height="33.01" fill="#d8d6fc"/>
<rect x="328.60" y="1545.11" width="26.00" height="33.01" fill="#d8d6fc"/>
<rect x="354.60" y="1545.11" width="26.00" height="33.01" fill="#dad9fc"/>
<rect x="380.60" y="1545.11" width="25.90" height="33.01" fill="#dad9fc"/>
<rect x="406.50" y="1545.11" width="26.10" height="33.01" fill="#dad9fc"/>
<rect x="432.60" y="1545.11" width="26.10" height="33.01" fill="#d3d1fb"/>
<rect x="458.70" y="1545.11" width="25.90" height="33.01" fill="#d3d1fb"/>
<rect x="484.60" y="1545.11" width="26.00" height="33.01" fill="#d3d1fb"/>
<rect x="510.60" y="1545.11" width="26.00" height="33.01" fill="#d5d4fc"/>
<rect x="545.90" y="1545.11" width="26.10" height="33.01" fill="#cccafb"/>
<rect x="572.00" y="1545.11" width="24.80" height="33.01" fill="#cac8fb"/>
<rect x="596.80" y="1545.11" width="26.00" height="33.01" fill="#ceccfb"/>
<rect x="622.80" y="1545.11" width="26.10" height="33.01" fill="#cccafb"/>
<rect x="648.90" y="1545.11" width="25.80" height="33.01" fill="#d3d1fb"/>
<rect x="674.70" y="1545.11" width="25.90" height="33.01" fill="#d5d4fc"/>
<rect x="700.60" y="1545.11" width="26.10" height="33.01" fill="#d5d4fc"/>
<rect x="726.70" y="1545.11" width="26.00" height="33.01" fill="#d3d1fb"/>
<rect x="752.70" y="1545.11" width="26.10" height="33.01" fill="#d1cffb"/>
<rect x="778.80" y="1545.11" width="25.90" height="33.01" fill="#cccafb"/>
<rect x="804.70" y="1545.11" width="26.20" height="33.01" fill="#d1cffb"/>
<rect x="830.90" y="1545.11" width="26.10" height="33.01" fill="#d1cffb"/>
<rect x="866.20" y="1545.11" width="24.40" height="33.01" fill="#f8c0c2"/>
<rect x="890.60" y="1545.11" width="25.90" height="33.01" fill="#f9c5c6"/>
<rect x="916.50" y="1545.11" width="25.80" height="33.01" fill="#f49a9c"/>
<rect x="942.30" y="1545.11" width="26.20" height="33.01" fill="#f59fa1"/>
<rect x="968.50" y="1545.11" width="25.80" height="33.01" fill="#f28789"/>
<rect x="994.30" y="1545.11" width="25.90" height="33.01" fill="#f9c5c6"/>
<rect x="1020.20" y="1545.11" width="26.00" height="33.01" fill="#f59fa1"/>
<rect x="1046.20" y="1545.11" width="25.90" height="33.01" fill="#f39093"/>
<rect x="1072.10" y="1545.11" width="26.10" height="33.01" fill="#f38c8e"/>
<rect x="1098.20" y="1545.11" width="25.80" height="33.01" fill="#f28789"/>
<rect x="1124.00" y="1545.11" width="26.00" height="33.01" fill="#ef6a6d"/>
<rect x="1150.00" y="1545.11" width="26.00" height="33.01" fill="#f8bcbd"/>
<rect x="1185.00" y="1545.11" width="25.70" height="33.01" fill="#fef5f6"/>
<rect x="1210.70" y="1545.11" width="25.80" height="33.01" fill="#fafaff"/>
<rect x="1236.50" y="1545.11" width="26.00" height="33.01" fill="#f1f1fe"/>
<rect x="1262.50" y="1545.11" width="25.90" height="33.01" fill="#fffefe"/>
<rect x="1288.40" y="1545.11" width="26.10" height="33.01" fill="#fef8f8"/>
<rect x="1314.50" y="1545.11" width="25.90" height="33.01" fill="#fffdfd"/>
<rect x="1340.40" y="1545.11" width="26.00" height="33.01" fill="#efeefe"/>
<rect x="1366.40" y="1545.11" width="26.10" height="33.01" fill="#efeefe"/>
<rect x="1392.50" y="1545.11" width="25.90" height="33.01" fill="#fafaff"/>
<rect x="1418.40" y="1545.11" width="26.10" height="33.01" fill="#efeefe"/>
<rect x="225.90" y="1578.12" width="26.10" height="33.01" fill="#dad9fc"/>
<rect x="252.00" y="1578.12" width="25.70" height="33.01" fill="#d1cffb"/>
<rect x="277.70" y="1578.12" width="25.20" height="33.01" fill="#e8e7fd"/>
<rect x="302.90" y="1578.12" width="25.70" height="33.01" fill="#dad9fc"/>
<rect x="328.60" y="1578.12" width="26.00" height="33.01" fill="#d1cffb"/>
<rect x="354.60" y="1578.12" width="26.00" height="33.01" fill="#d1cffb"/>
<rect x="380.60" y="1578.12" width="25.90" height="33.01" fill="#d5d4fc"/>
<rect x="406.50" y="1578.12" width="26.10" height="33.01" fill="#d1cffb"/>
<rect x="432.60" y="1578.12" width="26.10" height="33.01" fill="#e8e7fd"/>
<rect x="458.70" y="1578.12" width="25.90" height="33.01" fill="#dad9fc"/>
<rect x="484.60" y="1578.12" width="26.00" height="33.01" fill="#dad9fc"/>
<rect x="510.60" y="1578.12" width="26.00" height="33.01" fill="#d5d4fc"/>
<rect x="545.90" y="1578.12" width="26.10" height="33.01" fill="#c8c5fa"/>
<rect x="572.00" y="1578.12" width="24.80" height="33.01" fill="#dad9fc"/>
<rect x="596.80" y="1578.12" width="26.00" height="33.01" fill="#e6e5fd"/>
<rect x="622.80" y="1578.12" width="26.10" height="33.01" fill="#e3e2fd"/>
<rect x="648.90" y="1578.12" width="25.80" height="33.01" fill="#ceccfb"/>
<rect x="674.70" y="1578.12" width="25.90" height="33.01" fill="#ceccfb"/>
<rect x="700.60" y="1578.12" width="26.10" height="33.01" fill="#d8d6fc"/>
<rect x="726.70" y="1578.12" width="26.00" height="33.01" fill="#dad9fc"/>
<rect x="752.70" y="1578.12" width="26.10" height="33.01" fill="#d5d4fc"/>
<rect x="778.80" y="1578.12" width="25.90" height="33.01" fill="#dfddfc"/>
<rect x="804.70" y="1578.12" width="26.20" height="33.01" fill="#d1cffb"/>
<rect x="830.90" y="1578.12" width="26.10" height="33.01" fill="#c8c5fa"/>
<rect x="866.20" y="1578.12" width="24.40" height="33.01" fill="#f8bcbd"/>
<rect x="890.60" y="1578.12" width="25.90" height="33.01" fill="#f1787b"/>
<rect x="916.50" y="1578.12" width="25.80" height="33.01" fill="#f07376"/>
<rect x="942.30" y="1578.12" width="26.20" height="33.01" fill="#f5a4a5"/>
<rect x="968.50" y="1578.12" width="25.80" height="33.01" fill="#f28789"/>
<rect x="994.30" y="1578.12" width="25.90" height="33.01" fill="#f6adaf"/>
<rect x="1020.20" y="1578.12" width="26.00" height="33.01" fill="#f28284"/>
<rect x="1046.20" y="1578.12" width="25.90" height="33.01" fill="#f5a4a5"/>
<rect x="1072.10" y="1578.12" width="26.10" height="33.01" fill="#f6adaf"/>
<rect x="1098.20" y="1578.12" width="25.80" height="33.01" fill="#f59fa1"/>
<rect x="1124.00" y="1578.12" width="26.00" height="33.01" fill="#f6adaf"/>
<rect x="1150.00" y="1578.12" width="26.00" height="33.01" fill="#f7b7b8"/>
<rect x="1185.00" y="1578.12" width="25.70" height="33.01" fill="#fafaff"/>
<rect x="1210.70" y="1578.12" width="25.80" height="33.01" fill="#dad9fc"/>
<rect x="1236.50" y="1578.12" width="26.00" height="33.01" fill="#dad9fc"/>
<rect x="1262.50" y="1578.12" width="25.90" height="33.01" fill="#d1cffb"/>
<rect x="1288.40" y="1578.12" width="26.10" height="33.01" fill="#fffdfd"/>
<rect x="1314.50" y="1578.12" width="25.90" height="33.01" fill="#f1f1fe"/>
<rect x="1340.40" y="1578.12" width="26.00" height="33.01" fill="#fdfdff"/>
<rect x="1366.40" y="1578.12" width="26.10" height="33.01" fill="#e3e2fd"/>
<rect x="1392.50" y="1578.12" width="25.90" height="33.01" fill="#e8e7fd"/>
<rect x="1418.40" y="1578.12" width="26.10" height="33.01" fill="#e8e7fd"/>
<rect x="225.90" y="1611.13" width="26.10" height="33.01" fill="#d8d6fc"/>
<rect x="252.00" y="1611.13" width="25.70" height="33.01" fill="#d8d6fc"/>
<rect x="277.70" y="1611.13" width="25.20" height="33.01" fill="#d8d6fc"/>
<rect x="302.90" y="1611.13" width="25.70" height="33.01" fill="#d8d6fc"/>
<rect x="328.60" y="1611.13" width="26.00" height="33.01" fill="#d8d6fc"/>
<rect x="354.60" y="1611.13" width="26.00" height="33.01" fill="#d8d6fc"/>
<rect x="380.60" y="1611.13" width="25.90" height="33.01" fill="#d8d6fc"/>
<rect x="406.50" y="1611.13" width="26.10" height="33.01" fill="#d8d6fc"/>
<rect x="432.60" y="1611.13" width="26.10" height="33.01" fill="#d8d6fc"/>
<rect x="458.70" y="1611.13" width="25.90" height="33.01" fill="#d8d6fc"/>
<rect x="484.60" y="1611.13" width="26.00" height="33.01" fill="#d8d6fc"/>
<rect x="510.60" y="1611.13" width="26.00" height="33.01" fill="#d8d6fc"/>
<rect x="545.90" y="1611.13" width="26.10" height="33.01" fill="#d8d6fc"/>
<rect x="572.00" y="1611.13" width="24.80" height="33.01" fill="#d5d4fc"/>
<rect x="596.80" y="1611.13" width="26.00" height="33.01" fill="#d8d6fc"/>
<rect x="622.80" y="1611.13" width="26.10" height="33.01" fill="#d8d6fc"/>
<rect x="648.90" y="1611.13" width="25.80" height="33.01" fill="#d5d4fc"/>
<rect x="674.70" y="1611.13" width="25.90" height="33.01" fill="#d8d6fc"/>
<rect x="700.60" y="1611.13" width="26.10" height="33.01" fill="#d8d6fc"/>
<rect x="726.70" y="1611.13" width="26.00" height="33.01" fill="#d8d6fc"/>
<rect x="752.70" y="1611.13" width="26.10" height="33.01" fill="#d8d6fc"/>
<rect x="778.80" y="1611.13" width="25.90" height="33.01" fill="#d8d6fc"/>
<rect x="804.70" y="1611.13" width="26.20" height="33.01" fill="#d8d6fc"/>
<rect x="830.90" y="1611.13" width="26.10" height="33.01" fill="#d8d6fc"/>
<rect x="866.20" y="1611.13" width="24.40" height="33.01" fill="#fbd9d9"/>
<rect x="890.60" y="1611.13" width="25.90" height="33.01" fill="#f8bcbd"/>
<rect x="916.50" y="1611.13" width="25.80" height="33.01" fill="#f38c8e"/>
<rect x="942.30" y="1611.13" width="26.20" height="33.01" fill="#f7b7b8"/>
<rect x="968.50" y="1611.13" width="25.80" height="33.01" fill="#ee5b5f"/>
<rect x="994.30" y="1611.13" width="25.90" height="33.01" fill="#f49a9c"/>
<rect x="1020.20" y="1611.13" width="26.00" height="33.01" fill="#f39093"/>
<rect x="1046.20" y="1611.13" width="25.90" height="33.01" fill="#f38c8e"/>
<rect x="1072.10" y="1611.13" width="26.10" height="33.01" fill="#f38c8e"/>
<rect x="1098.20" y="1611.13" width="25.80" height="33.01" fill="#f1787b"/>
<rect x="1124.00" y="1611.13" width="26.00" height="33.01" fill="#f8bcbd"/>
<rect x="1150.00" y="1611.13" width="26.00" height="33.01" fill="#fefafa"/>
<rect x="1185.00" y="1611.13" width="25.70" height="33.01" fill="#e8e7fd"/>
<rect x="1210.70" y="1611.13" width="25.80" height="33.01" fill="#f6f5fe"/>
<rect x="1236.50" y="1611.13" width="26.00" height="33.01" fill="#f8f8fe"/>
<rect x="1262.50" y="1611.13" width="25.90" height="33.01" fill="#f3f3fe"/>
<rect x="1288.40" y="1611.13" width="26.10" height="33.01" fill="#edecfd"/>
<rect x="1314.50" y="1611.13" width="25.90" height="33.01" fill="#efeefe"/>
<rect x="1340.40" y="1611.13" width="26.00" height="33.01" fill="#fafaff"/>
<rect x="1366.40" y="1611.13" width="26.10" height="33.01" fill="#efeefe"/>
<rect x="1392.50" y="1611.13" width="25.90" height="33.01" fill="#efeefe"/>
<rect x="1418.40" y="1611.13" width="26.10" height="33.01" fill="#fdfdff"/>
<rect x="225.90" y="1644.14" width="26.10" height="33.01" fill="#d8d6fc"/>
<rect x="252.00" y="1644.14" width="25.70" height="33.01" fill="#cac8fb"/>
<rect x="277.70" y="1644.14" width="25.20" height="33.01" fill="#d1cffb"/>
<rect x="302.90" y="1644.14" width="25.70" height="33.01" fill="#cccafb"/>
<rect x="328.60" y="1644.14" width="26.00" height="33.01" fill="#dad9fc"/>
<rect x="354.60" y="1644.14" width="26.00" height="33.01" fill="#d8d6fc"/>
<rect x="380.60" y="1644.14" width="25.90" height="33.01" fill="#d8d6fc"/>
<rect x="406.50" y="1644.14" width="26.10" height="33.01" fill="#d5d4fc"/>
<rect x="432.60" y="1644.14" width="26.10" height="33.01" fill="#d8d6fc"/>
<rect x="458.70" y="1644.14" width="25.90" height="33.01" fill="#d8d6fc"/>
<rect x="484.60" y="1644.14" width="26.00" height="33.01" fill="#d8d6fc"/>
<rect x="510.60" y="1644.14" width="26.00" height="33.01" fill="#d5d4fc"/>
<rect x="545.90" y="1644.14" width="26.10" height="33.01" fill="#e3e2fd"/>
<rect x="572.00" y="1644.14" width="24.80" height="33.01" fill="#e3e2fd"/>
<rect x="596.80" y="1644.14" width="26.00" height="33.01" fill="#e1e0fd"/>
<rect x="622.80" y="1644.14" width="26.10" height="33.01" fill="#e3e2fd"/>
<rect x="648.90" y="1644.14" width="25.80" height="33.01" fill="#d5d4fc"/>
<rect x="674.70" y="1644.14" width="25.90" height="33.01" fill="#d5d4fc"/>
<rect x="700.60" y="1644.14" width="26.10" height="33.01" fill="#d5d4fc"/>
<rect x="726.70" y="1644.14" width="26.00" height="33.01" fill="#d8d6fc"/>
<rect x="752.70" y="1644.14" width="26.10" height="33.01" fill="#f6f5fe"/>
<rect x="778.80" y="1644.14" width="25.90" height="33.01" fill="#efeefe"/>
<rect x="804.70" y="1644.14" width="26.20" height="33.01" fill="#fdfdff"/>
<rect x="830.90" y="1644.14" width="26.10" height="33.01" fill="#f1f1fe"/>
<rect x="866.20" y="1644.14" width="24.40" height="33.01" fill="#f6adaf"/>
<rect x="890.60" y="1644.14" width="25.90" height="33.01" fill="#f8bcbd"/>
<rect x="916.50" y="1644.14" width="25.80" height="33.01" fill="#f6a8aa"/>
<rect x="942.30" y="1644.14" width="26.20" height="33.01" fill="#f49a9c"/>
<rect x="968.50" y="1644.14" width="25.80" height="33.01" fill="#f6a8aa"/>
<rect x="994.30" y="1644.14" width="25.90" height="33.01" fill="#f6adaf"/>
<rect x="1020.20" y="1644.14" width="26.00" height="33.01" fill="#f28789"/>
<rect x="1046.20" y="1644.14" width="25.90" height="33.01" fill="#f07376"/>
<rect x="1072.10" y="1644.14" width="26.10" height="33.01" fill="#f59fa1"/>
<rect x="1098.20" y="1644.14" width="25.80" height="33.01" fill="#f6a8aa"/>
<rect x="1124.00" y="1644.14" width="26.00" height="33.01" fill="#ed575a"/>
<rect x="1150.00" y="1644.14" width="26.00" height="33.01" fill="#f7b7b8"/>
<rect x="1185.00" y="1644.14" width="25.70" height="33.01" fill="#e3e2fd"/>
<rect x="1210.70" y="1644.14" width="25.80" height="33.01" fill="#dad9fc"/>
<rect x="1236.50" y="1644.14" width="26.00" height="33.01" fill="#e3e2fd"/>
<rect x="1262.50" y="1644.14" width="25.90" height="33.01" fill="#dfddfc"/>
<rect x="1288.40" y="1644.14" width="26.10" height="33.01" fill="#dcdbfc"/>
<rect x="1314.50" y="1644.14" width="25.90" height="33.01" fill="#e1e0fd"/>
<rect x="1340.40" y="1644.14" width="26.00" height="33.01" fill="#d3d1fb"/>
<rect x="1366.40" y="1644.14" width="26.10" height="33.01" fill="#d5d4fc"/>
<rect x="1392.50" y="1644.14" width="25.90" height="33.01" fill="#dad9fc"/>
<rect x="1418.40" y="1644.14" width="26.10" height="33.01" fill="#d5d4fc"/>
<rect x="225.90" y="1677.15" width="26.10" height="33.01" fill="#dad9fc"/>
<rect x="252.00" y="1677.15" width="25.70" height="33.01" fill="#dad9fc"/>
<rect x="277.70" y="1677.15" width="25.20" height="33.01" fill="#dcdbfc"/>
<rect x="302.90" y="1677.15" width="25.70" height="33.01" fill="#dad9fc"/>
<rect x="328.60" y="1677.15" width="26.00" height="33.01" fill="#dad9fc"/>
<rect x="354.60" y="1677.15" width="26.00" height="33.01" fill="#dad9fc"/>
<rect x="380.60" y="1677.15" width="25.90" height="33.01" fill="#dad9fc"/>
<rect x="406.50" y="1677.15" width="26.10" height="33.01" fill="#d8d6fc"/>
<rect x="432.60" y="1677.15" width="26.10" height="33.01" fill="#dad9fc"/>
<rect x="458.70" y="1677.15" width="25.90" height="33.01" fill="#dad9fc"/>
<rect x="484.60" y="1677.15" width="26.00" height="33.01" fill="#dad9fc"/>
<rect x="510.60" y="1677.15" width="26.00" height="33.01" fill="#dad9fc"/>
<rect x="545.90" y="1677.15" width="26.10" height="33.01" fill="#d8d6fc"/>
<rect x="572.00" y="1677.15" width="24.80" height="33.01" fill="#d8d6fc"/>
<rect x="596.80" y="1677.15" width="26.00" height="33.01" fill="#dad9fc"/>
<rect x="622.80" y="1677.15" width="26.10" height="33.01" fill="#d8d6fc"/>
<rect x="648.90" y="1677.15" width="25.80" height="33.01" fill="#d8d6fc"/>
<rect x="674.70" y="1677.15" width="25.90" height="33.01" fill="#d8d6fc"/>
<rect x="700.60" y="1677.15" width="26.10" height="33.01" fill="#d8d6fc"/>
<rect x="726.70" y="1677.15" width="26.00" height="33.01" fill="#d8d6fc"/>
<rect x="752.70" y="1677.15" width="26.10" height="33.01" fill="#d8d6fc"/>
<rect x="778.80" y="1677.15" width="25.90" height="33.01" fill="#d8d6fc"/>
<rect x="804.70" y="1677.15" width="26.20" height="33.01" fill="#d8d6fc"/>
<rect x="830.90" y="1677.15" width="26.10" height="33.01" fill="#dad9fc"/>
<rect x="866.20" y="1677.15" width="24.40" height="33.01" fill="#f38c8e"/>
<rect x="890.60" y="1677.15" width="25.90" height="33.01" fill="#f7b2b4"/>
<rect x="916.50" y="1677.15" width="25.80" height="33.01" fill="#f28284"/>
<rect x="942.30" y="1677.15" width="26.20" height="33.01" fill="#f39093"/>
<rect x="968.50" y="1677.15" width="25.80" height="33.01" fill="#f07376"/>
<rect x="994.30" y="1677.15" width="25.90" height="33.01" fill="#facfd0"/>
<rect x="1020.20" y="1677.15" width="26.00" height="33.01" fill="#ec484c"/>
<rect x="1046.20" y="1677.15" width="25.90" height="33.01" fill="#fce7e7"/>
<rect x="1072.10" y="1677.15" width="26.10" height="33.01" fill="#f7b2b4"/>
<rect x="1098.20" y="1677.15" width="25.80" height="33.01" fill="#f59fa1"/>
<rect x="1124.00" y="1677.15" width="26.00" height="33.01" fill="#f28789"/>
<rect x="1150.00" y="1677.15" width="26.00" height="33.01" fill="#facfd0"/>
<rect x="1185.00" y="1677.15" width="25.70" height="33.01" fill="#dad9fc"/>
<rect x="1210.70" y="1677.15" width="25.80" height="33.01" fill="#dfddfc"/>
<rect x="1236.50" y="1677.15" width="26.00" height="33.01" fill="#e3e2fd"/>
<rect x="1262.50" y="1677.15" width="25.90" height="33.01" fill="#dfddfc"/>
<rect x="1288.40" y="1677.15" width="26.10" height="33.01" fill="#e1e0fd"/>
<rect x="1314.50" y="1677.15" width="25.90" height="33.01" fill="#e3e2fd"/>
<rect x="1340.40" y="1677.15" width="26.00" height="33.01" fill="#dad9fc"/>
<rect x="1366.40" y="1677.15" width="26.10" height="33.01" fill="#dfddfc"/>
<rect x="1392.50" y="1677.15" width="25.90" height="33.01" fill="#e1e0fd"/>
<rect x="1418.40" y="1677.15" width="26.10" height="33.01" fill="#dfddfc"/>
<rect x="225.90" y="1710.16" width="26.10" height="33.01" fill="#d8d6fc"/>
<rect x="252.00" y="1710.16" width="25.70" height="33.01" fill="#d8d6fc"/>
<rect x="277.70" y="1710.16" width="25.20" height="33.01" fill="#d8d6fc"/>
<rect x="302.90" y="1710.16" width="25.70" height="33.01" fill="#d8d6fc"/>
<rect x="328.60" y="1710.16" width="26.00" height="33.01" fill="#dad9fc"/>
<rect x="354.60" y="1710.16" width="26.00" height="33.01" fill="#d5d4fc"/>
<rect x="380.60" y="1710.16" width="25.90" height="33.01" fill="#dad9fc"/>
<rect x="406.50" y="1710.16" width="26.10" height="33.01" fill="#dcdbfc"/>
<rect x="432.60" y="1710.16" width="26.10" height="33.01" fill="#d8d6fc"/>
<rect x="458.70" y="1710.16" width="25.90" height="33.01" fill="#dcdbfc"/>
<rect x="484.60" y="1710.16" width="26.00" height="33.01" fill="#d8d6fc"/>
<rect x="510.60" y="1710.16" width="26.00" height="33.01" fill="#d8d6fc"/>
<rect x="545.90" y="1710.16" width="26.10" height="33.01" fill="#d5d4fc"/>
<rect x="572.00" y="1710.16" width="24.80" height="33.01" fill="#d5d4fc"/>
<rect x="596.80" y="1710.16" width="26.00" height="33.01" fill="#e6e5fd"/>
<rect x="622.80" y="1710.16" width="26.10" height="33.01" fill="#d5d4fc"/>
<rect x="648.90" y="1710.16" width="25.80" height="33.01" fill="#d5d4fc"/>
<rect x="674.70" y="1710.16" width="25.90" height="33.01" fill="#d8d6fc"/>
<rect x="700.60" y="1710.16" width="26.10" height="33.01" fill="#d8d6fc"/>
<rect x="726.70" y="1710.16" width="26.00" height="33.01" fill="#d8d6fc"/>
<rect x="752.70" y="1710.16" width="26.10" height="33.01" fill="#d5d4fc"/>
<rect x="778.80" y="1710.16" width="25.90" height="33.01" fill="#d5d4fc"/>
<rect x="804.70" y="1710.16" width="26.20" height="33.01" fill="#d5d4fc"/>
<rect x="830.90" y="1710.16" width="26.10" height="33.01" fill="#d5d4fc"/>
<rect x="866.20" y="1710.16" width="24.40" height="33.01" fill="#f7b7b8"/>
<rect x="890.60" y="1710.16" width="25.90" height="33.01" fill="#f59fa1"/>
<rect x="916.50" y="1710.16" width="25.80" height="33.01" fill="#f06f71"/>
<rect x="942.30" y="1710.16" width="26.20" height="33.01" fill="#f9c5c6"/>
<rect x="968.50" y="1710.16" width="25.80" height="33.01" fill="#f39093"/>
<rect x="994.30" y="1710.16" width="25.90" height="33.01" fill="#f9c5c6"/>
<rect x="1020.20" y="1710.16" width="26.00" height="33.01" fill="#ed5255"/>
<rect x="1046.20" y="1710.16" width="25.90" height="33.01" fill="#f9c5c6"/>
<rect x="1072.10" y="1710.16" width="26.10" height="33.01" fill="#f59fa1"/>
<rect x="1098.20" y="1710.16" width="25.80" height="33.01" fill="#f6a8aa"/>
<rect x="1124.00" y="1710.16" width="26.00" height="33.01" fill="#ef6568"/>
<rect x="1150.00" y="1710.16" width="26.00" height="33.01" fill="#f8c0c2"/>
<rect x="1185.00" y="1710.16" width="25.70" height="33.01" fill="#fdecec"/>
<rect x="1210.70" y="1710.16" width="25.80" height="33.01" fill="#dfddfc"/>
<rect x="1236.50" y="1710.16" width="26.00" height="33.01" fill="#d5d4fc"/>
<rect x="1262.50" y="1710.16" width="25.90" height="33.01" fill="#d5d4fc"/>
<rect x="1288.40" y="1710.16" width="26.10" height="33.01" fill="#e1e0fd"/>
<rect x="1314.50" y="1710.16" width="25.90" height="33.01" fill="#fdfdff"/>
<rect x="1340.40" y="1710.16" width="26.00" height="33.01" fill="#dfddfc"/>
<rect x="1366.40" y="1710.16" width="26.10" height="33.01" fill="#dcdbfc"/>
<rect x="1392.50" y="1710.16" width="25.90" height="33.01" fill="#dad9fc"/>
<rect x="1418.40" y="1710.16" width="26.10" height="33.01" fill="#dad9fc"/>
<rect x="225.90" y="1743.17" width="26.10" height="33.01" fill="#d8d6fc"/>
<rect x="252.00" y="1743.17" width="25.70" height="33.01" fill="#d8d6fc"/>
<rect x="277.70" y="1743.17" width="25.20" height="33.01" fill="#d3d1fb"/>
<rect x="302.90" y="1743.17" width="25.70" height="33.01" fill="#d5d4fc"/>
<rect x="328.60" y="1743.17" width="26.00" height="33.01" fill="#d8d6fc"/>
<rect x="354.60" y="1743.17" width="26.00" height="33.01" fill="#d8d6fc"/>
<rect x="380.60" y="1743.17" width="25.90" height="33.01" fill="#d8d6fc"/>
<rect x="406.50" y="1743.17" width="26.10" height="33.01" fill="#d8d6fc"/>
<rect x="432.60" y="1743.17" width="26.10" height="33.01" fill="#d3d1fb"/>
<rect x="458.70" y="1743.17" width="25.90" height="33.01" fill="#d5d4fc"/>
<rect x="484.60" y="1743.17" width="26.00" height="33.01" fill="#d5d4fc"/>
<rect x="510.60" y="1743.17" width="26.00" height="33.01" fill="#d8d6fc"/>
<rect x="545.90" y="1743.17" width="26.10" height="33.01" fill="#d5d4fc"/>
<rect x="572.00" y="1743.17" width="24.80" height="33.01" fill="#d3d1fb"/>
<rect x="596.80" y="1743.17" width="26.00" height="33.01" fill="#d5d4fc"/>
<rect x="622.80" y="1743.17" width="26.10" height="33.01" fill="#d5d4fc"/>
<rect x="648.90" y="1743.17" width="25.80" height="33.01" fill="#d8d6fc"/>
<rect x="674.70" y="1743.17" width="25.90" height="33.01" fill="#d5d4fc"/>
<rect x="700.60" y="1743.17" width="26.10" height="33.01" fill="#d5d4fc"/>
<rect x="726.70" y="1743.17" width="26.00" height="33.01" fill="#d3d1fb"/>
<rect x="752.70" y="1743.17" width="26.10" height="33.01" fill="#d5d4fc"/>
<rect x="778.80" y="1743.17" width="25.90" height="33.01" fill="#d5d4fc"/>
<rect x="804.70" y="1743.17" width="26.20" height="33.01" fill="#d8d6fc"/>
<rect x="830.90" y="1743.17" width="26.10" height="33.01" fill="#d5d4fc"/>
<rect x="866.20" y="1743.17" width="24.40" height="33.01" fill="#f6adaf"/>
<rect x="890.60" y="1743.17" width="25.90" height="33.01" fill="#f9cacb"/>
<rect x="916.50" y="1743.17" width="25.80" height="33.01" fill="#f38c8e"/>
<rect x="942.30" y="1743.17" width="26.20" height="33.01" fill="#fad4d5"/>
<rect x="968.50" y="1743.17" width="25.80" height="33.01" fill="#f59fa1"/>
<rect x="994.30" y="1743.17" width="25.90" height="33.01" fill="#f39093"/>
<rect x="1020.20" y="1743.17" width="26.00" height="33.01" fill="#f49597"/>
<rect x="1046.20" y="1743.17" width="25.90" height="33.01" fill="#f9c5c6"/>
<rect x="1072.10" y="1743.17" width="26.10" height="33.01" fill="#f28284"/>
<rect x="1098.20" y="1743.17" width="25.80" height="33.01" fill="#f8bcbd"/>
<rect x="1124.00" y="1743.17" width="26.00" height="33.01" fill="#eb3f42"/>
<rect x="1150.00" y="1743.17" width="26.00" height="33.01" fill="#f28789"/>
<rect x="1185.00" y="1743.17" width="25.70" height="33.01" fill="#f1f1fe"/>
<rect x="1210.70" y="1743.17" width="25.80" height="33.01" fill="#f1f1fe"/>
<rect x="1236.50" y="1743.17" width="26.00" height="33.01" fill="#eae9fd"/>
<rect x="1262.50" y="1743.17" width="25.90" height="33.01" fill="#edecfd"/>
<rect x="1288.40" y="1743.17" width="26.10" height="33.01" fill="#e3e2fd"/>
<rect x="1314.50" y="1743.17" width="25.90" height="33.01" fill="#e6e5fd"/>
<rect x="1340.40" y="1743.17" width="26.00" height="33.01" fill="#f3f3fe"/>
<rect x="1366.40" y="1743.17" width="26.10" height="33.01" fill="#fdfdff"/>
<rect x="1392.50" y="1743.17" width="25.90" height="33.01" fill="#f8f8fe"/>
<rect x="1418.40" y="1743.17" width="26.10" height="33.01" fill="#fafaff"/>
<rect x="225.90" y="1776.18" width="26.10" height="33.01" fill="#d5d4fc"/>
<rect x="252.00" y="1776.18" width="25.70" height="33.01" fill="#d3d1fb"/>
<rect x="277.70" y="1776.18" width="25.20" height="33.01" fill="#d3d1fb"/>
<rect x="302.90" y="1776.18" width="25.70" height="33.01" fill="#d3d1fb"/>
<rect x="328.60" y="1776.18" width="26.00" height="33.01" fill="#d8d6fc"/>
<rect x="354.60" y="1776.18" width="26.00" height="33.01" fill="#d8d6fc"/>
<rect x="380.60" y="1776.18" width="25.90" height="33.01" fill="#d1cffb"/>
<rect x="406.50" y="1776.18" width="26.10" height="33.01" fill="#d5d4fc"/>
<rect x="432.60" y="1776.18" width="26.10" height="33.01" fill="#d3d1fb"/>
<rect x="458.70" y="1776.18" width="25.90" height="33.01" fill="#d3d1fb"/>
<rect x="484.60" y="1776.18" width="26.00" height="33.01" fill="#d5d4fc"/>
<rect x="510.60" y="1776.18" width="26.00" height="33.01" fill="#d3d1fb"/>
<rect x="545.90" y="1776.18" width="26.10" height="33.01" fill="#d1cffb"/>
<rect x="572.00" y="1776.18" width="24.80" height="33.01" fill="#d3d1fb"/>
<rect x="596.80" y="1776.18" width="26.00" height="33.01" fill="#d3d1fb"/>
<rect x="622.80" y="1776.18" width="26.10" height="33.01" fill="#d5d4fc"/>
<rect x="648.90" y="1776.18" width="25.80" height="33.01" fill="#d3d1fb"/>
<rect x="674.70" y="1776.18" width="25.90" height="33.01" fill="#d1cffb"/>
<rect x="700.60" y="1776.18" width="26.10" height="33.01" fill="#d3d1fb"/>
<rect x="726.70" y="1776.18" width="26.00" height="33.01" fill="#d5d4fc"/>
<rect x="752.70" y="1776.18" width="26.10" height="33.01" fill="#d5d4fc"/>
<rect x="778.80" y="1776.18" width="25.90" height="33.01" fill="#d5d4fc"/>
<rect x="804.70" y="1776.18" width="26.20" height="33.01" fill="#d5d4fc"/>
<rect x="830.90" y="1776.18" width="26.10" height="33.01" fill="#d1cffb"/>
<rect x="866.20" y="1776.18" width="24.40" height="33.01" fill="#f9cacb"/>
<rect x="890.60" y="1776.18" width="25.90" height="33.01" fill="#f49597"/>
<rect x="916.50" y="1776.18" width="25.80" height="33.01" fill="#f28789"/>
<rect x="942.30" y="1776.18" width="26.20" height="33.01" fill="#f49597"/>
<rect x="968.50" y="1776.18" width="25.80" height="33.01" fill="#f6a8aa"/>
<rect x="994.30" y="1776.18" width="25.90" height="33.01" fill="#f49597"/>
<rect x="1020.20" y="1776.18" width="26.00" height="33.01" fill="#f39093"/>
<rect x="1046.20" y="1776.18" width="25.90" height="33.01" fill="#f6a8aa"/>
<rect x="1072.10" y="1776.18" width="26.10" height="33.01" fill="#f49a9c"/>
<rect x="1098.20" y="1776.18" width="25.80" height="33.01" fill="#f5a4a5"/>
<rect x="1124.00" y="1776.18" width="26.00" height="33.01" fill="#f17d80"/>
<rect x="1150.00" y="1776.18" width="26.00" height="33.01" fill="#f28284"/>
<rect x="1185.00" y="1776.18" width="25.70" height="33.01" fill="#d5d4fc"/>
<rect x="1210.70" y="1776.18" width="25.80" height="33.01" fill="#f1f1fe"/>
<rect x="1236.50" y="1776.18" width="26.00" height="33.01" fill="#fafaff"/>
<rect x="1262.50" y="1776.18" width="25.90" height="33.01" fill="#fafaff"/>
<rect x="1288.40" y="1776.18" width="26.10" height="33.01" fill="#eae9fd"/>
<rect x="1314.50" y="1776.18" width="25.90" height="33.01" fill="#fafaff"/>
<rect x="1340.40" y="1776.18" width="26.00" height="33.01" fill="#e8e7fd"/>
<rect x="1366.40" y="1776.18" width="26.10" height="33.01" fill="#f6f5fe"/>
<rect x="1392.50" y="1776.18" width="25.90" height="33.01" fill="#fdfdff"/>
<rect x="1418.40" y="1776.18" width="26.10" height="33.01" fill="#fdecec"/>
<rect x="225.90" y="1809.19" width="26.10" height="33.01" fill="#d8d6fc"/>
<rect x="252.00" y="1809.19" width="25.70" height="33.01" fill="#d8d6fc"/>
<rect x="277.70" y="1809.19" width="25.20" height="33.01" fill="#d8d6fc"/>
<rect x="302.90" y="1809.19" width="25.70" height="33.01" fill="#d8d6fc"/>
<rect x="328.60" y="1809.19" width="26.00" height="33.01" fill="#d8d6fc"/>
<rect x="354.60" y="1809.19" width="26.00" height="33.01" fill="#d8d6fc"/>
<rect x="380.60" y="1809.19" width="25.90" height="33.01" fill="#d8d6fc"/>
<rect x="406.50" y="1809.19" width="26.10" height="33.01" fill="#d8d6fc"/>
<rect x="432.60" y="1809.19" width="26.10" height="33.01" fill="#d8d6fc"/>
<rect x="458.70" y="1809.19" width="25.90" height="33.01" fill="#d8d6fc"/>
<rect x="484.60" y="1809.19" width="26.00" height="33.01" fill="#d8d6fc"/>
<rect x="510.60" y="1809.19" width="26.00" height="33.01" fill="#d8d6fc"/>
<rect x="545.90" y="1809.19" width="26.10" height="33.01" fill="#d8d6fc"/>
<rect x="572.00" y="1809.19" width="24.80" height="33.01" fill="#d8d6fc"/>
<rect x="596.80" y="1809.19" width="26.00" height="33.01" fill="#d8d6fc"/>
<rect x="622.80" y="1809.19" width="26.10" height="33.01" fill="#d8d6fc"/>
<rect x="648.90" y="1809.19" width="25.80" height="33.01" fill="#d8d6fc"/>
<rect x="674.70" y="1809.19" width="25.90" height="33.01" fill="#d8d6fc"/>
<rect x="700.60" y="1809.19" width="26.10" height="33.01" fill="#d8d6fc"/>
<rect x="726.70" y="1809.19" width="26.00" height="33.01" fill="#d8d6fc"/>
<rect x="752.70" y="1809.19" width="26.10" height="33.01" fill="#d8d6fc"/>
<rect x="778.80" y="1809.19" width="25.90" height="33.01" fill="#d8d6fc"/>
<rect x="804.70" y="1809.19" width="26.20" height="33.01" fill="#d8d6fc"/>
<rect x="830.90" y="1809.19" width="26.10" height="33.01" fill="#d8d6fc"/>
<rect x="866.20" y="1809.19" width="24.40" height="33.01" fill="#f9c5c6"/>
<rect x="890.60" y="1809.19" width="25.90" height="33.01" fill="#f8c0c2"/>
<rect x="916.50" y="1809.19" width="25.80" height="33.01" fill="#f28284"/>
<rect x="942.30" y="1809.19" width="26.20" height="33.01" fill="#f6a8aa"/>
<rect x="968.50" y="1809.19" width="25.80" height="33.01" fill="#f49597"/>
<rect x="994.30" y="1809.19" width="25.90" height="33.01" fill="#f59fa1"/>
<rect x="1020.20" y="1809.19" width="26.00" height="33.01" fill="#f59fa1"/>
<rect x="1046.20" y="1809.19" width="25.90" height="33.01" fill="#f39093"/>
<rect x="1072.10" y="1809.19" width="26.10" height="33.01" fill="#f6adaf"/>
<rect x="1098.20" y="1809.19" width="25.80" height="33.01" fill="#f6a8aa"/>
<rect x="1124.00" y="1809.19" width="26.00" height="33.01" fill="#ee6063"/>
<rect x="1150.00" y="1809.19" width="26.00" height="33.01" fill="#f1787b"/>
<rect x="1185.00" y="1809.19" width="25.70" height="33.01" fill="#e8e7fd"/>
<rect x="1210.70" y="1809.19" width="25.80" height="33.01" fill="#e3e2fd"/>
<rect x="1236.50" y="1809.19" width="26.00" height="33.01" fill="#e8e7fd"/>
<rect x="1262.50" y="1809.19" width="25.90" height="33.01" fill="#e6e5fd"/>
<rect x="1288.40" y="1809.19" width="26.10" height="33.01" fill="#e3e2fd"/>
<rect x="1314.50" y="1809.19" width="25.90" height="33.01" fill="#edecfd"/>
<rect x="1340.40" y="1809.19" width="26.00" height="33.01" fill="#dcdbfc"/>
<rect x="1366.40" y="1809.19" width="26.10" height="33.01" fill="#eae9fd"/>
<rect x="1392.50" y="1809.19" width="25.90" height="33.01" fill="#e8e7fd"/>
<rect x="1418.40" y="1809.19" width="26.10" height="33.01" fill="#f3f3fe"/>
<rect x="225.90" y="1842.20" width="26.10" height="33.01" fill="#d8d6fc"/>
<rect x="252.00" y="1842.20" width="25.70" height="33.01" fill="#d8d6fc"/>
<rect x="277.70" y="1842.20" width="25.20" height="33.01" fill="#d8d6fc"/>
<rect x="302.90" y="1842.20" width="25.70" height="33.01" fill="#d8d6fc"/>
<rect x="328.60" y="1842.20" width="26.00" height="33.01" fill="#d8d6fc"/>
<rect x="354.60" y="1842.20" width="26.00" height="33.01" fill="#d8d6fc"/>
<rect x="380.60" y="1842.20" width="25.90" height="33.01" fill="#d8d6fc"/>
<rect x="406.50" y="1842.20" width="26.10" height="33.01" fill="#d8d6fc"/>
<rect x="432.60" y="1842.20" width="26.10" height="33.01" fill="#d8d6fc"/>
<rect x="458.70" y="1842.20" width="25.90" height="33.01" fill="#d8d6fc"/>
<rect x="484.60" y="1842.20" width="26.00" height="33.01" fill="#d8d6fc"/>
<rect x="510.60" y="1842.20" width="26.00" height="33.01" fill="#d8d6fc"/>
<rect x="545.90" y="1842.20" width="26.10" height="33.01" fill="#dad9fc"/>
<rect x="572.00" y="1842.20" width="24.80" height="33.01" fill="#d8d6fc"/>
<rect x="596.80" y="1842.20" width="26.00" height="33.01" fill="#d8d6fc"/>
<rect x="622.80" y="1842.20" width="26.10" height="33.01" fill="#dad9fc"/>
<rect x="648.90" y="1842.20" width="25.80" height="33.01" fill="#d8d6fc"/>
<rect x="674.70" y="1842.20" width="25.90" height="33.01" fill="#d8d6fc"/>
<rect x="700.60" y="1842.20" width="26.10" height="33.01" fill="#d8d6fc"/>
<rect x="726.70" y="1842.20" width="26.00" height="33.01" fill="#d8d6fc"/>
<rect x="752.70" y="1842.20" width="26.10" height="33.01" fill="#d8d6fc"/>
<rect x="778.80" y="1842.20" width="25.90" height="33.01" fill="#d8d6fc"/>
<rect x="804.70" y="1842.20" width="26.20" height="33.01" fill="#d8d6fc"/>
<rect x="830.90" y="1842.20" width="26.10" height="33.01" fill="#d8d6fc"/>
<rect x="866.20" y="1842.20" width="24.40" height="33.01" fill="#f9cacb"/>
<rect x="890.60" y="1842.20" width="25.90" height="33.01" fill="#f9cacb"/>
<rect x="916.50" y="1842.20" width="25.80" height="33.01" fill="#f07376"/>
<rect x="942.30" y="1842.20" width="26.20" height="33.01" fill="#f59fa1"/>
<rect x="968.50" y="1842.20" width="25.80" height="33.01" fill="#f49597"/>
<rect x="994.30" y="1842.20" width="25.90" height="33.01" fill="#f49a9c"/>
<rect x="1020.20" y="1842.20" width="26.00" height="33.01" fill="#f6a8aa"/>
<rect x="1046.20" y="1842.20" width="25.90" height="33.01" fill="#f59fa1"/>
<rect x="1072.10" y="1842.20" width="26.10" height="33.01" fill="#f6a8aa"/>
<rect x="1098.20" y="1842.20" width="25.80" height="33.01" fill="#f6a8aa"/>
<rect x="1124.00" y="1842.20" width="26.00" height="33.01" fill="#ef6a6d"/>
<rect x="1150.00" y="1842.20" width="26.00" height="33.01" fill="#f28789"/>
<rect x="1185.00" y="1842.20" width="25.70" height="33.01" fill="#fdfdff"/>
<rect x="1210.70" y="1842.20" width="25.80" height="33.01" fill="#e6e5fd"/>
<rect x="1236.50" y="1842.20" width="26.00" height="33.01" fill="#e8e7fd"/>
<rect x="1262.50" y="1842.20" width="25.90" height="33.01" fill="#edecfd"/>
<rect x="1288.40" y="1842.20" width="26.10" height="33.01" fill="#eae9fd"/>
<rect x="1314.50" y="1842.20" width="25.90" height="33.01" fill="#efeefe"/>
<rect x="1340.40" y="1842.20" width="26.00" height="33.01" fill="#e1e0fd"/>
<rect x="1366.40" y="1842.20" width="26.10" height="33.01" fill="#edecfd"/>
<rect x="1392.50" y="1842.20" width="25.90" height="33.01" fill="#e8e7fd"/>
<rect x="1418.40" y="1842.20" width="26.10" height="33.01" fill="#f3f3fe"/>
<rect x="225.90" y="1875.21" width="26.10" height="33.01" fill="#d5d4fc"/>
<rect x="252.00" y="1875.21" width="25.70" height="33.01" fill="#d3d1fb"/>
<rect x="277.70" y="1875.21" width="25.20" height="33.01" fill="#d5d4fc"/>
<rect x="302.90" y="1875.21" width="25.70" height="33.01" fill="#d8d6fc"/>
<rect x="328.60" y="1875.21" width="26.00" height="33.01" fill="#d5d4fc"/>
<rect x="354.60" y="1875.21" width="26.00" height="33.01" fill="#d8d6fc"/>
<rect x="380.60" y="1875.21" width="25.90" height="33.01" fill="#d8d6fc"/>
<rect x="406.50" y="1875.21" width="26.10" height="33.01" fill="#d8d6fc"/>
<rect x="432.60" y="1875.21" width="26.10" height="33.01" fill="#d5d4fc"/>
<rect x="458.70" y="1875.21" width="25.90" height="33.01" fill="#d5d4fc"/>
<rect x="484.60" y="1875.21" width="26.00" height="33.01" fill="#d8d6fc"/>
<rect x="510.60" y="1875.21" width="26.00" height="33.01" fill="#d5d4fc"/>
<rect x="545.90" y="1875.21" width="26.10" height="33.01" fill="#d8d6fc"/>
<rect x="572.00" y="1875.21" width="24.80" height="33.01" fill="#d8d6fc"/>
<rect x="596.80" y="1875.21" width="26.00" height="33.01" fill="#d8d6fc"/>
<rect x="622.80" y="1875.21" width="26.10" height="33.01" fill="#d8d6fc"/>
<rect x="648.90" y="1875.21" width="25.80" height="33.01" fill="#d5d4fc"/>
<rect x="674.70" y="1875.21" width="25.90" height="33.01" fill="#d3d1fb"/>
<rect x="700.60" y="1875.21" width="26.10" height="33.01" fill="#d5d4fc"/>
<rect x="726.70" y="1875.21" width="26.00" height="33.01" fill="#d8d6fc"/>
<rect x="752.70" y="1875.21" width="26.10" height="33.01" fill="#d8d6fc"/>
<rect x="778.80" y="1875.21" width="25.90" height="33.01" fill="#d8d6fc"/>
<rect x="804.70" y="1875.21" width="26.20" height="33.01" fill="#dad9fc"/>
<rect x="830.90" y="1875.21" width="26.10" height="33.01" fill="#d8d6fc"/>
<rect x="866.20" y="1875.21" width="24.40" height="33.01" fill="#f9cacb"/>
<rect x="890.60" y="1875.21" width="25.90" height="33.01" fill="#f8c0c2"/>
<rect x="916.50" y="1875.21" width="25.80" height="33.01" fill="#ef6a6d"/>
<rect x="942.30" y="1875.21" width="26.20" height="33.01" fill="#f6a8aa"/>
<rect x="968.50" y="1875.21" width="25.80" height="33.01" fill="#f38c8e"/>
<rect x="994.30" y="1875.21" width="25.90" height="33.01" fill="#f49a9c"/>
<rect x="1020.20" y="1875.21" width="26.00" height="33.01" fill="#f6a8aa"/>
<rect x="1046.20" y="1875.21" width="25.90" height="33.01" fill="#f59fa1"/>
<rect x="1072.10" y="1875.21" width="26.10" height="33.01" fill="#f8c0c2"/>
<rect x="1098.20" y="1875.21" width="25.80" height="33.01" fill="#f6adaf"/>
<rect x="1124.00" y="1875.21" width="26.00" height="33.01" fill="#f06f71"/>
<rect x="1150.00" y="1875.21" width="26.00" height="33.01" fill="#f07376"/>
<rect x="1185.00" y="1875.21" width="25.70" height="33.01" fill="#fafaff"/>
<rect x="1210.70" y="1875.21" width="25.80" height="33.01" fill="#efeefe"/>
<rect x="1236.50" y="1875.21" width="26.00" height="33.01" fill="#e8e7fd"/>
<rect x="1262.50" y="1875.21" width="25.90" height="33.01" fill="#efeefe"/>
<rect x="1288.40" y="1875.21" width="26.10" height="33.01" fill="#e3e2fd"/>
<rect x="1314.50" y="1875.21" width="25.90" height="33.01" fill="#efeefe"/>
<rect x="1340.40" y="1875.21" width="26.00" height="33.01" fill="#dfddfc"/>
<rect x="1366.40" y="1875.21" width="26.10" height="33.01" fill="#efeefe"/>
<rect x="1392.50" y="1875.21" width="25.90" height="33.01" fill="#e3e2fd"/>
<rect x="1418.40" y="1875.21" width="26.10" height="33.01" fill="#f6f5fe"/>
<rect x="225.90" y="1908.22" width="26.10" height="33.01" fill="#d3d1fb"/>
<rect x="252.00" y="1908.22" width="25.70" height="33.01" fill="#d3d1fb"/>
<rect x="277.70" y="1908.22" width="25.20" height="33.01" fill="#d3d1fb"/>
<rect x="302.90" y="1908.22" width="25.70" height="33.01" fill="#d3d1fb"/>
<rect x="328.60" y="1908.22" width="26.00" height="33.01" fill="#d3d1fb"/>
<rect x="354.60" y="1908.22" width="26.00" height="33.01" fill="#d1cffb"/>
<rect x="380.60" y="1908.22" width="25.90" height="33.01" fill="#d3d1fb"/>
<rect x="406.50" y="1908.22" width="26.10" height="33.01" fill="#d3d1fb"/>
<rect x="432.60" y="1908.22" width="26.10" height="33.01" fill="#d3d1fb"/>
<rect x="458.70" y="1908.22" width="25.90" height="33.01" fill="#d3d1fb"/>
<rect x="484.60" y="1908.22" width="26.00" height="33.01" fill="#d3d1fb"/>
<rect x="510.60" y="1908.22" width="26.00" height="33.01" fill="#ceccfb"/>
<rect x="545.90" y="1908.22" width="26.10" height="33.01" fill="#d5d4fc"/>
<rect x="572.00" y="1908.22" width="24.80" height="33.01" fill="#d5d4fc"/>
<rect x="596.80" y="1908.22" width="26.00" height="33.01" fill="#d5d4fc"/>
<rect x="622.80" y="1908.22" width="26.10" height="33.01" fill="#d5d4fc"/>
<rect x="648.90" y="1908.22" width="25.80" height="33.01" fill="#d5d4fc"/>
<rect x="674.70" y="1908.22" width="25.90" height="33.01" fill="#d5d4fc"/>
<rect x="700.60" y="1908.22" width="26.10" height="33.01" fill="#d5d4fc"/>
<rect x="726.70" y="1908.22" width="26.00" height="33.01" fill="#d5d4fc"/>
<rect x="752.70" y="1908.22" width="26.10" height="33.01" fill="#d5d4fc"/>
<rect x="778.80" y="1908.22" width="25.90" height="33.01" fill="#d5d4fc"/>
<rect x="804.70" y="1908.22" width="26.20" height="33.01" fill="#d5d4fc"/>
<rect x="830.90" y="1908.22" width="26.10" height="33.01" fill="#d5d4fc"/>
<rect x="866.20" y="1908.22" width="24.40" height="33.01" fill="#facfd0"/>
<rect x="890.60" y="1908.22" width="25.90" height="33.01" fill="#f8bcbd"/>
<rect x="916.50" y="1908.22" width="25.80" height="33.01" fill="#f39093"/>
<rect x="942.30" y="1908.22" width="26.20" height="33.01" fill="#f5a4a5"/>
<rect x="968.50" y="1908.22" width="25.80" height="33.01" fill="#f49597"/>
<rect x="994.30" y="1908.22" width="25.90" height="33.01" fill="#f6adaf"/>
<rect x="1020.20" y="1908.22" width="26.00" height="33.01" fill="#f39093"/>
<rect x="1046.20" y="1908.22" width="25.90" height="33.01" fill="#f49a9c"/>
<rect x="1072.10" y="1908.22" width="26.10" height="33.01" fill="#f6a8aa"/>
<rect x="1098.20" y="1908.22" width="25.80" height="33.01" fill="#f7b7b8"/>
<rect x="1124.00" y="1908.22" width="26.00" height="33.01" fill="#ee5b5f"/>
<rect x="1150.00" y="1908.22" width="26.00" height="33.01" fill="#f38c8e"/>
<rect x="1185.00" y="1908.22" width="25.70" height="33.01" fill="#fffdfd"/>
<rect x="1210.70" y="1908.22" width="25.80" height="33.01" fill="#f1f1fe"/>
<rect x="1236.50" y="1908.22" width="26.00" height="33.01" fill="#f3f3fe"/>
<rect x="1262.50" y="1908.22" width="25.90" height="33.01" fill="#f6f5fe"/>
<rect x="1288.40" y="1908.22" width="26.10" height="33.01" fill="#f6f5fe"/>
<rect x="1314.50" y="1908.22" width="25.90" height="33.01" fill="#f8f8fe"/>
<rect x="1340.40" y="1908.22" width="26.00" height="33.01" fill="#f6f5fe"/>
<rect x="1366.40" y="1908.22" width="26.10" height="33.01" fill="#f3f3fe"/>
<rect x="1392.50" y="1908.22" width="25.90" height="33.01" fill="#f6f5fe"/>
<rect x="1418.40" y="1908.22" width="26.10" height="33.01" fill="#fdfdff"/>
<rect x="225.90" y="1941.23" width="26.10" height="33.01" fill="#d1cffb"/>
<rect x="252.00" y="1941.23" width="25.70" height="33.01" fill="#d1cffb"/>
<rect x="277.70" y="1941.23" width="25.20" height="33.01" fill="#d1cffb"/>
<rect x="302.90" y="1941.23" width="25.70" height="33.01" fill="#d1cffb"/>
<rect x="328.60" y="1941.23" width="26.00" height="33.01" fill="#d3d1fb"/>
<rect x="354.60" y="1941.23" width="26.00" height="33.01" fill="#d3d1fb"/>
<rect x="380.60" y="1941.23" width="25.90" height="33.01" fill="#d1cffb"/>
<rect x="406.50" y="1941.23" width="26.10" height="33.01" fill="#d3d1fb"/>
<rect x="432.60" y="1941.23" width="26.10" height="33.01" fill="#d3d1fb"/>
<rect x="458.70" y="1941.23" width="25.90" height="33.01" fill="#d1cffb"/>
<rect x="484.60" y="1941.23" width="26.00" height="33.01" fill="#d1cffb"/>
<rect x="510.60" y="1941.23" width="26.00" height="33.01" fill="#d3d1fb"/>
<rect x="545.90" y="1941.23" width="26.10" height="33.01" fill="#d3d1fb"/>
<rect x="572.00" y="1941.23" width="24.80" height="33.01" fill="#d3d1fb"/>
<rect x="596.80" y="1941.23" width="26.00" height="33.01" fill="#d3d1fb"/>
<rect x="622.80" y="1941.23" width="26.10" height="33.01" fill="#d3d1fb"/>
<rect x="648.90" y="1941.23" width="25.80" height="33.01" fill="#d3d1fb"/>
<rect x="674.70" y="1941.23" width="25.90" height="33.01" fill="#d3d1fb"/>
<rect x="700.60" y="1941.23" width="26.10" height="33.01" fill="#d3d1fb"/>
<rect x="726.70" y="1941.23" width="26.00" height="33.01" fill="#d3d1fb"/>
<rect x="752.70" y="1941.23" width="26.10" height="33.01" fill="#d3d1fb"/>
<rect x="778.80" y="1941.23" width="25.90" height="33.01" fill="#d3d1fb"/>
<rect x="804.70" y="1941.23" width="26.20" height="33.01" fill="#d3d1fb"/>
<rect x="830.90" y="1941.23" width="26.10" height="33.01" fill="#d3d1fb"/>
<rect x="866.20" y="1941.23" width="24.40" height="33.01" fill="#facfd0"/>
<rect x="890.60" y="1941.23" width="25.90" height="33.01" fill="#facfd0"/>
<rect x="916.50" y="1941.23" width="25.80" height="33.01" fill="#f07376"/>
<rect x="942.30" y="1941.23" width="26.20" height="33.01" fill="#f6a8aa"/>
<rect x="968.50" y="1941.23" width="25.80" height="33.01" fill="#f49597"/>
<rect x="994.30" y="1941.23" width="25.90" height="33.01" fill="#f59fa1"/>
<rect x="1020.20" y="1941.23" width="26.00" height="33.01" fill="#f5a4a5"/>
<rect x="1046.20" y="1941.23" width="25.90" height="33.01" fill="#f59fa1"/>
<rect x="1072.10" y="1941.23" width="26.10" height="33.01" fill="#f59fa1"/>
<rect x="1098.20" y="1941.23" width="25.80" height="33.01" fill="#f6adaf"/>
<rect x="1124.00" y="1941.23" width="26.00" height="33.01" fill="#ef6568"/>
<rect x="1150.00" y="1941.23" width="26.00" height="33.01" fill="#f39093"/>
<rect x="1185.00" y="1941.23" width="25.70" height="33.01" fill="#fdfdff"/>
<rect x="1210.70" y="1941.23" width="25.80" height="33.01" fill="#efeefe"/>
<rect x="1236.50" y="1941.23" width="26.00" height="33.01" fill="#fafaff"/>
<rect x="1262.50" y="1941.23" width="25.90" height="33.01" fill="#f8f8fe"/>
<rect x="1288.40" y="1941.23" width="26.10" height="33.01" fill="#f8f8fe"/>
<rect x="1314.50" y="1941.23" width="25.90" height="33.01" fill="#f6f5fe"/>
<rect x="1340.40" y="1941.23" width="26.00" height="33.01" fill="#f8f8fe"/>
<rect x="1366.40" y="1941.23" width="26.10" height="33.01" fill="#f6f5fe"/>
<rect x="1392.50" y="1941.23" width="25.90" height="33.01" fill="#fafaff"/>
<rect x="1418.40" y="1941.23" width="26.10" height="33.01" fill="#fafaff"/>
<rect x="225.90" y="1974.24" width="26.10" height="33.01" fill="#d1cffb"/>
<rect x="252.00" y="1974.24" width="25.70" height="33.01" fill="#d1cffb"/>
<rect x="277.70" y="1974.24" width="25.20" height="33.01" fill="#d1cffb"/>
<rect x="302.90" y="1974.24" width="25.70" height="33.01" fill="#d3d1fb"/>
<rect x="328.60" y="1974.24" width="26.00" height="33.01" fill="#d1cffb"/>
<rect x="354.60" y="1974.24" width="26.00" height="33.01" fill="#d1cffb"/>
<rect x="380.60" y="1974.24" width="25.90" height="33.01" fill="#d3d1fb"/>
<rect x="406.50" y="1974.24" width="26.10" height="33.01" fill="#d3d1fb"/>
<rect x="432.60" y="1974.24" width="26.10" height="33.01" fill="#d3d1fb"/>
<rect x="458.70" y="1974.24" width="25.90" height="33.01" fill="#d3d1fb"/>
<rect x="484.60" y="1974.24" width="26.00" height="33.01" fill="#d3d1fb"/>
<rect x="510.60" y="1974.24" width="26.00" height="33.01" fill="#d3d1fb"/>
<rect x="545.90" y="1974.24" width="26.10" height="33.01" fill="#d3d1fb"/>
<rect x="572.00" y="1974.24" width="24.80" height="33.01" fill="#d3d1fb"/>
<rect x="596.80" y="1974.24" width="26.00" height="33.01" fill="#d3d1fb"/>
<rect x="622.80" y="1974.24" width="26.10" height="33.01" fill="#d1cffb"/>
<rect x="648.90" y="1974.24" width="25.80" height="33.01" fill="#d1cffb"/>
<rect x="674.70" y="1974.24" width="25.90" height="33.01" fill="#d1cffb"/>
<rect x="700.60" y="1974.24" width="26.10" height="33.01" fill="#d3d1fb"/>
<rect x="726.70" y="1974.24" width="26.00" height="33.01" fill="#d3d1fb"/>
<rect x="752.70" y="1974.24" width="26.10" height="33.01" fill="#d3d1fb"/>
<rect x="778.80" y="1974.24" width="25.90" height="33.01" fill="#d3d1fb"/>
<rect x="804.70" y="1974.24" width="26.20" height="33.01" fill="#d3d1fb"/>
<rect x="830.90" y="1974.24" width="26.10" height="33.01" fill="#d3d1fb"/>
<rect x="866.20" y="1974.24" width="24.40" height="33.01" fill="#f8bcbd"/>
<rect x="890.60" y="1974.24" width="25.90" height="33.01" fill="#facfd0"/>
<rect x="916.50" y="1974.24" width="25.80" height="33.01" fill="#f06f71"/>
<rect x="942.30" y="1974.24" width="26.20" height="33.01" fill="#f8c0c2"/>
<rect x="968.50" y="1974.24" width="25.80" height="33.01" fill="#f49a9c"/>
<rect x="994.30" y="1974.24" width="25.90" height="33.01" fill="#f39093"/>
<rect x="1020.20" y="1974.24" width="26.00" height="33.01" fill="#f59fa1"/>
<rect x="1046.20" y="1974.24" width="25.90" height="33.01" fill="#f5a4a5"/>
<rect x="1072.10" y="1974.24" width="26.10" height="33.01" fill="#f6a8aa"/>
<rect x="1098.20" y="1974.24" width="25.80" height="33.01" fill="#f7b2b4"/>
<rect x="1124.00" y="1974.24" width="26.00" height="33.01" fill="#f06f71"/>
<rect x="1150.00" y="1974.24" width="26.00" height="33.01" fill="#f28789"/>
<rect x="1185.00" y="1974.24" width="25.70" height="33.01" fill="#fdfdff"/>
<rect x="1210.70" y="1974.24" width="25.80" height="33.01" fill="#f8f8fe"/>
<rect x="1236.50" y="1974.24" width="26.00" height="33.01" fill="#fafaff"/>
<rect x="1262.50" y="1974.24" width="25.90" height="33.01" fill="#f6f5fe"/>
<rect x="1288.40" y="1974.24" width="26.10" height="33.01" fill="#fafaff"/>
<rect x="1314.50" y="1974.24" width="25.90" height="33.01" fill="#f6f5fe"/>
<rect x="1340.40" y="1974.24" width="26.00" height="33.01" fill="#f8f8fe"/>
<rect x="1366.40" y="1974.24" width="26.10" height="33.01" fill="#fffdfd"/>
<rect x="1392.50" y="1974.24" width="25.90" height="33.01" fill="#f8f8fe"/>
<rect x="1418.40" y="1974.24" width="26.10" height="33.01" fill="#fef8f8"/>
<rect x="225.90" y="2007.25" width="26.10" height="33.01" fill="#d5d4fc"/>
<rect x="252.00" y="2007.25" width="25.70" height="33.01" fill="#d5d4fc"/>
<rect x="277.70" y="2007.25" width="25.20" height="33.01" fill="#d5d4fc"/>
<rect x="302.90" y="2007.25" width="25.70" height="33.01" fill="#d5d4fc"/>
<rect x="328.60" y="2007.25" width="26.00" height="33.01" fill="#d5d4fc"/>
<rect x="354.60" y="2007.25" width="26.00" height="33.01" fill="#d5d4fc"/>
<rect x="380.60" y="2007.25" width="25.90" height="33.01" fill="#d5d4fc"/>
<rect x="406.50" y="2007.25" width="26.10" height="33.01" fill="#d5d4fc"/>
<rect x="432.60" y="2007.25" width="26.10" height="33.01" fill="#d5d4fc"/>
<rect x="458.70" y="2007.25" width="25.90" height="33.01" fill="#d5d4fc"/>
<rect x="484.60" y="2007.25" width="26.00" height="33.01" fill="#d5d4fc"/>
<rect x="510.60" y="2007.25" width="26.00" height="33.01" fill="#d5d4fc"/>
<rect x="545.90" y="2007.25" width="26.10" height="33.01" fill="#d5d4fc"/>
<rect x="572.00" y="2007.25" width="24.80" height="33.01" fill="#d5d4fc"/>
<rect x="596.80" y="2007.25" width="26.00" height="33.01" fill="#d5d4fc"/>
<rect x="622.80" y="2007.25" width="26.10" height="33.01" fill="#d5d4fc"/>
<rect x="648.90" y="2007.25" width="25.80" height="33.01" fill="#d5d4fc"/>
<rect x="674.70" y="2007.25" width="25.90" height="33.01" fill="#d5d4fc"/>
<rect x="700.60" y="2007.25" width="26.10" height="33.01" fill="#d5d4fc"/>
<rect x="726.70" y="2007.25" width="26.00" height="33.01" fill="#d5d4fc"/>
<rect x="752.70" y="2007.25" width="26.10" height="33.01" fill="#d5d4fc"/>
<rect x="778.80" y="2007.25" width="25.90" height="33.01" fill="#d5d4fc"/>
<rect x="804.70" y="2007.25" width="26.20" height="33.01" fill="#d5d4fc"/>
<rect x="830.90" y="2007.25" width="26.10" height="33.01" fill="#d5d4fc"/>
<rect x="866.20" y="2007.25" width="24.40" height="33.01" fill="#fad4d5"/>
<rect x="890.60" y="2007.25" width="25.90" height="33.01" fill="#fbd9d9"/>
<rect x="916.50" y="2007.25" width="25.80" height="33.01" fill="#ed5255"/>
<rect x="942.30" y="2007.25" width="26.20" height="33.01" fill="#f49a9c"/>
<rect x="968.50" y="2007.25" width="25.80" height="33.01" fill="#f17d80"/>
<rect x="994.30" y="2007.25" width="25.90" height="33.01" fill="#f17d80"/>
<rect x="1020.20" y="2007.25" width="26.00" height="33.01" fill="#f9c5c6"/>
<rect x="1046.20" y="2007.25" width="25.90" height="33.01" fill="#f8bcbd"/>
<rect x="1072.10" y="2007.25" width="26.10" height="33.01" fill="#f7b7b8"/>
<rect x="1098.20" y="2007.25" width="25.80" height="33.01" fill="#f6adaf"/>
<rect x="1124.00" y="2007.25" width="26.00" height="33.01" fill="#f28284"/>
<rect x="1150.00" y="2007.25" width="26.00" height="33.01" fill="#f38c8e"/>
<rect x="1185.00" y="2007.25" width="25.70" height="33.01" fill="#fafaff"/>
<rect x="1210.70" y="2007.25" width="25.80" height="33.01" fill="#efeefe"/>
<rect x="1236.50" y="2007.25" width="26.00" height="33.01" fill="#efeefe"/>
<rect x="1262.50" y="2007.25" width="25.90" height="33.01" fill="#efeefe"/>
<rect x="1288.40" y="2007.25" width="26.10" height="33.01" fill="#edecfd"/>
<rect x="1314.50" y="2007.25" width="25.90" height="33.01" fill="#eae9fd"/>
<rect x="1340.40" y="2007.25" width="26.00" height="33.01" fill="#eae9fd"/>
<rect x="1366.40" y="2007.25" width="26.10" height="33.01" fill="#fdfdff"/>
<rect x="1392.50" y="2007.25" width="25.90" height="33.01" fill="#dad9fc"/>
<rect x="1418.40" y="2007.25" width="26.10" height="33.01" fill="#edecfd"/>
<rect x="225.90" y="2040.26" width="26.10" height="33.01" fill="#d3d1fb"/>
<rect x="252.00" y="2040.26" width="25.70" height="33.01" fill="#d3d1fb"/>
<rect x="277.70" y="2040.26" width="25.20" height="33.01" fill="#d3d1fb"/>
<rect x="302.90" y="2040.26" width="25.70" height="33.01" fill="#d3d1fb"/>
<rect x="328.60" y="2040.26" width="26.00" height="33.01" fill="#d3d1fb"/>
<rect x="354.60" y="2040.26" width="26.00" height="33.01" fill="#d3d1fb"/>
<rect x="380.60" y="2040.26" width="25.90" height="33.01" fill="#d3d1fb"/>
<rect x="406.50" y="2040.26" width="26.10" height="33.01" fill="#d3d1fb"/>
<rect x="432.60" y="2040.26" width="26.10" height="33.01" fill="#d3d1fb"/>
<rect x="458.70" y="2040.26" width="25.90" height="33.01" fill="#d3d1fb"/>
<rect x="484.60" y="2040.26" width="26.00" height="33.01" fill="#d3d1fb"/>
<rect x="510.60" y="2040.26" width="26.00" height="33.01" fill="#d3d1fb"/>
<rect x="545.90" y="2040.26" width="26.10" height="33.01" fill="#d3d1fb"/>
<rect x="572.00" y="2040.26" width="24.80" height="33.01" fill="#d3d1fb"/>
<rect x="596.80" y="2040.26" width="26.00" height="33.01" fill="#d3d1fb"/>
<rect x="622.80" y="2040.26" width="26.10" height="33.01" fill="#d3d1fb"/>
<rect x="648.90" y="2040.26" width="25.80" height="33.01" fill="#d3d1fb"/>
<rect x="674.70" y="2040.26" width="25.90" height="33.01" fill="#d3d1fb"/>
<rect x="700.60" y="2040.26" width="26.10" height="33.01" fill="#d3d1fb"/>
<rect x="726.70" y="2040.26" width="26.00" height="33.01" fill="#d3d1fb"/>
<rect x="752.70" y="2040.26" width="26.10" height="33.01" fill="#d3d1fb"/>
<rect x="778.80" y="2040.26" width="25.90" height="33.01" fill="#d3d1fb"/>
<rect x="804.70" y="2040.26" width="26.20" height="33.01" fill="#d3d1fb"/>
<rect x="830.90" y="2040.26" width="26.10" height="33.01" fill="#d3d1fb"/>
<rect x="866.20" y="2040.26" width="24.40" height="33.01" fill="#f9c5c6"/>
<rect x="890.60" y="2040.26" width="25.90" height="33.01" fill="#fad4d5"/>
<rect x="916.50" y="2040.26" width="25.80" height="33.01" fill="#f06f71"/>
<rect x="942.30" y="2040.26" width="26.20" height="33.01" fill="#f59fa1"/>
<rect x="968.50" y="2040.26" width="25.80" height="33.01" fill="#f49597"/>
<rect x="994.30" y="2040.26" width="25.90" height="33.01" fill="#f59fa1"/>
<rect x="1020.20" y="2040.26" width="26.00" height="33.01" fill="#f9c5c6"/>
<rect x="1046.20" y="2040.26" width="25.90" height="33.01" fill="#f6adaf"/>
<rect x="1072.10" y="2040.26" width="26.10" height="33.01" fill="#f8c0c2"/>
<rect x="1098.20" y="2040.26" width="25.80" height="33.01" fill="#f8bcbd"/>
<rect x="1124.00" y="2040.26" width="26.00" height="33.01" fill="#f1787b"/>
<rect x="1150.00" y="2040.26" width="26.00" height="33.01" fill="#ef6568"/>
<rect x="1185.00" y="2040.26" width="25.70" height="33.01" fill="#f6f5fe"/>
<rect x="1210.70" y="2040.26" width="25.80" height="33.01" fill="#f1f1fe"/>
<rect x="1236.50" y="2040.26" width="26.00" height="33.01" fill="#f1f1fe"/>
<rect x="1262.50" y="2040.26" width="25.90" height="33.01" fill="#f1f1fe"/>
<rect x="1288.40" y="2040.26" width="26.10" height="33.01" fill="#efeefe"/>
<rect x="1314.50" y="2040.26" width="25.90" height="33.01" fill="#fafaff"/>
<rect x="1340.40" y="2040.26" width="26.00" height="33.01" fill="#e8e7fd"/>
<rect x="1366.40" y="2040.26" width="26.10" height="33.01" fill="#f3f3fe"/>
<rect x="1392.50" y="2040.26" width="25.90" height="33.01" fill="#efeefe"/>
<rect x="1418.40" y="2040.26" width="26.10" height="33.01" fill="#f3f3fe"/>
<rect x="225.90" y="2073.27" width="26.10" height="33.01" fill="#d1cffb"/>
<rect x="252.00" y="2073.27" width="25.70" height="33.01" fill="#d1cffb"/>
<rect x="277.70" y="2073.27" width="25.20" height="33.01" fill="#d1cffb"/>
<rect x="302.90" y="2073.27" width="25.70" height="33.01" fill="#d3d1fb"/>
<rect x="328.60" y="2073.27" width="26.00" height="33.01" fill="#d3d1fb"/>
<rect x="354.60" y="2073.27" width="26.00" height="33.01" fill="#d1cffb"/>
<rect x="380.60" y="2073.27" width="25.90" height="33.01" fill="#d1cffb"/>
<rect x="406.50" y="2073.27" width="26.10" height="33.01" fill="#d3d1fb"/>
<rect x="432.60" y="2073.27" width="26.10" height="33.01" fill="#d3d1fb"/>
<rect x="458.70" y="2073.27" width="25.90" height="33.01" fill="#d1cffb"/>
<rect x="484.60" y="2073.27" width="26.00" height="33.01" fill="#d1cffb"/>
<rect x="510.60" y="2073.27" width="26.00" height="33.01" fill="#d1cffb"/>
<rect x="545.90" y="2073.27" width="26.10" height="33.01" fill="#d1cffb"/>
<rect x="572.00" y="2073.27" width="24.80" height="33.01" fill="#d1cffb"/>
<rect x="596.80" y="2073.27" width="26.00" height="33.01" fill="#d1cffb"/>
<rect x="622.80" y="2073.27" width="26.10" height="33.01" fill="#ceccfb"/>
<rect x="648.90" y="2073.27" width="25.80" height="33.01" fill="#d3d1fb"/>
<rect x="674.70" y="2073.27" width="25.90" height="33.01" fill="#d3d1fb"/>
<rect x="700.60" y="2073.27" width="26.10" height="33.01" fill="#d3d1fb"/>
<rect x="726.70" y="2073.27" width="26.00" height="33.01" fill="#d3d1fb"/>
<rect x="752.70" y="2073.27" width="26.10" height="33.01" fill="#d3d1fb"/>
<rect x="778.80" y="2073.27" width="25.90" height="33.01" fill="#d3d1fb"/>
<rect x="804.70" y="2073.27" width="26.20" height="33.01" fill="#d3d1fb"/>
<rect x="830.90" y="2073.27" width="26.10" height="33.01" fill="#d1cffb"/>
<rect x="866.20" y="2073.27" width="24.40" height="33.01" fill="#f8c0c2"/>
<rect x="890.60" y="2073.27" width="25.90" height="33.01" fill="#facfd0"/>
<rect x="916.50" y="2073.27" width="25.80" height="33.01" fill="#ed5255"/>
<rect x="942.30" y="2073.27" width="26.20" height="33.01" fill="#f5a4a5"/>
<rect x="968.50" y="2073.27" width="25.80" height="33.01" fill="#f38c8e"/>
<rect x="994.30" y="2073.27" width="25.90" height="33.01" fill="#f5a4a5"/>
<rect x="1020.20" y="2073.27" width="26.00" height="33.01" fill="#f8bcbd"/>
<rect x="1046.20" y="2073.27" width="25.90" height="33.01" fill="#f9cacb"/>
<rect x="1072.10" y="2073.27" width="26.10" height="33.01" fill="#f7b2b4"/>
<rect x="1098.20" y="2073.27" width="25.80" height="33.01" fill="#f7b7b8"/>
<rect x="1124.00" y="2073.27" width="26.00" height="33.01" fill="#f17d80"/>
<rect x="1150.00" y="2073.27" width="26.00" height="33.01" fill="#f1787b"/>
<rect x="1185.00" y="2073.27" width="25.70" height="33.01" fill="#fffdfd"/>
<rect x="1210.70" y="2073.27" width="25.80" height="33.01" fill="#fafaff"/>
<rect x="1236.50" y="2073.27" width="26.00" height="33.01" fill="#f6f5fe"/>
<rect x="1262.50" y="2073.27" width="25.90" height="33.01" fill="#f6f5fe"/>
<rect x="1288.40" y="2073.27" width="26.10" height="33.01" fill="#f6f5fe"/>
<rect x="1314.50" y="2073.27" width="25.90" height="33.01" fill="#f6f5fe"/>
<rect x="1340.40" y="2073.27" width="26.00" height="33.01" fill="#f1f1fe"/>
<rect x="1366.40" y="2073.27" width="26.10" height="33.01" fill="#f6f5fe"/>
<rect x="1392.50" y="2073.27" width="25.90" height="33.01" fill="#efeefe"/>
<rect x="1418.40" y="2073.27" width="26.10" height="33.01" fill="#fffdfd"/>
<rect x="225.90" y="2106.28" width="26.10" height="33.01" fill="#d5d4fc"/>
<rect x="252.00" y="2106.28" width="25.70" height="33.01" fill="#d5d4fc"/>
<rect x="277.70" y="2106.28" width="25.20" height="33.01" fill="#d5d4fc"/>
<rect x="302.90" y="2106.28" width="25.70" height="33.01" fill="#d5d4fc"/>
<rect x="328.60" y="2106.28" width="26.00" height="33.01" fill="#d5d4fc"/>
<rect x="354.60" y="2106.28" width="26.00" height="33.01" fill="#d5d4fc"/>
<rect x="380.60" y="2106.28" width="25.90" height="33.01" fill="#d5d4fc"/>
<rect x="406.50" y="2106.28" width="26.10" height="33.01" fill="#d5d4fc"/>
<rect x="432.60" y="2106.28" width="26.10" height="33.01" fill="#d5d4fc"/>
<rect x="458.70" y="2106.28" width="25.90" height="33.01" fill="#d5d4fc"/>
<rect x="484.60" y="2106.28" width="26.00" height="33.01" fill="#d5d4fc"/>
<rect x="510.60" y="2106.28" width="26.00" height="33.01" fill="#d5d4fc"/>
<rect x="545.90" y="2106.28" width="26.10" height="33.01" fill="#d5d4fc"/>
<rect x="572.00" y="2106.28" width="24.80" height="33.01" fill="#d5d4fc"/>
<rect x="596.80" y="2106.28" width="26.00" height="33.01" fill="#d5d4fc"/>
<rect x="622.80" y="2106.28" width="26.10" height="33.01" fill="#d5d4fc"/>
<rect x="648.90" y="2106.28" width="25.80" height="33.01" fill="#d5d4fc"/>
<rect x="674.70" y="2106.28" width="25.90" height="33.01" fill="#d5d4fc"/>
<rect x="700.60" y="2106.28" width="26.10" height="33.01" fill="#d5d4fc"/>
<rect x="726.70" y="2106.28" width="26.00" height="33.01" fill="#d5d4fc"/>
<rect x="752.70" y="2106.28" width="26.10" height="33.01" fill="#d5d4fc"/>
<rect x="778.80" y="2106.28" width="25.90" height="33.01" fill="#d5d4fc"/>
<rect x="804.70" y="2106.28" width="26.20" height="33.01" fill="#d5d4fc"/>
<rect x="830.90" y="2106.28" width="26.10" height="33.01" fill="#d5d4fc"/>
<rect x="866.20" y="2106.28" width="24.40" height="33.01" fill="#f6a8aa"/>
<rect x="890.60" y="2106.28" width="25.90" height="33.01" fill="#facfd0"/>
<rect x="916.50" y="2106.28" width="25.80" height="33.01" fill="#f28789"/>
<rect x="942.30" y="2106.28" width="26.20" height="33.01" fill="#f49a9c"/>
<rect x="968.50" y="2106.28" width="25.80" height="33.01" fill="#f49597"/>
<rect x="994.30" y="2106.28" width="25.90" height="33.01" fill="#f6adaf"/>
<rect x="1020.20" y="2106.28" width="26.00" height="33.01" fill="#f28789"/>
<rect x="1046.20" y="2106.28" width="25.90" height="33.01" fill="#f6a8aa"/>
<rect x="1072.10" y="2106.28" width="26.10" height="33.01" fill="#f5a4a5"/>
<rect x="1098.20" y="2106.28" width="25.80" height="33.01" fill="#f8c0c2"/>
<rect x="1124.00" y="2106.28" width="26.00" height="33.01" fill="#eb3f42"/>
<rect x="1150.00" y="2106.28" width="26.00" height="33.01" fill="#f39093"/>
<rect x="1185.00" y="2106.28" width="25.70" height="33.01" fill="#efeefe"/>
<rect x="1210.70" y="2106.28" width="25.80" height="33.01" fill="#e3e2fd"/>
<rect x="1236.50" y="2106.28" width="26.00" height="33.01" fill="#e6e5fd"/>
<rect x="1262.50" y="2106.28" width="25.90" height="33.01" fill="#eae9fd"/>
<rect x="1288.40" y="2106.28" width="26.10" height="33.01" fill="#e6e5fd"/>
<rect x="1314.50" y="2106.28" width="25.90" height="33.01" fill="#e8e7fd"/>
<rect x="1340.40" y="2106.28" width="26.00" height="33.01" fill="#e1e0fd"/>
<rect x="1366.40" y="2106.28" width="26.10" height="33.01" fill="#e6e5fd"/>
<rect x="1392.50" y="2106.28" width="25.90" height="33.01" fill="#e8e7fd"/>
<rect x="1418.40" y="2106.28" width="26.10" height="33.01" fill="#eae9fd"/>
<rect x="225.90" y="2139.29" width="26.10" height="33.01" fill="#dcdbfc"/>
<rect x="252.00" y="2139.29" width="25.70" height="33.01" fill="#dfddfc"/>
<rect x="277.70" y="2139.29" width="25.20" height="33.01" fill="#dcdbfc"/>
<rect x="302.90" y="2139.29" width="25.70" height="33.01" fill="#dcdbfc"/>
<rect x="328.60" y="2139.29" width="26.00" height="33.01" fill="#dcdbfc"/>
<rect x="354.60" y="2139.29" width="26.00" height="33.01" fill="#d8d6fc"/>
<rect x="380.60" y="2139.29" width="25.90" height="33.01" fill="#d8d6fc"/>
<rect x="406.50" y="2139.29" width="26.10" height="33.01" fill="#dcdbfc"/>
<rect x="432.60" y="2139.29" width="26.10" height="33.01" fill="#e1e0fd"/>
<rect x="458.70" y="2139.29" width="25.90" height="33.01" fill="#dad9fc"/>
<rect x="484.60" y="2139.29" width="26.00" height="33.01" fill="#dad9fc"/>
<rect x="510.60" y="2139.29" width="26.00" height="33.01" fill="#d8d6fc"/>
<rect x="545.90" y="2139.29" width="26.10" height="33.01" fill="#d3d1fb"/>
<rect x="572.00" y="2139.29" width="24.80" height="33.01" fill="#d5d4fc"/>
<rect x="596.80" y="2139.29" width="26.00" height="33.01" fill="#d3d1fb"/>
<rect x="622.80" y="2139.29" width="26.10" height="33.01" fill="#d5d4fc"/>
<rect x="648.90" y="2139.29" width="25.80" height="33.01" fill="#d1cffb"/>
<rect x="674.70" y="2139.29" width="25.90" height="33.01" fill="#d5d4fc"/>
<rect x="700.60" y="2139.29" width="26.10" height="33.01" fill="#d1cffb"/>
<rect x="726.70" y="2139.29" width="26.00" height="33.01" fill="#ceccfb"/>
<rect x="752.70" y="2139.29" width="26.10" height="33.01" fill="#d3d1fb"/>
<rect x="778.80" y="2139.29" width="25.90" height="33.01" fill="#d5d4fc"/>
<rect x="804.70" y="2139.29" width="26.20" height="33.01" fill="#d3d1fb"/>
<rect x="830.90" y="2139.29" width="26.10" height="33.01" fill="#d5d4fc"/>
<rect x="866.20" y="2139.29" width="24.40" height="33.01" fill="#facfd0"/>
<rect x="890.60" y="2139.29" width="25.90" height="33.01" fill="#f8c0c2"/>
<rect x="916.50" y="2139.29" width="25.80" height="33.01" fill="#f1787b"/>
<rect x="942.30" y="2139.29" width="26.20" height="33.01" fill="#f59fa1"/>
<rect x="968.50" y="2139.29" width="25.80" height="33.01" fill="#f39093"/>
<rect x="994.30" y="2139.29" width="25.90" height="33.01" fill="#f59fa1"/>
<rect x="1020.20" y="2139.29" width="26.00" height="33.01" fill="#f59fa1"/>
<rect x="1046.20" y="2139.29" width="25.90" height="33.01" fill="#f59fa1"/>
<rect x="1072.10" y="2139.29" width="26.10" height="33.01" fill="#f6a8aa"/>
<rect x="1098.20" y="2139.29" width="25.80" height="33.01" fill="#f8bcbd"/>
<rect x="1124.00" y="2139.29" width="26.00" height="33.01" fill="#ec484c"/>
<rect x="1150.00" y="2139.29" width="26.00" height="33.01" fill="#f59fa1"/>
<rect x="1185.00" y="2139.29" width="25.70" height="33.01" fill="#f1f1fe"/>
<rect x="1210.70" y="2139.29" width="25.80" height="33.01" fill="#dcdbfc"/>
<rect x="1236.50" y="2139.29" width="26.00" height="33.01" fill="#edecfd"/>
<rect x="1262.50" y="2139.29" width="25.90" height="33.01" fill="#e8e7fd"/>
<rect x="1288.40" y="2139.29" width="26.10" height="33.01" fill="#eae9fd"/>
<rect x="1314.50" y="2139.29" width="25.90" height="33.01" fill="#e8e7fd"/>
<rect x="1340.40" y="2139.29" width="26.00" height="33.01" fill="#e6e5fd"/>
<rect x="1366.40" y="2139.29" width="26.10" height="33.01" fill="#eae9fd"/>
<rect x="1392.50" y="2139.29" width="25.90" height="33.01" fill="#e8e7fd"/>
<rect x="1418.40" y="2139.29" width="26.10" height="33.01" fill="#eae9fd"/>
<rect x="225.90" y="2172.30" width="26.10" height="33.01" fill="#dcdbfc"/>
<rect x="252.00" y="2172.30" width="25.70" height="33.01" fill="#d5d4fc"/>
<rect x="277.70" y="2172.30" width="25.20" height="33.01" fill="#dad9fc"/>
<rect x="302.90" y="2172.30" width="25.70" height="33.01" fill="#dad9fc"/>
<rect x="328.60" y="2172.30" width="26.00" height="33.01" fill="#dad9fc"/>
<rect x="354.60" y="2172.30" width="26.00" height="33.01" fill="#dad9fc"/>
<rect x="380.60" y="2172.30" width="25.90" height="33.01" fill="#dad9fc"/>
<rect x="406.50" y="2172.30" width="26.10" height="33.01" fill="#dad9fc"/>
<rect x="432.60" y="2172.30" width="26.10" height="33.01" fill="#dad9fc"/>
<rect x="458.70" y="2172.30" width="25.90" height="33.01" fill="#d8d6fc"/>
<rect x="484.60" y="2172.30" width="26.00" height="33.01" fill="#d8d6fc"/>
<rect x="510.60" y="2172.30" width="26.00" height="33.01" fill="#dad9fc"/>
<rect x="545.90" y="2172.30" width="26.10" height="33.01" fill="#d8d6fc"/>
<rect x="572.00" y="2172.30" width="24.80" height="33.01" fill="#d8d6fc"/>
<rect x="596.80" y="2172.30" width="26.00" height="33.01" fill="#d8d6fc"/>
<rect x="622.80" y="2172.30" width="26.10" height="33.01" fill="#d5d4fc"/>
<rect x="648.90" y="2172.30" width="25.80" height="33.01" fill="#dad9fc"/>
<rect x="674.70" y="2172.30" width="25.90" height="33.01" fill="#d8d6fc"/>
<rect x="700.60" y="2172.30" width="26.10" height="33.01" fill="#d8d6fc"/>
<rect x="726.70" y="2172.30" width="26.00" height="33.01" fill="#d8d6fc"/>
<rect x="752.70" y="2172.30" width="26.10" height="33.01" fill="#d5d4fc"/>
<rect x="778.80" y="2172.30" width="25.90" height="33.01" fill="#d8d6fc"/>
<rect x="804.70" y="2172.30" width="26.20" height="33.01" fill="#d8d6fc"/>
<rect x="830.90" y="2172.30" width="26.10" height="33.01" fill="#d8d6fc"/>
<rect x="866.20" y="2172.30" width="24.40" height="33.01" fill="#facfd0"/>
<rect x="890.60" y="2172.30" width="25.90" height="33.01" fill="#fad4d5"/>
<rect x="916.50" y="2172.30" width="25.80" height="33.01" fill="#ee6063"/>
<rect x="942.30" y="2172.30" width="26.20" height="33.01" fill="#f5a4a5"/>
<rect x="968.50" y="2172.30" width="25.80" height="33.01" fill="#f49597"/>
<rect x="994.30" y="2172.30" width="25.90" height="33.01" fill="#f7b2b4"/>
<rect x="1020.20" y="2172.30" width="26.00" height="33.01" fill="#f5a4a5"/>
<rect x="1046.20" y="2172.30" width="25.90" height="33.01" fill="#f28789"/>
<rect x="1072.10" y="2172.30" width="26.10" height="33.01" fill="#f8bcbd"/>
<rect x="1098.20" y="2172.30" width="25.80" height="33.01" fill="#f7b7b8"/>
<rect x="1124.00" y="2172.30" width="26.00" height="33.01" fill="#ec4d50"/>
<rect x="1150.00" y="2172.30" width="26.00" height="33.01" fill="#f1787b"/>
<rect x="1185.00" y="2172.30" width="25.70" height="33.01" fill="#dfddfc"/>
<rect x="1210.70" y="2172.30" width="25.80" height="33.01" fill="#dfddfc"/>
<rect x="1236.50" y="2172.30" width="26.00" height="33.01" fill="#dcdbfc"/>
<rect x="1262.50" y="2172.30" width="25.90" height="33.01" fill="#efeefe"/>
<rect x="1288.40" y="2172.30" width="26.10" height="33.01" fill="#e1e0fd"/>
<rect x="1314.50" y="2172.30" width="25.90" height="33.01" fill="#e6e5fd"/>
<rect x="1340.40" y="2172.30" width="26.00" height="33.01" fill="#dad9fc"/>
<rect x="1366.40" y="2172.30" width="26.10" height="33.01" fill="#edecfd"/>
<rect x="1392.50" y="2172.30" width="25.90" height="33.01" fill="#e3e2fd"/>
<rect x="1418.40" y="2172.30" width="26.10" height="33.01" fill="#f8f8fe"/>
<rect x="225.90" y="2205.31" width="26.10" height="33.01" fill="#d1cffb"/>
<rect x="252.00" y="2205.31" width="25.70" height="33.01" fill="#ceccfb"/>
<rect x="277.70" y="2205.31" width="25.20" height="33.01" fill="#d1cffb"/>
<rect x="302.90" y="2205.31" width="25.70" height="33.01" fill="#d3d1fb"/>
<rect x="328.60" y="2205.31" width="26.00" height="33.01" fill="#d3d1fb"/>
<rect x="354.60" y="2205.31" width="26.00" height="33.01" fill="#d1cffb"/>
<rect x="380.60" y="2205.31" width="25.90" height="33.01" fill="#d1cffb"/>
<rect x="406.50" y="2205.31" width="26.10" height="33.01" fill="#d3d1fb"/>
<rect x="432.60" y="2205.31" width="26.10" height="33.01" fill="#d3d1fb"/>
<rect x="458.70" y="2205.31" width="25.90" height="33.01" fill="#d3d1fb"/>
<rect x="484.60" y="2205.31" width="26.00" height="33.01" fill="#d5d4fc"/>
<rect x="510.60" y="2205.31" width="26.00" height="33.01" fill="#d5d4fc"/>
<rect x="545.90" y="2205.31" width="26.10" height="33.01" fill="#dad9fc"/>
<rect x="572.00" y="2205.31" width="24.80" height="33.01" fill="#dcdbfc"/>
<rect x="596.80" y="2205.31" width="26.00" height="33.01" fill="#dcdbfc"/>
<rect x="622.80" y="2205.31" width="26.10" height="33.01" fill="#dad9fc"/>
<rect x="648.90" y="2205.31" width="25.80" height="33.01" fill="#dad9fc"/>
<rect x="674.70" y="2205.31" width="25.90" height="33.01" fill="#d8d6fc"/>
<rect x="700.60" y="2205.31" width="26.10" height="33.01" fill="#dad9fc"/>
<rect x="726.70" y="2205.31" width="26.00" height="33.01" fill="#d8d6fc"/>
<rect x="752.70" y="2205.31" width="26.10" height="33.01" fill="#edecfd"/>
<rect x="778.80" y="2205.31" width="25.90" height="33.01" fill="#e6e5fd"/>
<rect x="804.70" y="2205.31" width="26.20" height="33.01" fill="#e6e5fd"/>
<rect x="830.90" y="2205.31" width="26.10" height="33.01" fill="#e6e5fd"/>
<rect x="866.20" y="2205.31" width="24.40" height="33.01" fill="#f9c5c6"/>
<rect x="890.60" y="2205.31" width="25.90" height="33.01" fill="#f9c5c6"/>
<rect x="916.50" y="2205.31" width="25.80" height="33.01" fill="#f28789"/>
<rect x="942.30" y="2205.31" width="26.20" height="33.01" fill="#f59fa1"/>
<rect x="968.50" y="2205.31" width="25.80" height="33.01" fill="#f49597"/>
<rect x="994.30" y="2205.31" width="25.90" height="33.01" fill="#f6a8aa"/>
<rect x="1020.20" y="2205.31" width="26.00" height="33.01" fill="#f59fa1"/>
<rect x="1046.20" y="2205.31" width="25.90" height="33.01" fill="#f39093"/>
<rect x="1072.10" y="2205.31" width="26.10" height="33.01" fill="#f6a8aa"/>
<rect x="1098.20" y="2205.31" width="25.80" height="33.01" fill="#f7b2b4"/>
<rect x="1124.00" y="2205.31" width="26.00" height="33.01" fill="#ec484c"/>
<rect x="1150.00" y="2205.31" width="26.00" height="33.01" fill="#f39093"/>
<rect x="1185.00" y="2205.31" width="25.70" height="33.01" fill="#dfddfc"/>
<rect x="1210.70" y="2205.31" width="25.80" height="33.01" fill="#e6e5fd"/>
<rect x="1236.50" y="2205.31" width="26.00" height="33.01" fill="#dfddfc"/>
<rect x="1262.50" y="2205.31" width="25.90" height="33.01" fill="#f3f3fe"/>
<rect x="1288.40" y="2205.31" width="26.10" height="33.01" fill="#eae9fd"/>
<rect x="1314.50" y="2205.31" width="25.90" height="33.01" fill="#eae9fd"/>
<rect x="1340.40" y="2205.31" width="26.00" height="33.01" fill="#e1e0fd"/>
<rect x="1366.40" y="2205.31" width="26.10" height="33.01" fill="#eae9fd"/>
<rect x="1392.50" y="2205.31" width="25.90" height="33.01" fill="#edecfd"/>
<rect x="1418.40" y="2205.31" width="26.10" height="33.01" fill="#f1f1fe"/>
<rect x="225.90" y="2238.32" width="26.10" height="33.01" fill="#e1e0fd"/>
<rect x="252.00" y="2238.32" width="25.70" height="33.01" fill="#dcdbfc"/>
<rect x="277.70" y="2238.32" width="25.20" height="33.01" fill="#e1e0fd"/>
<rect x="302.90" y="2238.32" width="25.70" height="33.01" fill="#d8d6fc"/>
<rect x="328.60" y="2238.32" width="26.00" height="33.01" fill="#f6f5fe"/>
<rect x="354.60" y="2238.32" width="26.00" height="33.01" fill="#f1f1fe"/>
<rect x="380.60" y="2238.32" width="25.90" height="33.01" fill="#f6f5fe"/>
<rect x="406.50" y="2238.32" width="26.10" height="33.01" fill="#d8d6fc"/>
<rect x="432.60" y="2238.32" width="26.10" height="33.01" fill="#d8d6fc"/>
<rect x="458.70" y="2238.32" width="25.90" height="33.01" fill="#e8e7fd"/>
<rect x="484.60" y="2238.32" width="26.00" height="33.01" fill="#ceccfb"/>
<rect x="510.60" y="2238.32" width="26.00" height="33.01" fill="#dfddfc"/>
<rect x="545.90" y="2238.32" width="26.10" height="33.01" fill="#d1cffb"/>
<rect x="572.00" y="2238.32" width="24.80" height="33.01" fill="#cccafb"/>
<rect x="596.80" y="2238.32" width="26.00" height="33.01" fill="#d1cffb"/>
<rect x="622.80" y="2238.32" width="26.10" height="33.01" fill="#d8d6fc"/>
<rect x="648.90" y="2238.32" width="25.80" height="33.01" fill="#cac8fb"/>
<rect x="674.70" y="2238.32" width="25.90" height="33.01" fill="#d3d1fb"/>
<rect x="700.60" y="2238.32" width="26.10" height="33.01" fill="#d3d1fb"/>
<rect x="726.70" y="2238.32" width="26.00" height="33.01" fill="#ceccfb"/>
<rect x="752.70" y="2238.32" width="26.10" height="33.01" fill="#d1cffb"/>
<rect x="778.80" y="2238.32" width="25.90" height="33.01" fill="#d3d1fb"/>
<rect x="804.70" y="2238.32" width="26.20" height="33.01" fill="#cccafb"/>
<rect x="830.90" y="2238.32" width="26.10" height="33.01" fill="#cac8fb"/>
<rect x="866.20" y="2238.32" width="24.40" height="33.01" fill="#f6a8aa"/>
<rect x="890.60" y="2238.32" width="25.90" height="33.01" fill="#f28789"/>
<rect x="916.50" y="2238.32" width="25.80" height="33.01" fill="#f28789"/>
<rect x="942.30" y="2238.32" width="26.20" height="33.01" fill="#f8c0c2"/>
<rect x="968.50" y="2238.32" width="25.80" height="33.01" fill="#f5a4a5"/>
<rect x="994.30" y="2238.32" width="25.90" height="33.01" fill="#fce7e7"/>
<rect x="1020.20" y="2238.32" width="26.00" height="33.01" fill="#f9c5c6"/>
<rect x="1046.20" y="2238.32" width="25.90" height="33.01" fill="#f07376"/>
<rect x="1072.10" y="2238.32" width="26.10" height="33.01" fill="#f49597"/>
<rect x="1098.20" y="2238.32" width="25.80" height="33.01" fill="#fbd9d9"/>
<rect x="1124.00" y="2238.32" width="26.00" height="33.01" fill="#ee6063"/>
<rect x="1150.00" y="2238.32" width="26.00" height="33.01" fill="#f59fa1"/>
<rect x="1185.00" y="2238.32" width="25.70" height="33.01" fill="#dad9fc"/>
<rect x="1210.70" y="2238.32" width="25.80" height="33.01" fill="#dad9fc"/>
<rect x="1236.50" y="2238.32" width="26.00" height="33.01" fill="#fdf1f1"/>
<rect x="1262.50" y="2238.32" width="25.90" height="33.01" fill="#d1cffb"/>
<rect x="1288.40" y="2238.32" width="26.10" height="33.01" fill="#e6e5fd"/>
<rect x="1314.50" y="2238.32" width="25.90" height="33.01" fill="#f1f1fe"/>
<rect x="1340.40" y="2238.32" width="26.00" height="33.01" fill="#eae9fd"/>
<rect x="1366.40" y="2238.32" width="26.10" height="33.01" fill="#edecfd"/>
<rect x="1392.50" y="2238.32" width="25.90" height="33.01" fill="#edecfd"/>
<rect x="1418.40" y="2238.32" width="26.10" height="33.01" fill="#fafaff"/>
<rect x="225.90" y="2271.33" width="26.10" height="33.01" fill="#e6e5fd"/>
<rect x="252.00" y="2271.33" width="25.70" height="33.01" fill="#e1e0fd"/>
<rect x="277.70" y="2271.33" width="25.20" height="33.01" fill="#dfddfc"/>
<rect x="302.90" y="2271.33" width="25.70" height="33.01" fill="#eae9fd"/>
<rect x="328.60" y="2271.33" width="26.00" height="33.01" fill="#e1e0fd"/>
<rect x="354.60" y="2271.33" width="26.00" height="33.01" fill="#e6e5fd"/>
<rect x="380.60" y="2271.33" width="25.90" height="33.01" fill="#edecfd"/>
<rect x="406.50" y="2271.33" width="26.10" height="33.01" fill="#eae9fd"/>
<rect x="432.60" y="2271.33" width="26.10" height="33.01" fill="#e6e5fd"/>
<rect x="458.70" y="2271.33" width="25.90" height="33.01" fill="#e3e2fd"/>
<rect x="484.60" y="2271.33" width="26.00" height="33.01" fill="#e1e0fd"/>
<rect x="510.60" y="2271.33" width="26.00" height="33.01" fill="#e1e0fd"/>
<rect x="545.90" y="2271.33" width="26.10" height="33.01" fill="#d1cffb"/>
<rect x="572.00" y="2271.33" width="24.80" height="33.01" fill="#cac8fb"/>
<rect x="596.80" y="2271.33" width="26.00" height="33.01" fill="#d1cffb"/>
<rect x="622.80" y="2271.33" width="26.10" height="33.01" fill="#ceccfb"/>
<rect x="648.90" y="2271.33" width="25.80" height="33.01" fill="#cccafb"/>
<rect x="674.70" y="2271.33" width="25.90" height="33.01" fill="#d1cffb"/>
<rect x="700.60" y="2271.33" width="26.10" height="33.01" fill="#ceccfb"/>
<rect x="726.70" y="2271.33" width="26.00" height="33.01" fill="#cccafb"/>
<rect x="752.70" y="2271.33" width="26.10" height="33.01" fill="#ceccfb"/>
<rect x="778.80" y="2271.33" width="25.90" height="33.01" fill="#d1cffb"/>
<rect x="804.70" y="2271.33" width="26.20" height="33.01" fill="#cccafb"/>
<rect x="830.90" y="2271.33" width="26.10" height="33.01" fill="#d1cffb"/>
<rect x="866.20" y="2271.33" width="24.40" height="33.01" fill="#f6a8aa"/>
<rect x="890.60" y="2271.33" width="25.90" height="33.01" fill="#f7b2b4"/>
<rect x="916.50" y="2271.33" width="25.80" height="33.01" fill="#f38c8e"/>
<rect x="942.30" y="2271.33" width="26.20" height="33.01" fill="#f7b2b4"/>
<rect x="968.50" y="2271.33" width="25.80" height="33.01" fill="#f28789"/>
<rect x="994.30" y="2271.33" width="25.90" height="33.01" fill="#fbd9d9"/>
<rect x="1020.20" y="2271.33" width="26.00" height="33.01" fill="#fce2e3"/>
<rect x="1046.20" y="2271.33" width="25.90" height="33.01" fill="#f59fa1"/>
<rect x="1072.10" y="2271.33" width="26.10" height="33.01" fill="#f49597"/>
<rect x="1098.20" y="2271.33" width="25.80" height="33.01" fill="#f28789"/>
<rect x="1124.00" y="2271.33" width="26.00" height="33.01" fill="#eb3f42"/>
<rect x="1150.00" y="2271.33" width="26.00" height="33.01" fill="#fbd9d9"/>
<rect x="1185.00" y="2271.33" width="25.70" height="33.01" fill="#fef3f3"/>
<rect x="1210.70" y="2271.33" width="25.80" height="33.01" fill="#eae9fd"/>
<rect x="1236.50" y="2271.33" width="26.00" height="33.01" fill="#dcdbfc"/>
<rect x="1262.50" y="2271.33" width="25.90" height="33.01" fill="#d8d6fc"/>
<rect x="1288.40" y="2271.33" width="26.10" height="33.01" fill="#dfddfc"/>
<rect x="1314.50" y="2271.33" width="25.90" height="33.01" fill="#e8e7fd"/>
<rect x="1340.40" y="2271.33" width="26.00" height="33.01" fill="#dad9fc"/>
<rect x="1366.40" y="2271.33" width="26.10" height="33.01" fill="#dfddfc"/>
<rect x="1392.50" y="2271.33" width="25.90" height="33.01" fill="#e8e7fd"/>
<rect x="1418.40" y="2271.33" width="26.10" height="33.01" fill="#d8d6fc"/>
<rect x="225.90" y="2304.34" width="26.10" height="33.01" fill="#d8d6fc"/>
<rect x="252.00" y="2304.34" width="25.70" height="33.01" fill="#d8d6fc"/>
<rect x="277.70" y="2304.34" width="25.20" height="33.01" fill="#d8d6fc"/>
<rect x="302.90" y="2304.34" width="25.70" height="33.01" fill="#dad9fc"/>
<rect x="328.60" y="2304.34" width="26.00" height="33.01" fill="#dad9fc"/>
<rect x="354.60" y="2304.34" width="26.00" height="33.01" fill="#dad9fc"/>
<rect x="380.60" y="2304.34" width="25.90" height="33.01" fill="#dcdbfc"/>
<rect x="406.50" y="2304.34" width="26.10" height="33.01" fill="#d8d6fc"/>
<rect x="432.60" y="2304.34" width="26.10" height="33.01" fill="#d8d6fc"/>
<rect x="458.70" y="2304.34" width="25.90" height="33.01" fill="#d8d6fc"/>
<rect x="484.60" y="2304.34" width="26.00" height="33.01" fill="#d8d6fc"/>
<rect x="510.60" y="2304.34" width="26.00" height="33.01" fill="#d8d6fc"/>
<rect x="545.90" y="2304.34" width="26.10" height="33.01" fill="#d5d4fc"/>
<rect x="572.00" y="2304.34" width="24.80" height="33.01" fill="#d5d4fc"/>
<rect x="596.80" y="2304.34" width="26.00" height="33.01" fill="#d5d4fc"/>
<rect x="622.80" y="2304.34" width="26.10" height="33.01" fill="#d5d4fc"/>
<rect x="648.90" y="2304.34" width="25.80" height="33.01" fill="#d5d4fc"/>
<rect x="674.70" y="2304.34" width="25.90" height="33.01" fill="#d5d4fc"/>
<rect x="700.60" y="2304.34" width="26.10" height="33.01" fill="#d5d4fc"/>
<rect x="726.70" y="2304.34" width="26.00" height="33.01" fill="#d5d4fc"/>
<rect x="752.70" y="2304.34" width="26.10" height="33.01" fill="#d5d4fc"/>
<rect x="778.80" y="2304.34" width="25.90" height="33.01" fill="#d5d4fc"/>
<rect x="804.70" y="2304.34" width="26.20" height="33.01" fill="#d5d4fc"/>
<rect x="830.90" y="2304.34" width="26.10" height="33.01" fill="#d5d4fc"/>
<rect x="866.20" y="2304.34" width="24.40" height="33.01" fill="#f59fa1"/>
<rect x="890.60" y="2304.34" width="25.90" height="33.01" fill="#fbd9d9"/>
<rect x="916.50" y="2304.34" width="25.80" height="33.01" fill="#f39093"/>
<rect x="942.30" y="2304.34" width="26.20" height="33.01" fill="#f38c8e"/>
<rect x="968.50" y="2304.34" width="25.80" height="33.01" fill="#f49597"/>
<rect x="994.30" y="2304.34" width="25.90" height="33.01" fill="#fdecec"/>
<rect x="1020.20" y="2304.34" width="26.00" height="33.01" fill="#fbd9d9"/>
<rect x="1046.20" y="2304.34" width="25.90" height="33.01" fill="#f7b2b4"/>
<rect x="1072.10" y="2304.34" width="26.10" height="33.01" fill="#f49597"/>
<rect x="1098.20" y="2304.34" width="25.80" height="33.01" fill="#f49a9c"/>
<rect x="1124.00" y="2304.34" width="26.00" height="33.01" fill="#e8262b"/>
<rect x="1150.00" y="2304.34" width="26.00" height="33.01" fill="#f5a4a5"/>
<rect x="1185.00" y="2304.34" width="25.70" height="33.01" fill="#fffefe"/>
<rect x="1210.70" y="2304.34" width="25.80" height="33.01" fill="#f1f1fe"/>
<rect x="1236.50" y="2304.34" width="26.00" height="33.01" fill="#f3f3fe"/>
<rect x="1262.50" y="2304.34" width="25.90" height="33.01" fill="#e3e2fd"/>
<rect x="1288.40" y="2304.34" width="26.10" height="33.01" fill="#edecfd"/>
<rect x="1314.50" y="2304.34" width="25.90" height="33.01" fill="#f1f1fe"/>
<rect x="1340.40" y="2304.34" width="26.00" height="33.01" fill="#dfddfc"/>
<rect x="1366.40" y="2304.34" width="26.10" height="33.01" fill="#fafaff"/>
<rect x="1392.50" y="2304.34" width="25.90" height="33.01" fill="#fffdfd"/>
<rect x="1418.40" y="2304.34" width="26.10" height="33.01" fill="#efeefe"/>
<rect x="225.90" y="2337.35" width="26.10" height="33.15" fill="#d3d1fb"/>
<rect x="252.00" y="2337.35" width="25.70" height="33.15" fill="#d3d1fb"/>
<rect x="277.70" y="2337.35" width="25.20" height="33.15" fill="#d3d1fb"/>
<rect x="302.90" y="2337.35" width="25.70" height="33.15" fill="#d3d1fb"/>
<rect x="328.60" y="2337.35" width="26.00" height="33.15" fill="#d3d1fb"/>
<rect x="354.60" y="2337.35" width="26.00" height="33.15" fill="#d3d1fb"/>
<rect x="380.60" y="2337.35" width="25.90" height="33.15" fill="#d3d1fb"/>
<rect x="406.50" y="2337.35" width="26.10" height="33.15" fill="#d3d1fb"/>
<rect x="432.60" y="2337.35" width="26.10" height="33.15" fill="#d3d1fb"/>
<rect x="458.70" y="2337.35" width="25.90" height="33.15" fill="#d3d1fb"/>
<rect x="484.60" y="2337.35" width="26.00" height="33.15" fill="#d3d1fb"/>
<rect x="510.60" y="2337.35" width="26.00" height="33.15" fill="#d3d1fb"/>
<rect x="545.90" y="2337.35" width="26.10" height="33.15" fill="#d3d1fb"/>
<rect x="572.00" y="2337.35" width="24.80" height="33.15" fill="#d3d1fb"/>
<rect x="596.80" y="2337.35" width="26.00" height="33.15" fill="#d3d1fb"/>
<rect x="622.80" y="2337.35" width="26.10" height="33.15" fill="#d3d1fb"/>
<rect x="648.90" y="2337.35" width="25.80" height="33.15" fill="#d3d1fb"/>
<rect x="674.70" y="2337.35" width="25.90" height="33.15" fill="#d3d1fb"/>
<rect x="700.60" y="2337.35" width="26.10" height="33.15" fill="#d3d1fb"/>
<rect x="726.70" y="2337.35" width="26.00" height="33.15" fill="#d3d1fb"/>
<rect x="752.70" y="2337.35" width="26.10" height="33.15" fill="#d3d1fb"/>
<rect x="778.80" y="2337.35" width="25.90" height="33.15" fill="#d3d1fb"/>
<rect x="804.70" y="2337.35" width="26.20" height="33.15" fill="#d3d1fb"/>
<rect x="830.90" y="2337.35" width="26.10" height="33.15" fill="#d3d1fb"/>
<rect x="866.20" y="2337.35" width="24.40" height="33.15" fill="#f9cacb"/>
<rect x="890.60" y="2337.35" width="25.90" height="33.15" fill="#f8bcbd"/>
<rect x="916.50" y="2337.35" width="25.80" height="33.15" fill="#f38c8e"/>
<rect x="942.30" y="2337.35" width="26.20" height="33.15" fill="#f6a8aa"/>
<rect x="968.50" y="2337.35" width="25.80" height="33.15" fill="#f38c8e"/>
<rect x="994.30" y="2337.35" width="25.90" height="33.15" fill="#fbd9d9"/>
<rect x="1020.20" y="2337.35" width="26.00" height="33.15" fill="#facfd0"/>
<rect x="1046.20" y="2337.35" width="25.90" height="33.15" fill="#ef6568"/>
<rect x="1072.10" y="2337.35" width="26.10" height="33.15" fill="#f6a8aa"/>
<rect x="1098.20" y="2337.35" width="25.80" height="33.15" fill="#f49a9c"/>
<rect x="1124.00" y="2337.35" width="26.00" height="33.15" fill="#ee5b5f"/>
<rect x="1150.00" y="2337.35" width="26.00" height="33.15" fill="#f5a4a5"/>
<rect x="1185.00" y="2337.35" width="25.70" height="33.15" fill="#e8e7fd"/>
<rect x="1210.70" y="2337.35" width="25.80" height="33.15" fill="#fafaff"/>
<rect x="1236.50" y="2337.35" width="26.00" height="33.15" fill="#efeefe"/>
<rect x="1262.50" y="2337.35" width="25.90" height="33.15" fill="#f1f1fe"/>
<rect x="1288.40" y="2337.35" width="26.10" height="33.15" fill="#fafaff"/>
<rect x="1314.50" y="2337.35" width="25.90" height="33.15" fill="#fafaff"/>
<rect x="1340.40" y="2337.35" width="26.00" height="33.15" fill="#f6f5fe"/>
<rect x="1366.40" y="2337.35" width="26.10" height="33.15" fill="#fafaff"/>
<rect x="1392.50" y="2337.35" width="25.90" height="33.15" fill="#fef8f8"/>
<rect x="1418.40" y="2337.35" width="26.10" height="33.15" fill="#fdfdff"/>
</g>
<g stroke="#878787" stroke-width="1.4">
<rect x="225.90" y="1.70" width="26.10" height="21.80" fill="#2b2b2b"/>
<rect x="225.90" y="28.50" width="26.10" height="21.80" fill="#fd8f0b"/>
<rect x="225.90" y="55.30" width="26.10" height="21.90" fill="#1bc4c6"/>
<rect x="252.00" y="1.70" width="25.70" height="21.80" fill="#2b2b2b"/>
<rect x="252.00" y="28.50" width="25.70" height="21.80" fill="#fd8f0b"/>
<rect x="252.00" y="55.30" width="25.70" height="21.90" fill="#1bc4c6"/>
<rect x="277.70" y="1.70" width="25.20" height="21.80" fill="#2b2b2b"/>
<rect x="277.70" y="28.50" width="25.20" height="21.80" fill="#fd8f0b"/>
<rect x="277.70" y="55.30" width="25.20" height="21.90" fill="#1bc4c6"/>
<rect x="302.90" y="1.70" width="25.70" height="21.80" fill="#2b2b2b"/>
<rect x="302.90" y="28.50" width="25.70" height="21.80" fill="#fd8f0b"/>
<rect x="302.90" y="55.30" width="25.70" height="21.90" fill="#1bc4c6"/>
<rect x="328.60" y="1.70" width="26.00" height="21.80" fill="#5e5e5e"/>
<rect x="328.60" y="28.50" width="26.00" height="21.80" fill="#fd8f0b"/>
<rect x="328.60" y="55.30" width="26.00" height="21.90" fill="#1bc4c6"/>
<rect x="354.60" y="1.70" width="26.00" height="21.80" fill="#5e5e5e"/>
<rect x="354.60" y="28.50" width="26.00" height="21.80" fill="#fd8f0b"/>
<rect x="354.60" y="55.30" width="26.00" height="21.90" fill="#1bc4c6"/>
<rect x="380.60" y="1.70" width="25.90" height="21.80" fill="#5e5e5e"/>
<rect x="380.60" y="28.50" width="25.90" height="21.80" fill="#fd8f0b"/>
<rect x="380.60" y="55.30" width="25.90" height="21.90" fill="#1bc4c6"/>
<rect x="406.50" y="1.70" width="26.10" height="21.80" fill="#5e5e5e"/>
<rect x="406.50" y="28.50" width="26.10" height="21.80" fill="#fd8f0b"/>
<rect x="406.50" y="55.30" width="26.10" height="21.90" fill="#1bc4c6"/>
<rect x="432.60" y="1.70" width="26.10" height="21.80" fill="#d6d6d6"/>
<rect x="432.60" y="28.50" width="26.10" height="21.80" fill="#fd8f0b"/>
<rect x="432.60" y="55.30" width="26.10" height="21.90" fill="#1bc4c6"/>
<rect x="458.70" y="1.70" width="25.90" height="21.80" fill="#d6d6d6"/>
<rect x="458.70" y="28.50" width="25.90" height="21.80" fill="#fd8f0b"/>
<rect x="458.70" y="55.30" width="25.90" height="21.90" fill="#1bc4c6"/>
<rect x="484.60" y="1.70" width="26.00" height="21.80" fill="#d6d6d6"/>
<rect x="484.60" y="28.50" width="26.00" height="21.80" fill="#fd8f0b"/>
<rect x="484.60" y="55.30" width="26.00" height="21.90" fill="#1bc4c6"/>
<rect x="510.60" y="1.70" width="26.00" height="21.80" fill="#d6d6d6"/>
<rect x="510.60" y="28.50" width="26.00" height="21.80" fill="#fd8f0b"/>
<rect x="510.60" y="55.30" width="26.00" height="21.90" fill="#1bc4c6"/>
<rect x="545.90" y="1.70" width="26.10" height="21.80" fill="#2b2b2b"/>
<rect x="545.90" y="28.50" width="26.10" height="21.80" fill="#49ed81"/>
<rect x="545.90" y="55.30" width="26.10" height="21.90" fill="#1bc4c6"/>
<rect x="572.00" y="1.70" width="24.80" height="21.80" fill="#2b2b2b"/>
<rect x="572.00" y="28.50" width="24.80" height="21.80" fill="#49ed81"/>
<rect x="572.00" y="55.30" width="24.80" height="21.90" fill="#1bc4c6"/>
<rect x="596.80" y="1.70" width="26.00" height="21.80" fill="#2b2b2b"/>
<rect x="596.80" y="28.50" width="26.00" height="21.80" fill="#49ed81"/>
<rect x="596.80" y="55.30" width="26.00" height="21.90" fill="#1bc4c6"/>
<rect x="622.80" y="1.70" width="26.10" height="21.80" fill="#2b2b2b"/>
<rect x="622.80" y="28.50" width="26.10" height="21.80" fill="#49ed81"/>
<rect x="622.80" y="55.30" width="26.10" height="21.90" fill="#1bc4c6"/>
<rect x="648.90" y="1.70" width="25.80" height="21.80" fill="#5e5e5e"/>
<rect x="648.90" y="28.50" width="25.80" height="21.80" fill="#49ed81"/>
<rect x="648.90" y="55.30" width="25.80" height="21.90" fill="#1bc4c6"/>
<rect x="674.70" y="1.70" width="25.90" height="21.80" fill="#5e5e5e"/>
<rect x="674.70" y="28.50" width="25.90" height="21.80" fill="#49ed81"/>
<rect x="674.70" y="55.30" width="25.90" height="21.90" fill="#1bc4c6"/>
<rect x="700.60" y="1.70" width="26.10" height="21.80" fill="#5e5e5e"/>
<rect x="700.60" y="28.50" width="26.10" height="21.80" fill="#49ed81"/>
<rect x="700.60" y="55.30" width="26.10" height="21.90" fill="#1bc4c6"/>
<rect x="726.70" y="1.70" width="26.00" height="21.80" fill="#5e5e5e"/>
<rect x="726.70" y="28.50" width="26.00" height="21.80" fill="#49ed81"/>
<rect x="726.70" y="55.30" width="26.00" height="21.90" fill="#1bc4c6"/>
<rect x="752.70" y="1.70" width="26.10" height="21.80" fill="#d6d6d6"/>
<rect x="752.70" y="28.50" width="26.10" height="21.80" fill="#49ed81"/>
<rect x="752.70" y="55.30" width="26.10" height="21.90" fill="#1bc4c6"/>
<rect x="778.80" y="1.70" width="25.90" height="21.80" fill="#d6d6d6"/>
<rect x="778.80" y="28.50" width="25.90" height="21.80" fill="#49ed81"/>
<rect x="778.80" y="55.30" width="25.90" height="21.90" fill="#1bc4c6"/>
<rect x="804.70" y="1.70" width="26.20" height="21.80" fill="#d6d6d6"/>
<rect x="804.70" y="28.50" width="26.20" height="21.80" fill="#49ed81"/>
<rect x="804.70" y="55.30" width="26.20" height="21.90" fill="#1bc4c6"/>
<rect x="830.90" y="1.70" width="26.10" height="21.80" fill="#d6d6d6"/>
<rect x="830.90" y="28.50" width="26.10" height="21.80" fill="#49ed81"/>
<rect x="830.90" y="55.30" width="26.10" height="21.90" fill="#1bc4c6"/>
<rect x="866.20" y="1.70" width="24.40" height="21.80" fill="#2b2b2b"/>
<rect x="866.20" y="28.50" width="24.40" height="21.80" fill="#fd8f0b"/>
<rect x="866.20" y="55.30" width="24.40" height="21.90" fill="#bf0060"/>
<rect x="890.60" y="1.70" width="25.90" height="21.80" fill="#2b2b2b"/>
<rect x="890.60" y="28.50" width="25.90" height="21.80" fill="#fd8f0b"/>
<rect x="890.60" y="55.30" width="25.90" height="21.90" fill="#bf0060"/>
<rect x="916.50" y="1.70" width="25.80" height="21.80" fill="#2b2b2b"/>
<rect x="916.50" y="28.50" width="25.80" height="21.80" fill="#fd8f0b"/>
<rect x="916.50" y="55.30" width="25.80" height="21.90" fill="#bf0060"/>
<rect x="942.30" y="1.70" width="26.20" height="21.80" fill="#2b2b2b"/>
<rect x="942.30" y="28.50" width="26.20" height="21.80" fill="#fd8f0b"/>
<rect x="942.30" y="55.30" width="26.20" height="21.90" fill="#bf0060"/>
<rect x="968.50" y="1.70" width="25.80" height="21.80" fill="#5e5e5e"/>
<rect x="968.50" y="28.50" width="25.80" height="21.80" fill="#fd8f0b"/>
<rect x="968.50" y="55.30" width="25.80" height="21.90" fill="#bf0060"/>
<rect x="994.30" y="1.70" width="25.90" height="21.80" fill="#5e5e5e"/>
<rect x="994.30" y="28.50" width="25.90" height="21.80" fill="#fd8f0b"/>
<rect x="994.30" y="55.30" width="25.90" height="21.90" fill="#bf0060"/>
<rect x="1020.20" y="1.70" width="26.00" height="21.80" fill="#5e5e5e"/>
<rect x="1020.20" y="28.50" width="26.00" height="21.80" fill="#fd8f0b"/>
<rect x="1020.20" y="55.30" width="26.00" height="21.90" fill="#bf0060"/>
<rect x="1046.20" y="1.70" width="25.90" height="21.80" fill="#5e5e5e"/>
<rect x="1046.20" y="28.50" width="25.90" height="21.80" fill="#fd8f0b"/>
<rect x="1046.20" y="55.30" width="25.90" height="21.90" fill="#bf0060"/>
<rect x="1072.10" y="1.70" width="26.10" height="21.80" fill="#d6d6d6"/>
<rect x="1072.10" y="28.50" width="26.10" height="21.80" fill="#fd8f0b"/>
<rect x="1072.10" y="55.30" width="26.10" height="21.90" fill="#bf0060"/>
<rect x="1098.20" y="1.70" width="25.80" height="21.80" fill="#d6d6d6"/>
<rect x="1098.20" y="28.50" width="25.80" height="21.80" fill="#fd8f0b"/>
<rect x="1098.20" y="55.30" width="25.80" height="21.90" fill="#bf0060"/>
<rect x="1124.00" y="1.70" width="26.00" height="21.80" fill="#d6d6d6"/>
<rect x="1124.00" y="28.50" width="26.00" height="21.80" fill="#fd8f0b"/>
<rect x="1124.00" y="55.30" width="26.00" height="21.90" fill="#bf0060"/>
<rect x="1150.00" y="1.70" width="26.00" height="21.80" fill="#d6d6d6"/>
<rect x="1150.00" y="28.50" width="26.00" height="21.80" fill="#fd8f0b"/>
<rect x="1150.00" y="55.30" width="26.00" height="21.90" fill="#bf0060"/>
<rect x="1185.00" y="1.70" width="25.70" height="21.80" fill="#2b2b2b"/>
<rect x="1185.00" y="28.50" width="25.70" height="21.80" fill="#49ed81"/>
<rect x="1185.00" y="55.30" width="25.70" height="21.90" fill="#bf0060"/>
<rect x="1210.70" y="1.70" width="25.80" height="21.80" fill="#2b2b2b"/>
<rect x="1210.70" y="28.50" width="25.80" height="21.80" fill="#49ed81"/>
<rect x="1210.70" y="55.30" width="25.80" height="21.90" fill="#bf0060"/>
<rect x="1236.50" y="1.70" width="26.00" height="21.80" fill="#2b2b2b"/>
<rect x="1236.50" y="28.50" width="26.00" height="21.80" fill="#49ed81"/>
<rect x="1236.50" y="55.30" width="26.00" height="21.90" fill="#bf0060"/>
<rect x="1262.50" y="1.70" width="25.90" height="21.80" fill="#5e5e5e"/>
<rect x="1262.50" y="28.50" width="25.90" height="21.80" fill="#49ed81"/>
<rect x="1262.50" y="55.30" width="25.90" height="21.90" fill="#bf0060"/>
<rect x="1288.40" y="1.70" width="26.10" height="21.80" fill="#5e5e5e"/>
<rect x="1288.40" y="28.50" width="26.10" height="21.80" fill="#49ed81"/>
<rect x="1288.40" y="55.30" width="26.10" height="21.90" fill="#bf0060"/>
<rect x="1314.50" y="1.70" width="25.90" height="21.80" fill="#5e5e5e"/>
<rect x="1314.50" y="28.50" width="25.90" height="21.80" fill="#49ed81"/>
<rect x="1314.50" y="55.30" width="25.90" height="21.90" fill="#bf0060"/>
<rect x="1340.40" y="1.70" width="26.00" height="21.80" fill="#5e5e5e"/>
<rect x="1340.40" y="28.50" width="26.00" height="21.80" fill="#49ed81"/>
<rect x="1340.40" y="55.30" width="26.00" height="21.90" fill="#bf0060"/>
<rect x="1366.40" y="1.70" width="26.10" height="21.80" fill="#d6d6d6"/>
<rect x="1366.40" y="28.50" width="26.10" height="21.80" fill="#49ed81"/>
<rect x="1366.40" y="55.30" width="26.10" height="21.90" fill="#bf0060"/>
<rect x="1392.50" y="1.70" width="25.90" height="21.80" fill="#d6d6d6"/>
<rect x="1392.50" y="28.50" width="25.90" height="21.80" fill="#49ed81"/>
<rect x="1392.50" y="55.30" width="25.90" height="21.90" fill="#bf0060"/>
<rect x="1418.40" y="1.70" width="26.10" height="21.80" fill="#d6d6d6"/>
<rect x="1418.40" y="28.50" width="26.10" height="21.80" fill="#49ed81"/>
<rect x="1418.40" y="55.30" width="26.10" height="21.90" fill="#bf0060"/>
</g>
<g stroke="#878787" stroke-width="1.4">
<rect x="142.90" y="84.00" width="22.00" height="33.04" fill="#f8f8ff"/>
<rect x="169.80" y="84.00" width="22.10" height="33.04" fill="#f8f8ff"/>
<rect x="196.70" y="84.00" width="22.20" height="33.04" fill="#f8f8ff"/>
<rect x="142.90" y="117.04" width="22.00" height="33.04" fill="#f8f8ff"/>
<rect x="169.80" y="117.04" width="22.10" height="33.04" fill="#f8f8ff"/>
<rect x="196.70" y="117.04" width="22.20" height="33.04" fill="#f8f8ff"/>
<rect x="142.90" y="150.08" width="22.00" height="33.04" fill="#f8f8ff"/>
<rect x="169.80" y="150.08" width="22.10" height="33.04" fill="#f8f8ff"/>
<rect x="196.70" y="150.08" width="22.20" height="33.04" fill="#f8f8ff"/>
<rect x="142.90" y="183.12" width="22.00" height="33.04" fill="#f8f8ff"/>
<rect x="169.80" y="183.12" width="22.10" height="33.04" fill="#f8f8ff"/>
<rect x="196.70" y="183.12" width="22.20" height="33.04" fill="#f8f8ff"/>
<rect x="142.90" y="216.16" width="22.00" height="33.04" fill="#f8f8ff"/>
<rect x="169.80" y="216.16" width="22.10" height="33.04" fill="#f8f8ff"/>
<rect x="196.70" y="216.16" width="22.20" height="33.04" fill="#f8f8ff"/>
<rect x="142.90" y="249.20" width="22.00" height="33.04" fill="#f8f8ff"/>
<rect x="169.80" y="249.20" width="22.10" height="33.04" fill="#f8f8ff"/>
<rect x="196.70" y="249.20" width="22.20" height="33.04" fill="#f8f8ff"/>
<rect x="142.90" y="282.24" width="22.00" height="33.04" fill="#f8f8ff"/>
<rect x="169.80" y="282.24" width="22.10" height="33.04" fill="#f8f8ff"/>
<rect x="196.70" y="282.24" width="22.20" height="33.04" fill="#f8f8ff"/>
<rect x="142.90" y="315.28" width="22.00" height="33.04" fill="#f8f8ff"/>
<rect x="169.80" y="315.28" width="22.10" height="33.04" fill="#f8f8ff"/>
<rect x="196.70" y="315.28" width="22.20" height="33.04" fill="#f8f8ff"/>
<rect x="142.90" y="348.32" width="22.00" height="33.04" fill="#f8f8ff"/>
<rect x="169.80" y="348.32" width="22.10" height="33.04" fill="#f8f8ff"/>
<rect x="196.70" y="348.32" width="22.20" height="33.04" fill="#f8f8ff"/>
<rect x="142.90" y="381.36" width="22.00" height="33.04" fill="#f8f8ff"/>
<rect x="169.80" y="381.36" width="22.10" height="33.04" fill="#f8f8ff"/>
<rect x="196.70" y="381.36" width="22.20" height="33.04" fill="#f8f8ff"/>
<rect x="142.90" y="414.40" width="22.00" height="33.04" fill="#f8f8ff"/>
<rect x="169.80" y="414.40" width="22.10" height="33.04" fill="#f8f8ff"/>
<rect x="196.70" y="414.40" width="22.20" height="33.04" fill="#f8f8ff"/>
<rect x="142.90" y="447.44" width="22.00" height="33.04" fill="#f8f8ff"/>
<rect x="169.80" y="447.44" width="22.10" height="33.04" fill="#f8f8ff"/>
<rect x="196.70" y="447.44" width="22.20" height="33.04" fill="#f8f8ff"/>
<rect x="142.90" y="480.48" width="22.00" height="33.04" fill="#f8f8ff"/>
<rect x="169.80" y="480.48" width="22.10" height="33.04" fill="#f8f8ff"/>
<rect x="196.70" y="480.48" width="22.20" height="33.04" fill="#f8f8ff"/>
<rect x="142.90" y="513.52" width="22.00" height="33.04" fill="#f8f8ff"/>
<rect x="169.80" y="513.52" width="22.10" height="33.04" fill="#f8f8ff"/>
<rect x="196.70" y="513.52" width="22.20" height="33.04" fill="#f8f8ff"/>
<rect x="142.90" y="546.56" width="22.00" height="33.04" fill="#f8f8ff"/>
<rect x="169.80" y="546.56" width="22.10" height="33.04" fill="#b3429a"/>
<rect x="196.70" y="546.56" width="22.20" height="33.04" fill="#f8f8ff"/>
<rect x="142.90" y="579.60" width="22.00" height="33.04" fill="#f8f8ff"/>
<rect x="169.80" y="579.60" width="22.10" height="33.04" fill="#f8f8ff"/>
<rect x="196.70" y="579.60" width="22.20" height="33.04" fill="#f8f8ff"/>
<rect x="142.90" y="612.64" width="22.00" height="33.04" fill="#f8f8ff"/>
<rect x="169.80" y="612.64" width="22.10" height="33.04" fill="#f8f8ff"/>
<rect x="196.70" y="612.64" width="22.20" height="33.04" fill="#f8f8ff"/>
<rect x="142.90" y="645.68" width="22.00" height="33.04" fill="#f8f8ff"/>
<rect x="169.80" y="645.68" width="22.10" height="33.04" fill="#f8f8ff"/>
<rect x="196.70" y="645.68" width="22.20" height="33.04" fill="#f8f8ff"/>
<rect x="142.90" y="678.72" width="22.00" height="33.04" fill="#f8f8ff"/>
<rect x="169.80" y="678.72" width="22.10" height="33.04" fill="#f8f8ff"/>
<rect x="196.70" y="678.72" width="22.20" height="33.04" fill="#f8f8ff"/>
<rect x="142.90" y="711.76" width="22.00" height="33.04" fill="#f8f8ff"/>
<rect x="169.80" y="711.76" width="22.10" height="33.04" fill="#f8f8ff"/>
<rect x="196.70" y="711.76" width="22.20" height="33.04" fill="#f8f8ff"/>
<rect x="142.90" y="744.80" width="22.00" height="33.04" fill="#f8f8ff"/>
<rect x="169.80" y="744.80" width="22.10" height="33.04" fill="#f8f8ff"/>
<rect x="196.70" y="744.80" width="22.20" height="33.04" fill="#f8f8ff"/>
<rect x="142.90" y="777.84" width="22.00" height="33.04" fill="#f8f8ff"/>
<rect x="169.80" y="777.84" width="22.10" height="33.04" fill="#f8f8ff"/>
<rect x="196.70" y="777.84" width="22.20" height="33.04" fill="#f8f8ff"/>
<rect x="142.90" y="810.88" width="22.00" height="32.02" fill="#f8f8ff"/>
<rect x="169.80" y="810.88" width="22.10" height="32.02" fill="#f8f8ff"/>
<rect x="196.70" y="810.88" width="22.20" height="32.02" fill="#f8f8ff"/>
<rect x="142.90" y="851.90" width="22.00" height="33.01" fill="#f8f8ff"/>
<rect x="169.80" y="851.90" width="22.10" height="33.01" fill="#f8f8ff"/>
<rect x="196.70" y="851.90" width="22.20" height="33.01" fill="#f8f8ff"/>
<rect x="142.90" y="884.91" width="22.00" height="33.01" fill="#f8f8ff"/>
<rect x="169.80" y="884.91" width="22.10" height="33.01" fill="#f8f8ff"/>
<rect x="196.70" y="884.91" width="22.20" height="33.01" fill="#f8f8ff"/>
<rect x="142.90" y="917.92" width="22.00" height="33.01" fill="#f8f8ff"/>
<rect x="169.80" y="917.92" width="22.10" height="33.01" fill="#f8f8ff"/>
<rect x="196.70" y="917.92" width="22.20" height="33.01" fill="#f8f8ff"/>
<rect x="142.90" y="950.93" width="22.00" height="33.01" fill="#f8f8ff"/>
<rect x="169.80" y="950.93" width="22.10" height="33.01" fill="#f8f8ff"/>
<rect x="196.70" y="950.93" width="22.20" height="33.01" fill="#f8f8ff"/>
<rect x="142.90" y="983.94" width="22.00" height="33.01" fill="#f8f8ff"/>
<rect x="169.80" y="983.94" width="22.10" height="33.01" fill="#f8f8ff"/>
<rect x="196.70" y="983.94" width="22.20" height="33.01" fill="#f8f8ff"/>
<rect x="142.90" y="1016.95" width="22.00" height="33.01" fill="#f8f8ff"/>
<rect x="169.80" y="1016.95" width="22.10" height="33.01" fill="#f8f8ff"/>
<rect x="196.70" y="1016.95" width="22.20" height="33.01" fill="#f8f8ff"/>
<rect x="142.90" y="1049.96" width="22.00" height="33.01" fill="#f8f8ff"/>
<rect x="169.80" y="1049.96" width="22.10" height="33.01" fill="#f8f8ff"/>
<rect x="196.70" y="1049.96" width="22.20" height="33.01" fill="#f8f8ff"/>
<rect x="142.90" y="1082.97" width="22.00" height="33.01" fill="#f8f8ff"/>
<rect x="169.80" y="1082.97" width="22.10" height="33.01" fill="#f8f8ff"/>
<rect x="196.70" y="1082.97" width="22.20" height="33.01" fill="#f8f8ff"/>
<rect x="142.90" y="1115.98" width="22.00" height="33.01" fill="#2b1d47"/>
<rect x="169.80" y="1115.98" width="22.10" height="33.01" fill="#f8f8ff"/>
<rect x="196.70" y="1115.98" width="22.20" height="33.01" fill="#f8f8ff"/>
<rect x="142.90" y="1148.99" width="22.00" height="33.01" fill="#f8f8ff"/>
<rect x="169.80" y="1148.99" width="22.10" height="33.01" fill="#f8f8ff"/>
<rect x="196.70" y="1148.99" width="22.20" height="33.01" fill="#f8f8ff"/>
<rect x="142.90" y="1182.00" width="22.00" height="33.01" fill="#f8f8ff"/>
<rect x="169.80" y="1182.00" width="22.10" height="33.01" fill="#f8f8ff"/>
<rect x="196.70" y="1182.00" width="22.20" height="33.01" fill="#f8f8ff"/>
<rect x="142.90" y="1215.01" width="22.00" height="33.01" fill="#f8f8ff"/>
<rect x="169.80" y="1215.01" width="22.10" height="33.01" fill="#b3429a"/>
<rect x="196.70" y="1215.01" width="22.20" height="33.01" fill="#f8f8ff"/>
<rect x="142.90" y="1248.02" width="22.00" height="33.01" fill="#f8f8ff"/>
<rect x="169.80" y="1248.02" width="22.10" height="33.01" fill="#f8f8ff"/>
<rect x="196.70" y="1248.02" width="22.20" height="33.01" fill="#f8f8ff"/>
<rect x="142.90" y="1281.03" width="22.00" height="33.01" fill="#f8f8ff"/>
<rect x="169.80" y="1281.03" width="22.10" height="33.01" fill="#f8f8ff"/>
<rect x="196.70" y="1281.03" width="22.20" height="33.01" fill="#f8f8ff"/>
<rect x="142.90" y="1314.04" width="22.00" height="33.01" fill="#f8f8ff"/>
<rect x="169.80" y="1314.04" width="22.10" height="33.01" fill="#f8f8ff"/>
<rect x="196.70" y="1314.04" width="22.20" height="33.01" fill="#f8f8ff"/>
<rect x="142.90" y="1347.05" width="22.00" height="33.01" fill="#f8f8ff"/>
<rect x="169.80" y="1347.05" width="22.10" height="33.01" fill="#f8f8ff"/>
<rect x="196.70" y="1347.05" width="22.20" height="33.01" fill="#f8f8ff"/>
<rect x="142.90" y="1380.06" width="22.00" height="33.01" fill="#f8f8ff"/>
<rect x="169.80" y="1380.06" width="22.10" height="33.01" fill="#f8f8ff"/>
<rect x="196.70" y="1380.06" width="22.20" height="33.01" fill="#f8f8ff"/>
<rect x="142.90" y="1413.07" width="22.00" height="33.01" fill="#f8f8ff"/>
<rect x="169.80" y="1413.07" width="22.10" height="33.01" fill="#f8f8ff"/>
<rect x="196.70" y="1413.07" width="22.20" height="33.01" fill="#f8f8ff"/>
<rect x="142.90" y="1446.08" width="22.00" height="33.01" fill="#f8f8ff"/>
<rect x="169.80" y="1446.08" width="22.10" height="33.01" fill="#b3429a"/>
<rect x="196.70" y="1446.08" width="22.20" height="33.01" fill="#662369"/>
<rect x="142.90" y="1479.09" width="22.00" height="33.01" fill="#f8f8ff"/>
<rect x="169.80" y="1479.09" width="22.10" height="33.01" fill="#f8f8ff"/>
<rect x="196.70" y="1479.09" width="22.20" height="33.01" fill="#f8f8ff"/>
<rect x="142.90" y="1512.10" width="22.00" height="33.01" fill="#f8f8ff"/>
<rect x="169.80" y="1512.10" width="22.10" height="33.01" fill="#f8f8ff"/>
<rect x="196.70" y="1512.10" width="22.20" height="33.01" fill="#f8f8ff"/>
<rect x="142.90" y="1545.11" width="22.00" height="33.01" fill="#f8f8ff"/>
<rect x="169.80" y="1545.11" width="22.10" height="33.01" fill="#f8f8ff"/>
<rect x="196.70" y="1545.11" width="22.20" height="33.01" fill="#f8f8ff"/>
<rect x="142.90" y="1578.12" width="22.00" height="33.01" fill="#f8f8ff"/>
<rect x="169.80" y="1578.12" width="22.10" height="33.01" fill="#b3429a"/>
<rect x="196.70" y="1578.12" width="22.20" height="33.01" fill="#f8f8ff"/>
<rect x="142.90" y="1611.13" width="22.00" height="33.01" fill="#f8f8ff"/>
<rect x="169.80" y="1611.13" width="22.10" height="33.01" fill="#f8f8ff"/>
<rect x="196.70" y="1611.13" width="22.20" height="33.01" fill="#f8f8ff"/>
<rect x="142.90" y="1644.14" width="22.00" height="33.01" fill="#2b1d47"/>
<rect x="169.80" y="1644.14" width="22.10" height="33.01" fill="#b3429a"/>
<rect x="196.70" y="1644.14" width="22.20" height="33.01" fill="#662369"/>
<rect x="142.90" y="1677.15" width="22.00" height="33.01" fill="#f8f8ff"/>
<rect x="169.80" y="1677.15" width="22.10" height="33.01" fill="#b3429a"/>
<rect x="196.70" y="1677.15" width="22.20" height="33.01" fill="#662369"/>
<rect x="142.90" y="1710.16" width="22.00" height="33.01" fill="#f8f8ff"/>
<rect x="169.80" y="1710.16" width="22.10" height="33.01" fill="#b3429a"/>
<rect x="196.70" y="1710.16" width="22.20" height="33.01" fill="#662369"/>
<rect x="142.90" y="1743.17" width="22.00" height="33.01" fill="#2b1d47"/>
<rect x="169.80" y="1743.17" width="22.10" height="33.01" fill="#b3429a"/>
<rect x="196.70" y="1743.17" width="22.20" height="33.01" fill="#f8f8ff"/>
<rect x="142.90" y="1776.18" width="22.00" height="33.01" fill="#f8f8ff"/>
<rect x="169.80" y="1776.18" width="22.10" height="33.01" fill="#b3429a"/>
<rect x="196.70" y="1776.18" width="22.20" height="33.01" fill="#662369"/>
<rect x="142.90" y="1809.19" width="22.00" height="33.01" fill="#2b1d47"/>
<rect x="169.80" y="1809.19" width="22.10" height="33.01" fill="#b3429a"/>
<rect x="196.70" y="1809.19" width="22.20" height="33.01" fill="#f8f8ff"/>
<rect x="142.90" y="1842.20" width="22.00" height="33.01" fill="#2b1d47"/>
<rect x="169.80" y="1842.20" width="22.10" height="33.01" fill="#b3429a"/>
<rect x="196.70" y="1842.20" width="22.20" height="33.01" fill="#662369"/>
<rect x="142.90" y="1875.21" width="22.00" height="33.01" fill="#2b1d47"/>
<rect x="169.80" y="1875.21" width="22.10" height="33.01" fill="#b3429a"/>
<rect x="196.70" y="1875.21" width="22.20" height="33.01" fill="#662369"/>
<rect x="142.90" y="1908.22" width="22.00" height="33.01" fill="#2b1d47"/>
<rect x="169.80" y="1908.22" width="22.10" height="33.01" fill="#b3429a"/>
<rect x="196.70" y="1908.22" width="22.20" height="33.01" fill="#f8f8ff"/>
<rect x="142.90" y="1941.23" width="22.00" height="33.01" fill="#2b1d47"/>
<rect x="169.80" y="1941.23" width="22.10" height="33.01" fill="#b3429a"/>
<rect x="196.70" y="1941.23" width="22.20" height="33.01" fill="#f8f8ff"/>
<rect x="142.90" y="1974.24" width="22.00" height="33.01" fill="#f8f8ff"/>
<rect x="169.80" y="1974.24" width="22.10" height="33.01" fill="#b3429a"/>
<rect x="196.70" y="1974.24" width="22.20" height="33.01" fill="#662369"/>
<rect x="142.90" y="2007.25" width="22.00" height="33.01" fill="#2b1d47"/>
<rect x="169.80" y="2007.25" width="22.10" height="33.01" fill="#b3429a"/>
<rect x="196.70" y="2007.25" width="22.20" height="33.01" fill="#662369"/>
<rect x="142.90" y="2040.26" width="22.00" height="33.01" fill="#2b1d47"/>
<rect x="169.80" y="2040.26" width="22.10" height="33.01" fill="#f8f8ff"/>
<rect x="196.70" y="2040.26" width="22.20" height="33.01" fill="#f8f8ff"/>
<rect x="142.90" y="2073.27" width="22.00" height="33.01" fill="#2b1d47"/>
<rect x="169.80" y="2073.27" width="22.10" height="33.01" fill="#f8f8ff"/>
<rect x="196.70" y="2073.27" width="22.20" height="33.01" fill="#662369"/>
<rect x="142.90" y="2106.28" width="22.00" height="33.01" fill="#2b1d47"/>
<rect x="169.80" y="2106.28" width="22.10" height="33.01" fill="#b3429a"/>
<rect x="196.70" y="2106.28" width="22.20" height="33.01" fill="#662369"/>
<rect x="142.90" y="2139.29" width="22.00" height="33.01" fill="#f8f8ff"/>
<rect x="169.80" y="2139.29" width="22.10" height="33.01" fill="#b3429a"/>
<rect x="196.70" y="2139.29" width="22.20" height="33.01" fill="#662369"/>
<rect x="142.90" y="2172.30" width="22.00" height="33.01" fill="#f8f8ff"/>
<rect x="169.80" y="2172.30" width="22.10" height="33.01" fill="#f8f8ff"/>
<rect x="196.70" y="2172.30" width="22.20" height="33.01" fill="#f8f8ff"/>
<rect x="142.90" y="2205.31" width="22.00" height="33.01" fill="#2b1d47"/>
<rect x="169.80" y="2205.31" width="22.10" height="33.01" fill="#b3429a"/>
<rect x="196.70" y="2205.31" width="22.20" height="33.01" fill="#662369"/>
<rect x="142.90" y="2238.32" width="22.00" height="33.01" fill="#f8f8ff"/>
<rect x="169.80" y="2238.32" width="22.10" height="33.01" fill="#f8f8ff"/>
<rect x="196.70" y="2238.32" width="22.20" height="33.01" fill="#f8f8ff"/>
<rect x="142.90" y="2271.33" width="22.00" height="33.01" fill="#f8f8ff"/>
<rect x="169.80" y="2271.33" width="22.10" height="33.01" fill="#f8f8ff"/>
<rect x="196.70" y="2271.33" width="22.20" height="33.01" fill="#f8f8ff"/>
<rect x="142.90" y="2304.34" width="22.00" height="33.01" fill="#f8f8ff"/>
<rect x="169.80" y="2304.34" width="22.10" height="33.01" fill="#f8f8ff"/>
<rect x="196.70" y="2304.34" width="22.20" height="33.01" fill="#f8f8ff"/>
<rect x="142.90" y="2337.35" width="22.00" height="33.15" fill="#f8f8ff"/>
<rect x="169.80" y="2337.35" width="22.10" height="33.15" fill="#f8f8ff"/>
<rect x="196.70" y="2337.35" width="22.20" height="33.15" fill="#f8f8ff"/>
</g>
<path d="M140.50 133.56H114.50V166.60H140.50 M140.50 100.52H103.50V150.08H114.50 M140.50 232.68H110.40V265.72H140.50 M140.50 331.80H127.30V364.84H140.50 M140.50 298.76H123.40V348.32H127.30 M140.50 397.88H120.60V430.92H140.50 M123.40 323.54H116.80V414.40H120.60 M140.50 463.96H116.30V497.00H140.50 M116.80 368.97H114.50V480.48H116.30 M140.50 530.04H120.60V563.08H140.50 M140.50 596.12H117.30V629.16H140.50 M120.60 546.56H113.50V612.64H117.30 M114.50 424.73H104.60V579.60H113.50 M110.40 249.20H100.00V502.16H104.60 M140.50 728.28H119.40V761.32H140.50 M140.50 794.36H117.50V826.89H140.50 M119.40 744.80H112.70V810.62H117.50 M140.50 695.24H100.90V777.71H112.70 M140.50 662.20H95.10V736.48H100.90 M100.00 375.68H85.50V699.34H95.10 M140.50 199.64H76.80V537.51H85.50 M103.50 125.30H68.20V368.57H76.80 M140.50 1000.44H116.10V1033.45H140.50 M140.50 967.43H109.70V1016.95H116.10 M140.50 934.42H108.30V992.19H109.70 M140.50 901.41H98.70V963.31H108.30 M140.50 868.40H91.50V932.36H98.70 M140.50 1132.49H96.30V1165.49H140.50 M140.50 1099.47H89.10V1148.99H96.30 M140.50 1066.47H80.00V1124.23H89.10 M140.50 1264.53H116.10V1297.53H140.50 M140.50 1231.51H100.90V1281.03H116.10 M140.50 1198.51H90.90V1256.27H100.90 M140.50 1330.55H96.30V1363.55H140.50 M140.50 1396.57H105.40V1429.57H140.50 M140.50 1528.61H123.00V1561.61H140.50 M140.50 1495.59H118.70V1545.11H123.00 M140.50 1462.59H116.60V1520.35H118.70 M140.50 1594.62H109.70V1627.63H140.50 M116.60 1491.47H108.80V1611.13H109.70 M140.50 1693.65H116.60V1726.66H140.50 M140.50 1660.64H106.00V1710.16H116.60 M108.80 1551.30H102.80V1685.40H106.00 M140.50 1858.70H132.10V1891.71H140.50 M140.50 1825.69H130.00V1875.21H132.10 M140.50 1957.73H131.50V1990.74H140.50 M140.50 1924.72H126.60V1974.24H131.50 M130.00 1850.45H124.40V1949.48H126.60 M140.50 1792.68H121.20V1899.97H124.40 M140.50 1759.67H117.50V1846.33H121.20 M140.50 2056.76H130.30V2089.77H140.50 M140.50 2023.75H126.60V2073.27H130.30 M140.50 2122.78H127.50V2155.80H140.50 M140.50 2188.80H125.10V2221.81H140.50 M127.50 2139.29H122.80V2205.31H125.10 M126.60 2048.51H113.90V2172.30H122.80 M117.50 1803.00H112.70V2110.41H113.90 M140.50 2320.84H118.10V2353.93H140.50 M140.50 2287.84H113.40V2337.39H118.10 M140.50 2254.82H108.30V2312.61H113.40 M112.70 1956.70H100.10V2283.72H108.30 M102.80 1618.35H95.50V2120.21H100.10 M105.40 1413.07H89.70V1869.28H95.50 M96.30 1347.05H84.20V1641.18H89.70 M90.90 1227.39H77.00V1494.11H84.20 M80.00 1095.35H69.70V1360.75H77.00 M91.50 900.38H67.20V1228.05H69.70 M68.20 246.94H1.30V1064.22H67.20" fill="none" stroke="#000" stroke-width="1.45" stroke-linejoin="miter" stroke-linecap="square"/>
<g font-family="Liberation Sans, Arial, sans-serif" font-style="italic" font-size="20" fill="#000">
<text x="1452" y="107.72">RHCG</text>
<text x="1452" y="140.76">HMGCS2</text>
<text x="1452" y="173.80">HHIP</text>
<text x="1452" y="206.84">CACNA1B</text>
<text x="1452" y="239.88">TREM1</text>
<text x="1452" y="272.92">ANGPTL4</text>
<text x="1452" y="305.96">FOXS1</text>
<text x="1452" y="339.00">CCL24</text>
<text x="1452" y="372.04">G0S2</text>
<text x="1452" y="405.08">HSD11B1</text>
<text x="1452" y="438.12">SBSN</text>
<text x="1452" y="471.16">FAM83A</text>
<text x="1452" y="504.20">APCDD1L</text>
<text x="1452" y="537.24">HAS1</text>
<text x="1452" y="570.28">FPR1</text>
<text x="1452" y="603.32">ADAMTS18</text>
<text x="1452" y="636.36">NOX5</text>
<text x="1452" y="669.40">MMP28</text>
<text x="1452" y="702.44">LOXL1</text>
<text x="1452" y="735.48">CCL26</text>
<text x="1452" y="768.52">CAMK1D</text>
<text x="1452" y="801.56">CYP26B1</text>
<text x="1452" y="834.09">EBF2</text>
<text x="1452" y="875.61">SGCD</text>
<text x="1452" y="908.62">PROM1</text>
<text x="1452" y="941.62">SPON2</text>
<text x="1452" y="974.63">DCN</text>
<text x="1452" y="1007.64">ABCA6</text>
<text x="1452" y="1040.65">APOD</text>
<text x="1452" y="1073.67">MPZL3</text>
<text x="1452" y="1106.67">IFNL1</text>
<text x="1452" y="1139.69">IFNB1</text>
<text x="1452" y="1172.69">HSH2D</text>
<text x="1452" y="1205.71">NOS1</text>
<text x="1452" y="1238.71">TNFSF10</text>
<text x="1452" y="1271.73">LRFN5</text>
<text x="1452" y="1304.73">LDB2</text>
<text x="1452" y="1337.75">FAM135B</text>
<text x="1452" y="1370.75">FLRT2</text>
<text x="1452" y="1403.77">RTN1</text>
<text x="1452" y="1436.77">HMCN1</text>
<text x="1452" y="1469.79">DHX58</text>
<text x="1452" y="1502.79">SESN3</text>
<text x="1452" y="1535.81">AGTR1</text>
<text x="1452" y="1568.81">CSGALNACT1</text>
<text x="1452" y="1601.83">LCP2</text>
<text x="1452" y="1634.83">MAMDC2</text>
<text x="1452" y="1667.85">IFIT2</text>
<text x="1452" y="1700.86">CXCL10</text>
<text x="1452" y="1733.87">CXCL11</text>
<text x="1452" y="1766.88">XAF1</text>
<text x="1452" y="1799.88">EPSTI1</text>
<text x="1452" y="1832.89">IFIT1</text>
<text x="1452" y="1865.90">MX1</text>
<text x="1452" y="1898.91">ISG15</text>
<text x="1452" y="1931.92">DDX58</text>
<text x="1452" y="1964.93">OAS2</text>
<text x="1452" y="1997.94">IFI44L</text>
<text x="1452" y="2030.95">IFI27</text>
<text x="1452" y="2063.96">IFI6</text>
<text x="1452" y="2096.97">IFITM1</text>
<text x="1452" y="2129.98">RSAD2</text>
<text x="1452" y="2162.99">CMPK2</text>
<text x="1452" y="2196.00">OAS1</text>
<text x="1452" y="2229.01">IFIT3</text>
<text x="1452" y="2262.02">NRXN1</text>
<text x="1452" y="2295.03">GPC4</text>
<text x="1452" y="2328.04">FAM20A</text>
<text x="1452" y="2361.12">SPTSSB</text>
</g>
<g font-family="Liberation Sans, Arial, sans-serif" font-weight="bold" font-size="22.3" fill="#000">
<text x="1451.5" y="21.00" font-size="22.0">cohort</text>
<text x="1451.5" y="47.80" font-size="22.0">cell_genotype</text>
<text x="1451.5" y="74.65" font-size="22.0">cell_source</text>
</g>
<g font-family="Liberation Sans, Arial, sans-serif" font-size="17.7" fill="#000" text-anchor="end">
<text transform="translate(247.15,2387.2) rotate(-45)" x="0" y="0">VITRO_E1a</text>
<text transform="translate(273.05,2387.2) rotate(-45)" x="0" y="0">VITRO_E1b</text>
<text transform="translate(298.50,2387.2) rotate(-45)" x="0" y="0">VITRO_E1c</text>
<text transform="translate(323.95,2387.2) rotate(-45)" x="0" y="0">VITRO_E1d</text>
<text transform="translate(349.80,2387.2) rotate(-45)" x="0" y="0">VITRO_E2a</text>
<text transform="translate(375.80,2387.2) rotate(-45)" x="0" y="0">VITRO_E2b</text>
<text transform="translate(401.75,2387.2) rotate(-45)" x="0" y="0">VITRO_E2c</text>
<text transform="translate(427.75,2387.2) rotate(-45)" x="0" y="0">VITRO_E2d</text>
<text transform="translate(453.85,2387.2) rotate(-45)" x="0" y="0">VITRO_E3a</text>
<text transform="translate(479.85,2387.2) rotate(-45)" x="0" y="0">VITRO_E3b</text>
<text transform="translate(505.80,2387.2) rotate(-45)" x="0" y="0">VITRO_E3c</text>
<text transform="translate(531.80,2387.2) rotate(-45)" x="0" y="0">VITRO_E3d</text>
<text transform="translate(567.15,2387.2) rotate(-45)" x="0" y="0">VITRO_L1a</text>
<text transform="translate(592.60,2387.2) rotate(-45)" x="0" y="0">VITRO_L1b</text>
<text transform="translate(618.00,2387.2) rotate(-45)" x="0" y="0">VITRO_L1c</text>
<text transform="translate(644.05,2387.2) rotate(-45)" x="0" y="0">VITRO_L1d</text>
<text transform="translate(670.00,2387.2) rotate(-45)" x="0" y="0">VITRO_L2a</text>
<text transform="translate(695.85,2387.2) rotate(-45)" x="0" y="0">VITRO_L2b</text>
<text transform="translate(721.85,2387.2) rotate(-45)" x="0" y="0">VITRO_L2c</text>
<text transform="translate(747.90,2387.2) rotate(-45)" x="0" y="0">VITRO_L2d</text>
<text transform="translate(773.95,2387.2) rotate(-45)" x="0" y="0">VITRO_L3a</text>
<text transform="translate(799.95,2387.2) rotate(-45)" x="0" y="0">VITRO_L3b</text>
<text transform="translate(826.00,2387.2) rotate(-45)" x="0" y="0">VITRO_L3c</text>
<text transform="translate(852.15,2387.2) rotate(-45)" x="0" y="0">VITRO_L3d</text>
<text transform="translate(886.60,2387.2) rotate(-45)" x="0" y="0">VIVO_E1a</text>
<text transform="translate(911.75,2387.2) rotate(-45)" x="0" y="0">VIVO_E1b</text>
<text transform="translate(937.60,2387.2) rotate(-45)" x="0" y="0">VIVO_E1c</text>
<text transform="translate(963.60,2387.2) rotate(-45)" x="0" y="0">VIVO_E1d</text>
<text transform="translate(989.60,2387.2) rotate(-45)" x="0" y="0">VIVO_E2a</text>
<text transform="translate(1015.45,2387.2) rotate(-45)" x="0" y="0">VIVO_E2b</text>
<text transform="translate(1041.40,2387.2) rotate(-45)" x="0" y="0">VIVO_E2c</text>
<text transform="translate(1067.35,2387.2) rotate(-45)" x="0" y="0">VIVO_E2d</text>
<text transform="translate(1093.35,2387.2) rotate(-45)" x="0" y="0">VIVO_E3a</text>
<text transform="translate(1119.30,2387.2) rotate(-45)" x="0" y="0">VIVO_E3b</text>
<text transform="translate(1145.20,2387.2) rotate(-45)" x="0" y="0">VIVO_E3c</text>
<text transform="translate(1171.20,2387.2) rotate(-45)" x="0" y="0">VIVO_E3d</text>
<text transform="translate(1206.05,2387.2) rotate(-45)" x="0" y="0">VIVO_L1a</text>
<text transform="translate(1231.80,2387.2) rotate(-45)" x="0" y="0">VIVO_L1b</text>
<text transform="translate(1257.70,2387.2) rotate(-45)" x="0" y="0">VIVO_L1d</text>
<text transform="translate(1283.65,2387.2) rotate(-45)" x="0" y="0">VIVO_L2a</text>
<text transform="translate(1309.65,2387.2) rotate(-45)" x="0" y="0">VIVO_L2b</text>
<text transform="translate(1335.65,2387.2) rotate(-45)" x="0" y="0">VIVO_L2c</text>
<text transform="translate(1361.60,2387.2) rotate(-45)" x="0" y="0">VIVO_L2d</text>
<text transform="translate(1387.65,2387.2) rotate(-45)" x="0" y="0">VIVO_L3b</text>
<text transform="translate(1413.65,2387.2) rotate(-45)" x="0" y="0">VIVO_L3c</text>
<text transform="translate(1439.65,2387.2) rotate(-45)" x="0" y="0">VIVO_L3d</text>
</g>
<g font-family="Liberation Sans, Arial, sans-serif" font-weight="bold" font-size="22.3" fill="#000" text-anchor="end">
<text transform="translate(164.50,2389.6) rotate(-45)" x="0" y="0">interferon_signaling</text>
<text transform="translate(191.45,2389.6) rotate(-45)" x="0" y="0">interferon_gamma</text>
<text transform="translate(218.40,2389.6) rotate(-45)" x="0" y="0">interferon_alpha</text>
</g>
<rect x="1569.3" y="94.4" width="4.5" height="740.1" fill="#000"/>
<rect x="1600.2" y="851.9" width="4.6" height="1514.8" fill="#000"/>
<g font-family="Liberation Sans, Arial, sans-serif" font-weight="bold" font-size="27" fill="#000">
<text x="1593.7" y="443.6" font-size="27.5">6</text>
<text x="1624.5" y="1469.9">7</text>
</g>
<defs><linearGradient id="cb" x1="0" y1="0" x2="0" y2="1">
<stop offset="0.000" stop-color="#e40005"/>
<stop offset="0.010" stop-color="#e40005"/>
<stop offset="0.020" stop-color="#e40005"/>
<stop offset="0.030" stop-color="#e40005"/>
<stop offset="0.040" stop-color="#e40005"/>
<stop offset="0.050" stop-color="#e40005"/>
<stop offset="0.060" stop-color="#e40409"/>
<stop offset="0.070" stop-color="#e50a0f"/>
<stop offset="0.080" stop-color="#e61014"/>
<stop offset="0.090" stop-color="#e6151a"/>
<stop offset="0.100" stop-color="#e71b1f"/>
<stop offset="0.110" stop-color="#e72125"/>
<stop offset="0.120" stop-color="#e8272b"/>
<stop offset="0.130" stop-color="#e92c30"/>
<stop offset="0.140" stop-color="#e93236"/>
<stop offset="0.150" stop-color="#ea383c"/>
<stop offset="0.160" stop-color="#eb3e41"/>
<stop offset="0.170" stop-color="#eb4347"/>
<stop offset="0.180" stop-color="#ec494d"/>
<stop offset="0.190" stop-color="#ec4f52"/>
<stop offset="0.200" stop-color="#ed5458"/>
<stop offset="0.210" stop-color="#ee5a5d"/>
<stop offset="0.220" stop-color="#ee6063"/>
<stop offset="0.230" stop-color="#ef6669"/>
<stop offset="0.240" stop-color="#ef6b6e"/>
<stop offset="0.250" stop-color="#f07174"/>
<stop offset="0.260" stop-color="#f1777a"/>
<stop offset="0.270" stop-color="#f17d7f"/>
<stop offset="0.280" stop-color="#f28285"/>
<stop offset="0.290" stop-color="#f2888b"/>
<stop offset="0.300" stop-color="#f38e90"/>
<stop offset="0.310" stop-color="#f49496"/>
<stop offset="0.320" stop-color="#f4999b"/>
<stop offset="0.330" stop-color="#f59fa1"/>
<stop offset="0.340" stop-color="#f5a5a7"/>
<stop offset="0.350" stop-color="#f6abac"/>
<stop offset="0.360" stop-color="#f7b0b2"/>
<stop offset="0.370" stop-color="#f7b6b8"/>
<stop offset="0.380" stop-color="#f8bcbd"/>
<stop offset="0.390" stop-color="#f9c2c3"/>
<stop offset="0.400" stop-color="#f9c7c9"/>
<stop offset="0.410" stop-color="#facdce"/>
<stop offset="0.420" stop-color="#fad3d4"/>
<stop offset="0.430" stop-color="#fbd9d9"/>
<stop offset="0.440" stop-color="#fcdedf"/>
<stop offset="0.450" stop-color="#fce4e5"/>
<stop offset="0.460" stop-color="#fdeaea"/>
<stop offset="0.470" stop-color="#fdf0f0"/>
<stop offset="0.480" stop-color="#fef5f6"/>
<stop offset="0.490" stop-color="#fffbfb"/>
<stop offset="0.500" stop-color="#fdfdff"/>
<stop offset="0.510" stop-color="#f8f7fe"/>
<stop offset="0.520" stop-color="#f2f2fe"/>
<stop offset="0.530" stop-color="#edecfd"/>
<stop offset="0.540" stop-color="#e7e6fd"/>
<stop offset="0.550" stop-color="#e1e0fd"/>
<stop offset="0.560" stop-color="#dcdbfc"/>
<stop offset="0.570" stop-color="#d6d5fc"/>
<stop offset="0.580" stop-color="#d1cffb"/>
<stop offset="0.590" stop-color="#cbc9fb"/>
<stop offset="0.600" stop-color="#c6c4fa"/>
<stop offset="0.610" stop-color="#c0befa"/>
<stop offset="0.620" stop-color="#bbb8f9"/>
<stop offset="0.630" stop-color="#b5b2f9"/>
<stop offset="0.640" stop-color="#b0adf9"/>
<stop offset="0.650" stop-color="#aaa7f8"/>
<stop offset="0.660" stop-color="#a5a1f8"/>
<stop offset="0.670" stop-color="#9f9bf7"/>
<stop offset="0.680" stop-color="#9a96f7"/>
<stop offset="0.690" stop-color="#9490f6"/>
<stop offset="0.700" stop-color="#8f8af6"/>
<stop offset="0.710" stop-color="#8984f5"/>
<stop offset="0.720" stop-color="#847ff5"/>
<stop offset="0.730" stop-color="#7e79f4"/>
<stop offset="0.740" stop-color="#7973f4"/>
<stop offset="0.750" stop-color="#736df4"/>
<stop offset="0.760" stop-color="#6d68f3"/>
<stop offset="0.770" stop-color="#6862f3"/>
<stop offset="0.780" stop-color="#625cf2"/>
<stop offset="0.790" stop-color="#5d56f2"/>
<stop offset="0.800" stop-color="#5751f1"/>
<stop offset="0.810" stop-color="#524bf1"/>
<stop offset="0.820" stop-color="#4c45f0"/>
<stop offset="0.830" stop-color="#473ff0"/>
<stop offset="0.840" stop-color="#413af0"/>
<stop offset="0.850" stop-color="#3c34ef"/>
<stop offset="0.860" stop-color="#362eef"/>
<stop offset="0.870" stop-color="#3128ee"/>
<stop offset="0.880" stop-color="#2b23ee"/>
<stop offset="0.890" stop-color="#261ded"/>
<stop offset="0.900" stop-color="#2017ed"/>
<stop offset="0.910" stop-color="#1b11ec"/>
<stop offset="0.920" stop-color="#150cec"/>
<stop offset="0.930" stop-color="#1006eb"/>
<stop offset="0.940" stop-color="#0a00eb"/>
<stop offset="0.950" stop-color="#0a00eb"/>
<stop offset="0.960" stop-color="#0a00eb"/>
<stop offset="0.970" stop-color="#0a00eb"/>
<stop offset="0.980" stop-color="#0a00eb"/>
<stop offset="0.990" stop-color="#0a00eb"/>
<stop offset="1.000" stop-color="#0a00eb"/>
</linearGradient></defs>
<rect x="1604.8" y="0" width="22.1" height="335.9" fill="url(#cb)"/>
<g font-family="Liberation Sans, Arial, sans-serif" font-size="22.4" fill="#000">
<text x="1635.2" y="47.10">4</text>
<text x="1635.2" y="111.30">2</text>
<text x="1635.2" y="174.80">0</text>
<text x="1635.2" y="238.40">-2</text>
<text x="1635.2" y="301.20">-4</text>
</g>
<text x="1669" y="15.20" font-family="Liberation Sans, Arial, sans-serif" font-weight="bold" font-size="22.3">cohort</text>
<rect x="1669.9" y="23.10" width="31.50" height="32.20" fill="#2b2b2b" stroke="#878787" stroke-width="1.4"/>
<text x="1708.3" y="47.40" font-family="Liberation Sans, Arial, sans-serif" font-size="22.4">1</text>
<rect x="1669.9" y="55.30" width="31.50" height="32.20" fill="#5e5e5e" stroke="#878787" stroke-width="1.4"/>
<text x="1708.3" y="79.60" font-family="Liberation Sans, Arial, sans-serif" font-size="22.4">2</text>
<rect x="1669.9" y="87.50" width="31.50" height="31.90" fill="#d6d6d6" stroke="#878787" stroke-width="1.4"/>
<text x="1708.3" y="111.65" font-family="Liberation Sans, Arial, sans-serif" font-size="22.4">3</text>
<text x="1669" y="159.10" font-family="Liberation Sans, Arial, sans-serif" font-weight="bold" font-size="22.3">cell_genotype</text>
<rect x="1669.9" y="167.20" width="31.50" height="31.20" fill="#fd8f0b" stroke="#878787" stroke-width="1.4"/>
<text x="1708.3" y="191.00" font-family="Liberation Sans, Arial, sans-serif" font-size="22.4">E</text>
<rect x="1669.9" y="198.40" width="31.50" height="31.50" fill="#49ed81" stroke="#878787" stroke-width="1.4"/>
<text x="1708.3" y="222.35" font-family="Liberation Sans, Arial, sans-serif" font-size="22.4">L</text>
<text x="1669" y="270.00" font-family="Liberation Sans, Arial, sans-serif" font-weight="bold" font-size="22.3">cell_source</text>
<rect x="1669.9" y="277.20" width="31.50" height="31.20" fill="#1bc4c6" stroke="#878787" stroke-width="1.4"/>
<text x="1708.3" y="301.00" font-family="Liberation Sans, Arial, sans-serif" font-size="22.4">VITRO</text>
<rect x="1669.9" y="308.40" width="31.50" height="31.60" fill="#bf0060" stroke="#878787" stroke-width="1.4"/>
<text x="1708.3" y="332.40" font-family="Liberation Sans, Arial, sans-serif" font-size="22.4">VIVO</text>
<text x="1669" y="380.00" font-family="Liberation Sans, Arial, sans-serif" font-weight="bold" font-size="22.3">interferon_signaling</text>
<rect x="1669.9" y="388.10" width="31.50" height="31.10" fill="#f8f8ff" stroke="#878787" stroke-width="1.4"/>
<text x="1708.3" y="411.85" font-family="Liberation Sans, Arial, sans-serif" font-size="22.4">0</text>
<rect x="1669.9" y="419.20" width="31.50" height="31.90" fill="#2b1d47" stroke="#878787" stroke-width="1.4"/>
<text x="1708.3" y="443.35" font-family="Liberation Sans, Arial, sans-serif" font-size="22.4">1</text>
<text x="1669" y="491.10" font-family="Liberation Sans, Arial, sans-serif" font-weight="bold" font-size="22.3">interferon_gamma</text>
<rect x="1669.9" y="500.00" width="31.50" height="31.50" fill="#f8f8ff" stroke="#878787" stroke-width="1.4"/>
<text x="1708.3" y="523.95" font-family="Liberation Sans, Arial, sans-serif" font-size="22.4">0</text>
<rect x="1669.9" y="531.50" width="31.50" height="30.70" fill="#b3429a" stroke="#878787" stroke-width="1.4"/>
<text x="1708.3" y="555.05" font-family="Liberation Sans, Arial, sans-serif" font-size="22.4">1</text>
<text x="1669" y="602.20" font-family="Liberation Sans, Arial, sans-serif" font-weight="bold" font-size="22.3">interferon_alpha</text>
<rect x="1669.9" y="610.70" width="31.50" height="31.40" fill="#f8f8ff" stroke="#878787" stroke-width="1.4"/>
<text x="1708.3" y="634.60" font-family="Liberation Sans, Arial, sans-serif" font-size="22.4">0</text>
<rect x="1669.9" y="642.10" width="31.50" height="31.10" fill="#662369" stroke="#878787" stroke-width="1.4"/>
<text x="1708.3" y="665.85" font-family="Liberation Sans, Arial, sans-serif" font-size="22.4">1</text>
</svg>
</body></html>
